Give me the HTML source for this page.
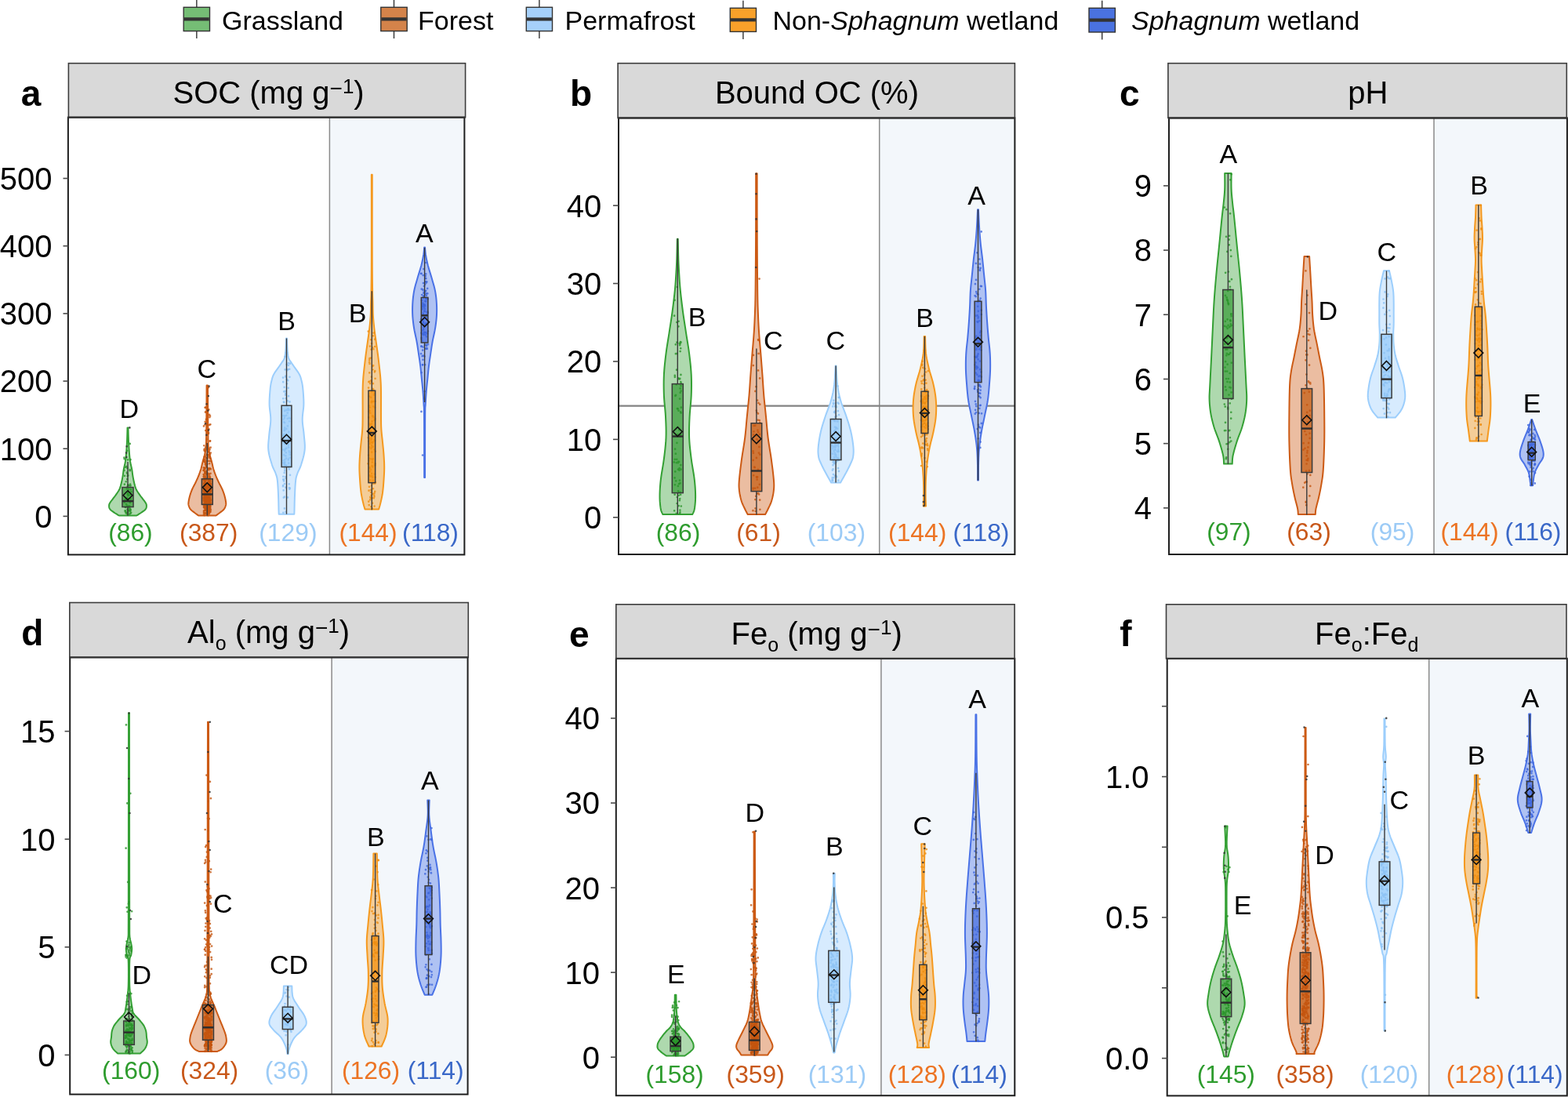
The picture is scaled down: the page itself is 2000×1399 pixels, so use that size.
<!DOCTYPE html><html><head><meta charset="utf-8"><title>Soil violin plots</title><style>html,body{margin:0;padding:0;background:#fff;}svg{display:block;}text{font-family:"Liberation Sans", Arial, Helvetica, sans-serif;}</style></head><body>
<svg width="2000" height="1399" viewBox="0 0 2000 1399">
<rect x="0" y="0" width="2000" height="1399" fill="#ffffff"/>
<line x1="250.85" y1="-0.2" x2="250.85" y2="9.3" stroke="#333" stroke-width="1.4"/>
<line x1="250.85" y1="39.6" x2="250.85" y2="49.1" stroke="#333" stroke-width="1.4"/>
<rect x="234.2" y="9.3" width="33.3" height="30.3" fill="#75bd75" stroke="#333" stroke-width="1.4"/>
<line x1="234.9" y1="24.45" x2="266.8" y2="24.45" stroke="#333" stroke-width="4.2"/>
<text x="283" y="38.3" font-size="34" fill="#000" xml:space="preserve">Grassland</text>
<line x1="502.5" y1="-0.2" x2="502.5" y2="9.3" stroke="#333" stroke-width="1.4"/>
<line x1="502.5" y1="39.6" x2="502.5" y2="49.1" stroke="#333" stroke-width="1.4"/>
<rect x="485.8" y="9.3" width="33.4" height="30.3" fill="#d4834a" stroke="#333" stroke-width="1.4"/>
<line x1="486.5" y1="24.45" x2="518.5" y2="24.45" stroke="#333" stroke-width="4.2"/>
<text x="533" y="38.3" font-size="34" fill="#000" xml:space="preserve">Forest</text>
<line x1="687.9" y1="-0.2" x2="687.9" y2="9.3" stroke="#333" stroke-width="1.4"/>
<line x1="687.9" y1="39.6" x2="687.9" y2="49.1" stroke="#333" stroke-width="1.4"/>
<rect x="671.3" y="9.3" width="33.2" height="30.3" fill="#a6d0fa" stroke="#333" stroke-width="1.4"/>
<line x1="672" y1="24.45" x2="703.8" y2="24.45" stroke="#333" stroke-width="4.2"/>
<text x="720.5" y="38.3" font-size="34" fill="#000" xml:space="preserve">Permafrost</text>
<line x1="947.9" y1="0.8" x2="947.9" y2="10.3" stroke="#333" stroke-width="1.4"/>
<line x1="947.9" y1="40.4" x2="947.9" y2="49.9" stroke="#333" stroke-width="1.4"/>
<rect x="931.3" y="10.3" width="33.2" height="30.1" fill="#f9a12a" stroke="#333" stroke-width="1.4"/>
<line x1="932" y1="25.35" x2="963.8" y2="25.35" stroke="#333" stroke-width="4.2"/>
<text x="985.5" y="38.3" font-size="34" fill="#000" xml:space="preserve">Non-<tspan font-style="italic">Sphagnum</tspan> wetland</text>
<line x1="1405.7" y1="0.8" x2="1405.7" y2="10.3" stroke="#333" stroke-width="1.4"/>
<line x1="1405.7" y1="41" x2="1405.7" y2="50.5" stroke="#333" stroke-width="1.4"/>
<rect x="1389" y="10.3" width="33.4" height="30.7" fill="#4a72e0" stroke="#333" stroke-width="1.4"/>
<line x1="1389.7" y1="25.65" x2="1421.7" y2="25.65" stroke="#333" stroke-width="4.2"/>
<text x="1443" y="38.3" font-size="34" fill="#000" xml:space="preserve"><tspan font-style="italic">Sphagnum</tspan> wetland</text>
<rect x="86.9" y="149.6" width="505.5" height="557.8" fill="#ffffff"/>
<rect x="420.4" y="149.6" width="172" height="557.8" fill="#f3f7fb"/>
<line x1="420.4" y1="149.6" x2="420.4" y2="707.4" stroke="#8a8a8a" stroke-width="1.5"/>
<path d="M163.45 545.4 L163.51 547.52 L163.58 550.44 L163.67 553.9 L163.79 557.65 L163.93 561.44 L164.1 565 L164.3 568.49 L164.53 572.14 L164.78 575.83 L165.06 579.42 L165.37 582.79 L165.7 585.8 L166.08 588.43 L166.51 590.79 L166.97 592.92 L167.43 594.88 L167.85 596.72 L168.2 598.5 L168.47 600.16 L168.68 601.64 L168.85 603.01 L169.01 604.32 L169.19 605.63 L169.4 607 L169.64 608.42 L169.9 609.83 L170.16 611.25 L170.45 612.67 L170.76 614.08 L171.1 615.5 L171.45 616.92 L171.79 618.33 L172.16 619.75 L172.59 621.17 L173.09 622.58 L173.7 624 L174.44 625.42 L175.29 626.83 L176.21 628.25 L177.19 629.67 L178.2 631.08 L179.2 632.5 L180.27 633.97 L181.46 635.49 L182.66 637.01 L183.81 638.48 L184.82 639.83 L185.6 641 L186.14 641.96 L186.51 642.75 L186.73 643.42 L186.85 644.03 L186.89 644.64 L186.9 645.3 L186.88 646 L186.81 646.7 L186.68 647.4 L186.44 648.1 L186.09 648.8 L185.6 649.5 L184.93 650.22 L184.09 650.95 L183.14 651.68 L182.12 652.41 L181.09 653.12 L180.1 653.8 L179.07 654.49 L177.94 655.21 L176.81 655.92 L175.74 656.56 L174.85 657.1 L174.2 657.5 L151.8 657.5 L151.15 657.1 L150.26 656.56 L149.19 655.92 L148.06 655.21 L146.93 654.49 L145.9 653.8 L144.91 653.12 L143.88 652.41 L142.86 651.68 L141.91 650.95 L141.07 650.22 L140.4 649.5 L139.91 648.8 L139.56 648.1 L139.32 647.4 L139.19 646.7 L139.12 646 L139.1 645.3 L139.11 644.64 L139.15 644.03 L139.27 643.42 L139.49 642.75 L139.86 641.96 L140.4 641 L141.18 639.83 L142.19 638.48 L143.34 637.01 L144.54 635.49 L145.73 633.97 L146.8 632.5 L147.8 631.08 L148.81 629.67 L149.79 628.25 L150.71 626.83 L151.56 625.42 L152.3 624 L152.91 622.58 L153.41 621.17 L153.84 619.75 L154.21 618.33 L154.55 616.92 L154.9 615.5 L155.24 614.08 L155.55 612.67 L155.84 611.25 L156.1 609.83 L156.36 608.42 L156.6 607 L156.81 605.63 L156.99 604.32 L157.15 603.01 L157.32 601.64 L157.53 600.16 L157.8 598.5 L158.15 596.72 L158.57 594.88 L159.03 592.92 L159.49 590.79 L159.92 588.43 L160.3 585.8 L160.63 582.79 L160.94 579.42 L161.22 575.83 L161.47 572.14 L161.7 568.49 L161.9 565 L162.07 561.44 L162.21 557.65 L162.33 553.9 L162.42 550.44 L162.49 547.52 L162.55 545.4 Z" fill="#aed9ae" stroke="#34a034" stroke-width="2" stroke-linejoin="round"/>
<rect x="155.95" y="621.5" width="14.1" height="25" fill="#5aad5a" fill-opacity="1"/>
<path d="M163.33 618.37h0M163.07 586.39h0M166.3 654.84h0M163.75 636.89h0M158.95 606.8h0M163.68 623.76h0M167.42 627.17h0M162.9 630.28h0M166.45 631.11h0M164.51 651.3h0M161.95 637.54h0M162.65 620.36h0M160.02 652.76h0M162.25 574.85h0M163.14 652.24h0M162.07 634.84h0M158.4 583.52h0M166.44 586.16h0M160.72 614.24h0M162.85 656.73h0M158.61 638.31h0M159.75 652.01h0M163.26 606.29h0M161.77 623.44h0M165.93 640.98h0" stroke="#2b952b" stroke-opacity="0.8" stroke-width="2.7" stroke-linecap="round" fill="none"/>
<path d="M163.16 628.34h0M158.66 585.26h0M162.81 646.32h0M165.3 647.39h0M165.66 598.99h0M162.09 654.32h0M159.96 651.54h0M159.74 646.83h0M163.45 619.08h0M163.24 654.24h0M166.42 650.06h0M160.72 638.01h0M162.25 611.14h0M162.45 604.09h0M165.75 565.93h0M163.57 631.97h0M166.46 650.94h0M163.55 651.02h0M159.66 651.14h0M166.52 619.41h0M167.16 653.86h0M163.5 626.35h0M161.45 594.78h0M159.77 637.21h0M164.84 648.44h0" stroke="#2b952b" stroke-opacity="0.8" stroke-width="2.7" stroke-linecap="round" fill="none"/>
<path d="M163 630.54h0M162.77 607.17h0M165.93 650.17h0M163.06 638.96h0M160.99 642.99h0M162.5 596.9h0M160.65 654.43h0M161.68 653.65h0M165.06 655.79h0M166.08 617.5h0M165.15 645.39h0M163.22 636.45h0M165.74 600.25h0M163.32 629.28h0M165.18 619.31h0M161.92 654.78h0M164.31 631.38h0M162.62 650.35h0M165.95 652.2h0M166.66 624.24h0M158.43 599.9h0M165.31 639.59h0M166.92 639.46h0M167.01 638.97h0M161.83 602.68h0" stroke="#2b952b" stroke-opacity="0.8" stroke-width="2.7" stroke-linecap="round" fill="none"/>
<path d="M166.8 636.42h0M165.02 650.85h0M158.85 617.65h0M162.74 649.29h0M160.42 646.96h0M160.17 595.84h0M162.2 644.86h0M163.03 653.88h0M158.6 640.54h0M163.8 645.81h0M166.27 649.3h0" stroke="#2b952b" stroke-opacity="0.8" stroke-width="2.7" stroke-linecap="round" fill="none"/>
<path d="M165.36 545.4h0M161.74 569.2h0M161.05 577.5h0M161.27 583h0" stroke="#333" stroke-opacity="0.85" stroke-width="2.6" stroke-linecap="round" fill="none"/>
<line x1="163" y1="588.9" x2="163" y2="621.5" stroke="#3a3a3a" stroke-width="1.4"/>
<line x1="163" y1="646.5" x2="163" y2="657.5" stroke="#3a3a3a" stroke-width="1.4"/>
<rect x="155.95" y="621.5" width="14.1" height="25" fill="none" stroke="#3a3a3a" stroke-width="1.5"/>
<line x1="155.95" y1="639.1" x2="170.05" y2="639.1" stroke="#2d2d2d" stroke-width="2.4"/>
<path d="M163 625.8 L168.9 631.7 L163 637.6 L157.1 631.7 Z" fill="none" stroke="#111" stroke-width="1.6" stroke-linejoin="miter"/>
<text x="164.8" y="532.9" font-size="34" text-anchor="middle" fill="#000">D</text>
<text x="166.4" y="690" font-size="31.8" text-anchor="middle" fill="#2e9c2e">(86)</text>
<path d="M265 491.5 L265.05 499.57 L265.11 511.24 L265.19 524.81 L265.28 538.59 L265.38 550.89 L265.5 560 L265.61 565.6 L265.69 568.96 L265.79 570.84 L265.94 571.98 L266.17 573.12 L266.5 575 L266.99 577.58 L267.62 580.24 L268.33 582.91 L269.06 585.48 L269.73 587.88 L270.3 590 L270.74 591.79 L271.09 593.31 L271.4 594.66 L271.7 595.91 L272.02 597.16 L272.4 598.5 L272.84 599.92 L273.3 601.33 L273.79 602.75 L274.31 604.17 L274.84 605.58 L275.4 607 L275.98 608.42 L276.59 609.83 L277.22 611.25 L277.87 612.67 L278.53 614.08 L279.2 615.5 L279.9 616.92 L280.64 618.33 L281.4 619.75 L282.14 621.17 L282.85 622.58 L283.5 624 L284.09 625.42 L284.64 626.83 L285.16 628.25 L285.64 629.67 L286.09 631.08 L286.5 632.5 L286.88 633.97 L287.24 635.49 L287.57 637.01 L287.84 638.48 L288.06 639.83 L288.2 641 L288.26 641.96 L288.26 642.75 L288.19 643.42 L288.07 644.03 L287.9 644.64 L287.7 645.3 L287.48 646 L287.23 646.7 L286.94 647.4 L286.58 648.1 L286.14 648.8 L285.6 649.5 L284.92 650.22 L284.12 650.95 L283.24 651.68 L282.31 652.41 L281.38 653.12 L280.5 653.8 L279.59 654.49 L278.61 655.21 L277.63 655.92 L276.72 656.56 L275.95 657.1 L275.4 657.5 L253.2 657.5 L252.65 657.1 L251.88 656.56 L250.97 655.92 L249.99 655.21 L249.01 654.49 L248.1 653.8 L247.22 653.12 L246.29 652.41 L245.36 651.68 L244.48 650.95 L243.68 650.22 L243 649.5 L242.46 648.8 L242.02 648.1 L241.66 647.4 L241.37 646.7 L241.12 646 L240.9 645.3 L240.7 644.64 L240.53 644.03 L240.41 643.42 L240.34 642.75 L240.34 641.96 L240.4 641 L240.54 639.83 L240.76 638.48 L241.03 637.01 L241.36 635.49 L241.72 633.97 L242.1 632.5 L242.51 631.08 L242.96 629.67 L243.44 628.25 L243.96 626.83 L244.51 625.42 L245.1 624 L245.75 622.58 L246.46 621.17 L247.2 619.75 L247.96 618.33 L248.7 616.92 L249.4 615.5 L250.07 614.08 L250.73 612.67 L251.38 611.25 L252.01 609.83 L252.62 608.42 L253.2 607 L253.76 605.58 L254.29 604.17 L254.81 602.75 L255.3 601.33 L255.76 599.92 L256.2 598.5 L256.58 597.16 L256.9 595.91 L257.2 594.66 L257.51 593.31 L257.86 591.79 L258.3 590 L258.87 587.88 L259.54 585.48 L260.27 582.91 L260.98 580.24 L261.61 577.58 L262.1 575 L262.43 573.12 L262.66 571.98 L262.81 570.84 L262.91 568.96 L262.99 565.6 L263.1 560 L263.22 550.89 L263.32 538.59 L263.41 524.81 L263.49 511.24 L263.55 499.57 L263.6 491.5 Z" fill="#ebbda1" stroke="#cc5a14" stroke-width="2" stroke-linejoin="round"/>
<rect x="257.35" y="610.7" width="13.9" height="32.7" fill="#cf7638" fill-opacity="1"/>
<path d="M265.66 647.79h0M264.77 618.46h0M260.88 598.65h0M260.35 607.46h0M262.47 591.28h0M259.9 608.47h0M267.03 604.81h0M261.59 614.2h0M267.24 652.5h0M268.46 617.74h0M266.44 640.6h0M259.99 646.86h0M262.27 519.6h0M263.68 627.88h0M263.48 640.4h0M260.07 626.26h0M266.58 644.23h0M262.21 640.66h0M262.11 650.48h0M262.24 610.46h0M268.38 643.63h0M262.01 649.85h0M267.08 645.56h0M262.72 619.79h0M261.52 621.35h0" stroke="#c4550f" stroke-opacity="0.8" stroke-width="2.7" stroke-linecap="round" fill="none"/>
<path d="M260.3 616.48h0M261.85 609.32h0M260.81 632.1h0M264.92 631.08h0M262.7 638.27h0M268.82 625.7h0M268.11 627.47h0M268.26 653.01h0M263.09 594.41h0M259.8 599.67h0M260.63 582.48h0M261.21 597.6h0M262.31 606.94h0M259.75 612.35h0M267.25 641.17h0M268.02 645.24h0M261.38 631.99h0M267.41 617.24h0M261.35 620.98h0M265.56 576.19h0M260.2 620.59h0M267.59 649.34h0M268.73 626.79h0M266.95 643.56h0M262.93 645.98h0" stroke="#c4550f" stroke-opacity="0.8" stroke-width="2.7" stroke-linecap="round" fill="none"/>
<path d="M267.95 617.03h0M262.12 644.2h0M265.04 636.41h0M268.84 638h0M268.81 623.91h0M261.33 618.43h0M267.24 614.94h0M265.81 654.85h0M260.01 543.4h0M261.79 640.16h0M259.72 599.92h0M261.07 646.97h0M263.4 636.13h0M268.01 613.26h0M261.54 647.69h0M266.28 639.13h0M266.52 615.2h0M262.15 631.83h0M262.14 622.38h0M262.71 648.32h0M261.9 637.61h0M266.07 642.16h0M260.69 643.29h0M267.29 626.3h0M260.62 596.34h0" stroke="#c4550f" stroke-opacity="0.8" stroke-width="2.7" stroke-linecap="round" fill="none"/>
<path d="M262.65 610.32h0M267.53 651.52h0M263.5 594.13h0M267.24 634.63h0M261.56 519.78h0M267.87 639.31h0M263.94 638.24h0M260.86 619.89h0M261.14 631.55h0M261.5 613.23h0M261.6 597.4h0M264.98 642.23h0M261.8 615.85h0M267.54 619.99h0M263.56 595.79h0M265.49 621.37h0M265.72 645.91h0M264.21 620.68h0M264.7 653.29h0M260.63 647.64h0M266 648.86h0M261.71 647.53h0M261.65 624.55h0M264.02 625.89h0M265.58 651.5h0" stroke="#c4550f" stroke-opacity="0.8" stroke-width="2.7" stroke-linecap="round" fill="none"/>
<path d="M264.01 627.41h0M266.34 522.36h0M260.22 645.67h0M267.35 621.65h0M259.81 596.6h0M262 649.49h0M261.24 641.58h0M266.89 639.43h0M265.56 650.96h0M265.31 597.1h0M266.31 640.5h0M264.07 634.54h0M267.32 628.74h0M266.99 653.35h0M260.16 638.51h0M261.45 541.37h0M265.75 644.46h0M263.09 643.24h0M264.87 628.05h0M264.92 646.52h0M268.15 626.02h0M263.26 565.61h0M263.49 654.31h0M265.99 494.08h0M266.45 610.91h0" stroke="#c4550f" stroke-opacity="0.8" stroke-width="2.7" stroke-linecap="round" fill="none"/>
<path d="M260.48 633.51h0M259.84 610.56h0M267.62 612.59h0M264.91 648.36h0M265.27 628.85h0M259.72 625.54h0M267.37 638.81h0M266 632.8h0M260.48 643.18h0M265.28 646.17h0M261.84 625.39h0M264.08 638.43h0M261.47 589.33h0M260.68 657.03h0M260.05 651.44h0M265.2 642.55h0M264.89 650.74h0M267.4 641.36h0M261.03 655.08h0M265.14 603.86h0M262.68 617.31h0M266.3 603.99h0M268.29 645.49h0M260.99 635.38h0M265.48 645.68h0" stroke="#c4550f" stroke-opacity="0.8" stroke-width="2.7" stroke-linecap="round" fill="none"/>
<path d="M265.48 628.13h0M267.71 583.36h0M261.24 630.87h0M268.7 641.43h0M264.09 602.43h0M262.36 645.06h0M266.38 640.27h0M260.3 588.27h0M266.34 613.13h0M259.84 635.01h0M267.72 642.6h0M261.2 629.55h0M264.42 649.87h0M260.59 627.15h0M259.86 607.53h0M260.83 610.54h0M267.3 615.43h0M263.57 647.14h0M263.34 630.89h0M262.81 647.75h0M263.68 579.61h0M260.98 575.29h0M267.15 647.03h0M260.02 638.31h0M265.94 598h0" stroke="#c4550f" stroke-opacity="0.8" stroke-width="2.7" stroke-linecap="round" fill="none"/>
<path d="M262.01 644.95h0M262.51 649.34h0M265.17 598.99h0M262.17 650.21h0M266.24 599.46h0M264.82 634.57h0M266.8 655.43h0M260.27 636.13h0M261.77 613.58h0M261.12 650.74h0M264.46 632.6h0M266.92 617.61h0M263.54 651.32h0M263.29 611.53h0M263.79 632.53h0M268.17 588.04h0M260.14 642.66h0M264.65 644.27h0M264.53 648.85h0M263.75 651.6h0M262.63 626.94h0M267.25 639.99h0M266.05 622.25h0M265.85 631.3h0M267.12 628.14h0" stroke="#c4550f" stroke-opacity="0.8" stroke-width="2.7" stroke-linecap="round" fill="none"/>
<path d="M266.28 619.42h0M262.91 641.54h0M262.6 646.02h0M262.49 640.71h0M262.54 610.77h0M266.99 636.8h0M264.87 652.78h0M261.95 628.59h0M261.13 601.77h0M262.18 608.67h0M263.78 630.11h0M261.16 630.33h0M267.98 608.77h0M265.75 619.61h0M267.82 642.38h0M262.24 634.47h0M263.5 601.66h0M266.26 643.01h0M267.42 597.46h0M259.71 605.1h0M262.33 629.99h0M261.95 592.33h0M266.09 615.92h0M260.53 629.07h0M268.26 648.6h0" stroke="#c4550f" stroke-opacity="0.8" stroke-width="2.7" stroke-linecap="round" fill="none"/>
<path d="M263.87 629.28h0M266.71 645.57h0M264.73 625.25h0M264.7 652.42h0M261.92 602.78h0M262.45 646.85h0M264.88 638.36h0M260.7 654.22h0M262.01 646.75h0M261.41 630.87h0M266.92 645.33h0M262.71 629.35h0M260.08 629.51h0M268.03 627.58h0M264.3 648.36h0M266.03 587.97h0M260.07 652.49h0M267.44 611.51h0M263.61 633.48h0M262.42 641.56h0M268.66 642.35h0M267.16 651.16h0M261.44 638.43h0M260.73 639.24h0M260.57 634.62h0" stroke="#c4550f" stroke-opacity="0.8" stroke-width="2.7" stroke-linecap="round" fill="none"/>
<path d="M263.45 589.18h0M266.27 634.84h0M268.81 617.15h0M267.34 611.29h0M266.83 650.87h0M262.46 590.16h0M267.88 608.93h0M266.56 636.05h0M265.25 611.32h0M268.21 624.8h0M261.48 603.59h0M259.89 588.01h0M266.04 636.82h0M260.03 636.43h0M264.08 604.3h0M262.73 592.9h0M261.26 589.31h0M265.03 550.21h0M262.21 602.88h0M265.54 620.03h0M262.5 647.31h0M263.08 655.58h0M268.18 647.11h0M261.34 588.34h0M262.07 640.75h0" stroke="#c4550f" stroke-opacity="0.8" stroke-width="2.7" stroke-linecap="round" fill="none"/>
<path d="M261.51 634.94h0M267.15 591.27h0M260.96 636.84h0M268.19 636.82h0M260.56 611.71h0M267.19 618.85h0M262.26 653.75h0M268.8 620.01h0M259.97 644.46h0M268.74 620.67h0M266.45 641.48h0M261.76 648.36h0M268.85 598.19h0M266.61 635.8h0M262.75 628.09h0M267.65 634.82h0M259.92 656.64h0M262.82 604.84h0M267.81 643.97h0M261.86 654.12h0M260.05 622.99h0M261.68 644h0M261.33 612.91h0M266.03 551.69h0M262.63 610.65h0" stroke="#c4550f" stroke-opacity="0.8" stroke-width="2.7" stroke-linecap="round" fill="none"/>
<path d="M265.29 657.23h0M265.32 645.26h0M268.06 631.45h0M266.57 652.79h0M265.15 633.18h0M265.49 656.63h0M266.25 614.89h0M266.34 642.35h0M264.52 645.44h0M265.59 627.93h0M263.21 635.55h0M260.83 629.63h0M263.87 624.83h0M261.08 624.01h0M264.49 604.41h0M261.34 586.21h0M262.68 610.72h0M263.59 634.08h0M263.12 623.02h0M265.82 609.67h0M264.54 617h0M265.15 617.17h0M264.06 630.87h0M264.22 639.3h0M260.21 616.55h0" stroke="#c4550f" stroke-opacity="0.8" stroke-width="2.7" stroke-linecap="round" fill="none"/>
<path d="M265.07 606.21h0M262.78 636.24h0M268.8 577.52h0M264.4 634.07h0M262.59 583.82h0M263.88 624.71h0M267.78 646.69h0M267.64 597.62h0M261.64 603.54h0M268.14 630.66h0M265.76 649.34h0M260.22 605.36h0M267.39 606.99h0M268.09 584.56h0M260 654.2h0M265.95 612.39h0M264.67 634.92h0M268.21 631.84h0M268.39 652.08h0M262.76 600.48h0M266.95 614.73h0M264.77 584.32h0M263.94 622.31h0M261.26 601.58h0M267.45 647.8h0" stroke="#c4550f" stroke-opacity="0.8" stroke-width="2.7" stroke-linecap="round" fill="none"/>
<path d="M261.07 636.49h0M267.89 636.17h0M265.02 639.32h0M260.27 621.65h0M265.39 654.67h0M264.28 622.9h0M260.55 631.89h0M261.19 610.6h0M266.56 651.81h0M266.55 647.06h0M265.13 629.69h0M267.41 622.22h0M268.36 623.25h0M260.5 628.58h0M259.74 630.33h0M260.72 572.68h0M265.26 626.36h0M262.39 631.69h0M265.78 607.9h0M265.98 625.48h0M261.76 650.48h0M267.92 639.22h0M268.79 650.16h0M267.15 648.37h0M263.17 634.63h0" stroke="#c4550f" stroke-opacity="0.8" stroke-width="2.7" stroke-linecap="round" fill="none"/>
<path d="M265.83 645.65h0M263.05 642.09h0M267.38 653.55h0M266.6 639.42h0M265.11 639.47h0M263.31 587.24h0M268.56 603.8h0M260.99 623.25h0M262.55 651.21h0M262.65 648.16h0M267.4 642.36h0M264.84 617.17h0M265.87 580.21h0M262.23 549.02h0M268.14 562.35h0M262.35 570.42h0M262.09 581.71h0M260.08 586.13h0M264.91 548.29h0M268.35 541.24h0M261.94 525.59h0M264.75 580.3h0M265.94 553.02h0M267.13 528.9h0M262.52 571.58h0" stroke="#c4550f" stroke-opacity="0.8" stroke-width="2.7" stroke-linecap="round" fill="none"/>
<path d="M268.6 570.71h0M266.07 581.97h0M263.33 595.23h0M266.53 547.34h0M263.31 584.46h0M262.92 534.86h0M267.72 562.54h0M264.49 573.55h0M267.99 530.69h0M262.82 525.28h0M263.5 560.17h0M267.54 573.42h0M265.02 552.29h0M264.98 541.91h0M267.47 583.08h0M267.41 532.09h0M265.88 580.33h0M264.31 591.87h0M267.97 579.44h0M267.25 571.91h0M267.78 530.5h0M266.18 576.3h0M265.33 542.01h0M260.32 568.27h0M267.28 541.84h0" stroke="#c4550f" stroke-opacity="0.8" stroke-width="2.7" stroke-linecap="round" fill="none"/>
<path d="M261.66 537.91h0M260.56 574.08h0" stroke="#c4550f" stroke-opacity="0.8" stroke-width="2.7" stroke-linecap="round" fill="none"/>
<path d="M266.67 492.5h0M265.81 505h0M263.6 515.3h0M265.3 523.6h0M262.16 540.2h0M265.99 548.5h0M263.43 554.7h0" stroke="#333" stroke-opacity="0.85" stroke-width="2.6" stroke-linecap="round" fill="none"/>
<line x1="264.3" y1="565" x2="264.3" y2="610.7" stroke="#3a3a3a" stroke-width="1.4"/>
<line x1="264.3" y1="643.4" x2="264.3" y2="657.5" stroke="#3a3a3a" stroke-width="1.4"/>
<rect x="257.35" y="610.7" width="13.9" height="32.7" fill="none" stroke="#3a3a3a" stroke-width="1.5"/>
<line x1="257.35" y1="630.4" x2="271.25" y2="630.4" stroke="#2d2d2d" stroke-width="2.4"/>
<path d="M264.3 615.7 L270.2 621.6 L264.3 627.5 L258.4 621.6 Z" fill="none" stroke="#111" stroke-width="1.6" stroke-linejoin="miter"/>
<text x="263.9" y="482.2" font-size="34" text-anchor="middle" fill="#000">C</text>
<text x="266.2" y="690" font-size="31.8" text-anchor="middle" fill="#c8581a">(387)</text>
<path d="M365.95 431.5 L366.01 433.04 L366.09 435.24 L366.18 437.81 L366.29 440.48 L366.39 442.97 L366.5 445 L366.6 446.56 L366.69 447.86 L366.79 448.97 L366.9 449.99 L367.04 450.97 L367.2 452 L367.35 453.01 L367.47 453.93 L367.62 454.82 L367.84 455.74 L368.18 456.74 L368.7 457.9 L369.43 459.22 L370.33 460.66 L371.36 462.18 L372.46 463.77 L373.59 465.38 L374.7 467 L375.86 468.65 L377.11 470.37 L378.39 472.12 L379.63 473.86 L380.75 475.57 L381.7 477.2 L382.45 478.73 L383.04 480.17 L383.53 481.58 L383.94 482.99 L384.32 484.45 L384.7 486 L385.07 487.55 L385.39 489.05 L385.68 490.59 L385.93 492.29 L386.17 494.22 L386.4 496.5 L386.64 499.21 L386.89 502.28 L387.11 505.6 L387.29 509.04 L387.4 512.48 L387.4 515.8 L387.23 519.02 L386.9 522.23 L386.49 525.45 L386.09 528.67 L385.8 531.88 L385.7 535.1 L385.83 538.32 L386.13 541.53 L386.53 544.75 L386.97 547.97 L387.38 551.18 L387.7 554.4 L387.99 557.62 L388.32 560.83 L388.62 564.05 L388.83 567.27 L388.87 570.48 L388.7 573.7 L388.24 577.02 L387.54 580.48 L386.68 583.93 L385.75 587.26 L384.83 590.32 L384 593 L383.24 595.21 L382.47 597.04 L381.71 598.62 L380.99 600.06 L380.31 601.48 L379.7 603 L379.16 604.49 L378.69 605.81 L378.26 607.12 L377.87 608.56 L377.52 610.27 L377.2 612.4 L376.92 615.04 L376.68 618.1 L376.47 621.43 L376.3 624.9 L376.14 628.37 L376 631.7 L375.87 635.09 L375.77 638.67 L375.69 642.26 L375.62 645.65 L375.56 648.63 L375.5 651 L375.45 652.68 L375.4 653.82 L375.37 654.56 L375.34 655.02 L375.32 655.36 L375.3 655.7 L355.7 655.7 L355.68 655.36 L355.66 655.02 L355.63 654.56 L355.6 653.82 L355.55 652.68 L355.5 651 L355.44 648.63 L355.38 645.65 L355.31 642.26 L355.23 638.67 L355.13 635.09 L355 631.7 L354.86 628.37 L354.7 624.9 L354.53 621.43 L354.32 618.1 L354.08 615.04 L353.8 612.4 L353.48 610.27 L353.13 608.56 L352.74 607.12 L352.31 605.81 L351.84 604.49 L351.3 603 L350.69 601.48 L350.01 600.06 L349.29 598.62 L348.53 597.04 L347.76 595.21 L347 593 L346.17 590.32 L345.25 587.26 L344.32 583.93 L343.46 580.48 L342.76 577.02 L342.3 573.7 L342.13 570.48 L342.17 567.27 L342.38 564.05 L342.68 560.83 L343.01 557.62 L343.3 554.4 L343.62 551.18 L344.03 547.97 L344.47 544.75 L344.87 541.53 L345.17 538.32 L345.3 535.1 L345.2 531.88 L344.91 528.67 L344.51 525.45 L344.1 522.23 L343.77 519.02 L343.6 515.8 L343.6 512.48 L343.71 509.04 L343.89 505.6 L344.11 502.28 L344.36 499.21 L344.6 496.5 L344.83 494.22 L345.07 492.29 L345.32 490.59 L345.61 489.05 L345.93 487.55 L346.3 486 L346.68 484.45 L347.06 482.99 L347.47 481.58 L347.96 480.17 L348.55 478.73 L349.3 477.2 L350.25 475.57 L351.37 473.86 L352.61 472.12 L353.89 470.37 L355.14 468.65 L356.3 467 L357.41 465.38 L358.54 463.77 L359.64 462.18 L360.67 460.66 L361.57 459.22 L362.3 457.9 L362.82 456.74 L363.16 455.74 L363.38 454.82 L363.53 453.93 L363.65 453.01 L363.8 452 L363.96 450.97 L364.1 449.99 L364.21 448.97 L364.31 447.86 L364.4 446.56 L364.5 445 L364.61 442.97 L364.71 440.48 L364.82 437.81 L364.91 435.24 L364.99 433.04 L365.05 431.5 Z" fill="#d7ebfe" stroke="#9ccefc" stroke-width="2" stroke-linejoin="round"/>
<rect x="359.1" y="517.2" width="12.8" height="78.3" fill="#a7d3fb" fill-opacity="1"/>
<path d="M361.26 555.91h0M362.97 617h0M363.95 572.62h0M368.2 558.95h0M366.7 526.54h0M364.58 593.94h0M362.98 546.31h0M365.08 584.55h0M364.61 508.1h0M367.67 494.85h0M362.72 547.23h0M363.34 589.28h0M369.85 557.11h0M362.79 592.81h0M363.33 593.37h0M366.72 511.18h0M361.31 653.79h0M369.17 470.77h0M361.84 611.87h0M370.01 605.81h0M362.08 538.27h0M363.22 545.38h0M368.37 595.71h0M361.02 620.14h0M364.39 479.49h0" stroke="#8cc2f4" stroke-opacity="0.8" stroke-width="2.7" stroke-linecap="round" fill="none"/>
<path d="M361.3 607.73h0M365.36 571.53h0M363.14 574.87h0M361.86 634.58h0M362.74 564.05h0M366.75 533.83h0M361.52 590.01h0M365.23 593.93h0M367.47 521.23h0M367.27 485.26h0M369.26 537.26h0M363.1 565.81h0M364.51 652.75h0M361.25 573.62h0M361.35 611.47h0M369.46 480.73h0M363.32 574.68h0M367.87 465.9h0M368.32 590.68h0M365.52 556.13h0M368.26 570.47h0M364.55 553.79h0M362.02 613.45h0M364.85 577.24h0M361.77 553.94h0" stroke="#8cc2f4" stroke-opacity="0.8" stroke-width="2.7" stroke-linecap="round" fill="none"/>
<path d="M364.28 621.69h0M362.26 499.37h0M367.97 567.46h0M365.09 565.74h0M366.87 522.84h0M368.98 622.07h0M363.22 530.54h0M363.88 498.88h0M363.2 600.25h0M363.02 523.96h0M368.03 505.2h0M368.49 550.78h0M364.28 501.82h0M369.53 577.22h0M367.25 522.86h0M362.85 648.4h0M367.22 471.02h0M367.83 586.34h0M361.15 487.21h0M363.29 586.46h0M366.4 564.03h0M361.49 587.3h0M361.94 512.55h0M367.98 585.65h0M363.69 471.38h0" stroke="#8cc2f4" stroke-opacity="0.8" stroke-width="2.7" stroke-linecap="round" fill="none"/>
<path d="M364.99 523.19h0M369.48 594.79h0M361.18 508.25h0M368.77 617.31h0M362.65 493.75h0M366.97 634.38h0M362.56 563.1h0M369.94 463.71h0M366.14 517.37h0M361.04 481.55h0M369.76 622.64h0M362.17 513.03h0M364.27 608.16h0M363.18 548.77h0M364.4 609.96h0M362.68 602.97h0M364.26 480.6h0M368.9 575.31h0M361.17 619.03h0M365.13 529.78h0M361.98 591.02h0M363.02 539.01h0M361.52 530.21h0M369.52 512.47h0M362.95 555.88h0" stroke="#8cc2f4" stroke-opacity="0.8" stroke-width="2.7" stroke-linecap="round" fill="none"/>
<path d="M368.91 598.35h0M362.47 549.17h0M361.66 625.36h0M361.58 534.84h0M362.79 533.07h0M362 580.13h0M366.91 471.85h0M365.23 546.89h0M363.05 597.51h0M366.89 543.37h0M369.21 623.71h0M366.4 472.24h0M362.9 633.64h0M367.79 463h0M364.6 562.28h0M369.63 583.76h0M365.61 483.76h0M369.74 533.86h0M364.06 503.64h0M364.34 581.42h0M366.07 489.31h0M363.11 591.07h0M365.7 464.94h0M361.42 561.85h0M366.29 484.03h0" stroke="#8cc2f4" stroke-opacity="0.8" stroke-width="2.7" stroke-linecap="round" fill="none"/>
<path d="M369.07 532.93h0M369.7 579.85h0M369.32 522.92h0M363.56 454.84h0" stroke="#8cc2f4" stroke-opacity="0.8" stroke-width="2.7" stroke-linecap="round" fill="none"/>
<line x1="365.5" y1="431.5" x2="365.5" y2="517.2" stroke="#3a3a3a" stroke-width="1.4"/>
<line x1="365.5" y1="595.5" x2="365.5" y2="655.7" stroke="#3a3a3a" stroke-width="1.4"/>
<rect x="359.1" y="517.2" width="12.8" height="78.3" fill="none" stroke="#3a3a3a" stroke-width="1.5"/>
<line x1="359.1" y1="562" x2="371.9" y2="562" stroke="#2d2d2d" stroke-width="2.4"/>
<path d="M365.5 554.3 L371.4 560.2 L365.5 566.1 L359.6 560.2 Z" fill="none" stroke="#111" stroke-width="1.6" stroke-linejoin="miter"/>
<text x="365.6" y="420.6" font-size="34" text-anchor="middle" fill="#000">B</text>
<text x="367.4" y="690" font-size="31.8" text-anchor="middle" fill="#9ccbf6">(129)</text>
<path d="M474.75 222.8 L474.75 235.23 L474.74 253.04 L474.73 273.84 L474.72 295.2 L474.73 314.72 L474.75 330 L474.79 340.98 L474.84 349.57 L474.9 356.32 L474.97 361.79 L475.03 366.5 L475.1 371 L475.16 374.85 L475.23 377.52 L475.3 379.44 L475.36 381.04 L475.43 382.75 L475.5 385 L475.55 387.78 L475.59 390.74 L475.62 393.81 L475.68 396.93 L475.76 400.01 L475.9 403 L476.09 405.91 L476.33 408.8 L476.59 411.67 L476.89 414.5 L477.19 417.28 L477.5 420 L477.82 422.64 L478.16 425.21 L478.51 427.73 L478.87 430.23 L479.24 432.75 L479.6 435.3 L479.96 437.88 L480.33 440.47 L480.71 443.08 L481.08 445.69 L481.44 448.33 L481.8 451 L482.15 453.71 L482.5 456.46 L482.84 459.23 L483.17 462 L483.49 464.76 L483.8 467.5 L484.1 470.21 L484.4 472.9 L484.69 475.57 L484.96 478.25 L485.2 480.92 L485.4 483.6 L485.56 486.1 L485.7 488.37 L485.8 490.64 L485.88 493.14 L485.95 496.08 L486 499.7 L486.03 504.32 L486.03 509.84 L486.01 515.8 L485.99 521.76 L485.98 527.28 L486 531.9 L486.03 535.52 L486.06 538.46 L486.1 540.96 L486.16 543.24 L486.26 545.51 L486.4 548 L486.6 550.67 L486.85 553.34 L487.13 556 L487.43 558.66 L487.73 561.33 L488 564 L488.27 566.68 L488.54 569.36 L488.81 572.04 L489.06 574.73 L489.3 577.42 L489.5 580.1 L489.68 582.78 L489.84 585.47 L489.99 588.15 L490.1 590.83 L490.17 593.52 L490.2 596.2 L490.17 598.88 L490.1 601.57 L489.99 604.25 L489.84 606.93 L489.68 609.62 L489.5 612.3 L489.31 615.02 L489.1 617.79 L488.87 620.55 L488.61 623.27 L488.32 625.9 L488 628.4 L487.63 630.79 L487.2 633.11 L486.75 635.34 L486.29 637.47 L485.83 639.46 L485.4 641.3 L484.97 643.03 L484.53 644.69 L484.09 646.21 L483.69 647.55 L483.35 648.66 L483.1 649.5 L465.5 649.5 L465.25 648.66 L464.91 647.55 L464.51 646.21 L464.07 644.69 L463.63 643.03 L463.2 641.3 L462.77 639.46 L462.31 637.47 L461.85 635.34 L461.4 633.11 L460.97 630.79 L460.6 628.4 L460.28 625.9 L459.99 623.27 L459.73 620.55 L459.5 617.79 L459.29 615.02 L459.1 612.3 L458.92 609.62 L458.76 606.93 L458.61 604.25 L458.5 601.57 L458.43 598.88 L458.4 596.2 L458.43 593.52 L458.5 590.83 L458.61 588.15 L458.76 585.47 L458.92 582.78 L459.1 580.1 L459.3 577.42 L459.54 574.73 L459.79 572.04 L460.06 569.36 L460.33 566.68 L460.6 564 L460.87 561.33 L461.17 558.66 L461.47 556 L461.75 553.34 L462 550.67 L462.2 548 L462.34 545.51 L462.44 543.24 L462.5 540.96 L462.54 538.46 L462.57 535.52 L462.6 531.9 L462.62 527.28 L462.61 521.76 L462.59 515.8 L462.57 509.84 L462.57 504.32 L462.6 499.7 L462.65 496.08 L462.72 493.14 L462.8 490.64 L462.9 488.37 L463.04 486.1 L463.2 483.6 L463.4 480.92 L463.64 478.25 L463.91 475.57 L464.2 472.9 L464.5 470.21 L464.8 467.5 L465.11 464.76 L465.43 462 L465.76 459.23 L466.1 456.46 L466.45 453.71 L466.8 451 L467.16 448.33 L467.52 445.69 L467.89 443.08 L468.27 440.47 L468.64 437.88 L469 435.3 L469.36 432.75 L469.73 430.23 L470.09 427.73 L470.44 425.21 L470.78 422.64 L471.1 420 L471.41 417.28 L471.71 414.5 L472.01 411.67 L472.27 408.8 L472.51 405.91 L472.7 403 L472.84 400.01 L472.92 396.93 L472.98 393.81 L473.01 390.74 L473.05 387.78 L473.1 385 L473.17 382.75 L473.24 381.04 L473.3 379.44 L473.37 377.52 L473.44 374.85 L473.5 371 L473.57 366.5 L473.63 361.79 L473.7 356.32 L473.76 349.57 L473.81 340.98 L473.85 330 L473.87 314.72 L473.88 295.2 L473.87 273.84 L473.86 253.04 L473.85 235.23 L473.85 222.8 Z" fill="#f4cd98" stroke="#f5991f" stroke-width="2" stroke-linejoin="round"/>
<rect x="469.95" y="498.2" width="8.7" height="117.4" fill="#f5a032" fill-opacity="1"/>
<path d="M474.57 594.22h0M475.71 584.99h0M471.94 441.61h0M477.07 503.62h0M471.47 606.31h0M476.07 466.15h0M476.52 511.85h0M475.88 489.17h0M474.07 563.99h0M475.66 512.08h0M473.66 558.05h0M473.46 631.54h0M471.75 550.03h0M472.97 624.91h0M471.31 523.38h0M475.92 428.34h0M477.39 633.49h0M476.19 496.78h0M476.75 635.13h0M477.52 573.37h0M471.52 596.22h0M470.34 532.42h0M471.82 519.73h0M470.75 644.04h0M473.54 445.68h0" stroke="#ee8d12" stroke-opacity="0.8" stroke-width="2.7" stroke-linecap="round" fill="none"/>
<path d="M472.12 489.08h0M472.84 560.64h0M478.25 432.65h0M471.12 461.91h0M476.3 518.35h0M475.09 565.01h0M471.83 565.87h0M471.47 463.9h0M475.53 471.35h0M476.36 531.91h0M475.36 495.8h0M472.56 607.61h0M471.15 505.5h0M478.52 575.68h0M472.6 561.75h0M475.3 530.53h0M478.27 442.01h0M471.52 597.14h0M476.29 445.24h0M473.81 551.5h0M473.89 486.82h0M470.04 494.53h0M470.33 487.07h0M472.35 633.94h0M470.68 550.47h0" stroke="#ee8d12" stroke-opacity="0.8" stroke-width="2.7" stroke-linecap="round" fill="none"/>
<path d="M472.81 549.21h0M472.09 637.45h0M478.5 608.65h0M473.98 480.55h0M477.18 631.68h0M477.56 645.48h0M471.43 540.58h0M469.8 591.07h0M477.97 548.55h0M477.51 629.03h0M473.07 572.23h0M471.95 601.41h0M478.81 615.19h0M475.73 569.71h0M470.98 584.59h0M475.93 623.15h0M477.71 501.2h0M472.82 456.53h0M477.7 556.87h0M470.35 562.69h0M475.52 629.9h0M477.98 604.58h0M477.74 535.89h0M475.1 467.41h0M474.15 576.63h0" stroke="#ee8d12" stroke-opacity="0.8" stroke-width="2.7" stroke-linecap="round" fill="none"/>
<path d="M473.03 506.78h0M478.11 519.74h0M471.75 559.41h0M473.2 646.27h0M478.07 562.12h0M478.2 593.38h0M474.4 607.02h0M471.02 620.75h0M469.75 422.62h0M472.05 542.12h0M475.25 443.27h0M475.09 608.6h0M472.21 526.65h0M470.18 580.53h0M470.49 625.66h0M473.93 511.95h0M471.19 486.59h0M474.11 438.1h0M471.26 475.39h0M472.96 635.42h0M471.1 517.52h0M469.76 591.61h0M472.96 585.28h0M473.07 627.87h0M475.13 586.17h0" stroke="#ee8d12" stroke-opacity="0.8" stroke-width="2.7" stroke-linecap="round" fill="none"/>
<path d="M478.39 511.78h0M471.38 457.22h0M472.67 564.37h0M474.09 619.37h0M472.24 612.37h0M478.08 535.75h0M478.18 626.86h0M475.19 595.28h0M470.21 639.6h0M470.73 525.03h0M478.62 482.77h0M471.36 524h0M474.58 537.35h0M473.74 513.26h0M473.85 560.28h0M472.8 598.88h0M474.86 589.51h0M469.75 558.17h0M475.86 563.34h0M473.16 485.3h0M477.26 560.83h0M478.26 616.6h0M476.7 545.79h0M478.29 473.07h0M474.24 499.62h0" stroke="#ee8d12" stroke-opacity="0.8" stroke-width="2.7" stroke-linecap="round" fill="none"/>
<path d="M475.72 530.79h0M474.96 648.6h0M473.9 567.78h0M478.44 591.29h0M476.59 424.53h0M474.1 570.53h0M473.97 603.94h0M478.28 533.92h0M471.41 570.43h0M474.6 551.86h0M470.6 587.56h0M475.97 612.7h0M473.96 540.57h0M475.99 616.74h0M471.24 459.24h0M473.08 433.23h0M477.85 474.29h0M475.06 641.67h0M474.74 635.34h0" stroke="#ee8d12" stroke-opacity="0.8" stroke-width="2.7" stroke-linecap="round" fill="none"/>
<line x1="474.3" y1="371.3" x2="474.3" y2="498.2" stroke="#3a3a3a" stroke-width="1.4"/>
<line x1="474.3" y1="615.6" x2="474.3" y2="650.2" stroke="#3a3a3a" stroke-width="1.4"/>
<rect x="469.95" y="498.2" width="8.7" height="117.4" fill="none" stroke="#3a3a3a" stroke-width="1.5"/>
<line x1="469.95" y1="552" x2="478.65" y2="552" stroke="#2d2d2d" stroke-width="2.4"/>
<path d="M474.3 544.1 L480.2 550 L474.3 555.9 L468.4 550 Z" fill="none" stroke="#111" stroke-width="1.6" stroke-linejoin="miter"/>
<text x="456.2" y="410.7" font-size="34" text-anchor="middle" fill="#000">B</text>
<text x="469.5" y="690" font-size="31.8" text-anchor="middle" fill="#ec7424">(144)</text>
<path d="M542.05 315.6 L542.13 316.57 L542.22 317.88 L542.34 319.44 L542.5 321.2 L542.72 323.08 L543 325 L543.35 327.01 L543.75 329.16 L544.21 331.43 L544.72 333.8 L545.28 336.23 L545.9 338.7 L546.6 341.24 L547.38 343.89 L548.21 346.6 L549.07 349.34 L549.91 352.09 L550.7 354.8 L551.47 357.48 L552.26 360.17 L553.03 362.85 L553.76 365.53 L554.43 368.22 L555 370.9 L555.48 373.58 L555.88 376.27 L556.22 378.95 L556.5 381.63 L556.72 384.32 L556.9 387 L557.03 389.68 L557.11 392.37 L557.14 395.05 L557.11 397.73 L557.03 400.42 L556.9 403.1 L556.71 405.78 L556.46 408.47 L556.16 411.15 L555.81 413.83 L555.42 416.52 L555 419.2 L554.52 421.88 L553.97 424.57 L553.39 427.25 L552.79 429.93 L552.22 432.62 L551.7 435.3 L551.23 437.98 L550.8 440.67 L550.39 443.35 L549.99 446.03 L549.6 448.72 L549.2 451.4 L548.8 454.08 L548.39 456.77 L547.99 459.45 L547.61 462.13 L547.24 464.82 L546.9 467.5 L546.59 470.18 L546.31 472.87 L546.06 475.55 L545.81 478.23 L545.56 480.92 L545.3 483.6 L545.03 486.28 L544.74 488.97 L544.46 491.65 L544.19 494.33 L543.93 497.02 L543.7 499.7 L543.49 502.41 L543.3 505.14 L543.13 507.87 L542.97 510.57 L542.83 513.23 L542.7 515.8 L542.58 517.53 L542.48 518.27 L542.4 518.96 L542.32 520.53 L542.26 523.9 L542.2 530 L542.15 540.34 L542.12 554.49 L542.09 570.44 L542.08 586.19 L542.06 599.74 L542.05 609.1 L541.15 609.1 L541.14 599.74 L541.12 586.19 L541.11 570.44 L541.08 554.49 L541.05 540.34 L541 530 L540.94 523.9 L540.88 520.53 L540.8 518.96 L540.72 518.27 L540.62 517.53 L540.5 515.8 L540.37 513.23 L540.23 510.57 L540.07 507.87 L539.9 505.14 L539.71 502.41 L539.5 499.7 L539.27 497.02 L539.01 494.33 L538.74 491.65 L538.46 488.97 L538.17 486.28 L537.9 483.6 L537.64 480.92 L537.39 478.23 L537.14 475.55 L536.89 472.87 L536.61 470.18 L536.3 467.5 L535.96 464.82 L535.59 462.13 L535.21 459.45 L534.81 456.77 L534.4 454.08 L534 451.4 L533.6 448.72 L533.21 446.03 L532.81 443.35 L532.4 440.67 L531.97 437.98 L531.5 435.3 L530.98 432.62 L530.41 429.93 L529.81 427.25 L529.23 424.57 L528.68 421.88 L528.2 419.2 L527.78 416.52 L527.39 413.83 L527.04 411.15 L526.74 408.47 L526.49 405.78 L526.3 403.1 L526.17 400.42 L526.09 397.73 L526.06 395.05 L526.09 392.37 L526.17 389.68 L526.3 387 L526.48 384.32 L526.7 381.63 L526.98 378.95 L527.32 376.27 L527.72 373.58 L528.2 370.9 L528.77 368.22 L529.44 365.53 L530.17 362.85 L530.94 360.17 L531.73 357.48 L532.5 354.8 L533.29 352.09 L534.13 349.34 L534.99 346.6 L535.82 343.89 L536.6 341.24 L537.3 338.7 L537.92 336.23 L538.48 333.8 L538.99 331.43 L539.45 329.16 L539.85 327.01 L540.2 325 L540.48 323.08 L540.7 321.2 L540.86 319.44 L540.98 317.88 L541.07 316.57 L541.15 315.6 Z" fill="#afc2f3" stroke="#4a72e6" stroke-width="2" stroke-linejoin="round"/>
<rect x="537.3" y="379.4" width="8.6" height="57.6" fill="#6486e6" fill-opacity="1"/>
<path d="M538.88 407.72h0M542.79 351.99h0M538.09 375.99h0M537.45 524.92h0M537.08 407.47h0M541.74 394.1h0M543.09 359.02h0M538.46 390.46h0M544.37 359.44h0M542.28 362.57h0M537.53 475.14h0M543.96 439.65h0M539.22 386.6h0M544.04 429.34h0M544.68 380.85h0M537.76 368.7h0M542.97 412.94h0M541.71 439.92h0M539.98 361h0M537.42 441.47h0M541.66 499.09h0M543.83 414.02h0M540.99 364.94h0M539.05 580.51h0M537.81 432.52h0" stroke="#3f66dc" stroke-opacity="0.8" stroke-width="2.7" stroke-linecap="round" fill="none"/>
<path d="M543.17 413.91h0M543.33 380.93h0M537.65 442.01h0M541.56 372.54h0M541.45 454.58h0M537.49 348.73h0M540.37 417.73h0M543.18 349.41h0M541.44 373.28h0M541.7 414.62h0M541.64 397.02h0M539.54 370.03h0M541.7 388.67h0M540.7 425.71h0M540.29 378.09h0M543.94 405.53h0M543.02 384.22h0M538 382.9h0M539.48 458.73h0M545.96 439.23h0M539.58 369.42h0M545.19 412.89h0M544.11 440.99h0M545.31 425.56h0M542.48 444.6h0" stroke="#3f66dc" stroke-opacity="0.8" stroke-width="2.7" stroke-linecap="round" fill="none"/>
<path d="M540.59 390.52h0M540.42 426.92h0M543.2 370.9h0M545.37 374.36h0M542.29 384.09h0M539.99 410.11h0M538.96 465.29h0M540.34 406.97h0M542.75 427.22h0M541.05 391.91h0M537.02 451.15h0M540.39 343.04h0M539.66 442.56h0M540.29 377.09h0M542.18 414.06h0M545.79 398.95h0M543.04 424.01h0M540.12 412h0M538.49 421.51h0M539.14 446.6h0M543.28 380.09h0M538.59 454.23h0M538.25 391.53h0M542.07 465.15h0M542.67 354.93h0" stroke="#3f66dc" stroke-opacity="0.8" stroke-width="2.7" stroke-linecap="round" fill="none"/>
<path d="M543.24 355.15h0M544.64 380.81h0M545.92 422.44h0M538.63 394.13h0M542.74 335h0M539.69 351.06h0M545.33 397.41h0M544.46 398.05h0M544.65 398.12h0M540.64 388.33h0M545.78 381.37h0M541.61 423.67h0M540.2 420.36h0M538.42 434.78h0M540.25 373.67h0M541.44 396.6h0M539 426.21h0M544.35 443.97h0M542.08 390.13h0M544.23 401.32h0M539.03 465.16h0M542.31 359.31h0M541.95 371.35h0M544.7 444.64h0M544.06 374.08h0" stroke="#3f66dc" stroke-opacity="0.8" stroke-width="2.7" stroke-linecap="round" fill="none"/>
<path d="M539.82 379.47h0M537.6 424.68h0M543.74 360.62h0M539.32 388.51h0M541.25 389.08h0M543.65 424.65h0M537.08 349.08h0M543.41 412.25h0M543.96 376.95h0M537.67 430.79h0M544.07 444.94h0M545.2 367.89h0M539.76 453.54h0M543.04 375.64h0M541.06 508.66h0M540.1 410.98h0M539.81 399.81h0M540.63 423.81h0" stroke="#3f66dc" stroke-opacity="0.8" stroke-width="2.7" stroke-linecap="round" fill="none"/>
<line x1="541.6" y1="315.9" x2="541.6" y2="379.4" stroke="#3a3a3a" stroke-width="1.4"/>
<line x1="541.6" y1="437" x2="541.6" y2="513" stroke="#3a3a3a" stroke-width="1.4"/>
<rect x="537.3" y="379.4" width="8.6" height="57.6" fill="none" stroke="#3a3a3a" stroke-width="1.5"/>
<line x1="537.3" y1="402.3" x2="545.9" y2="402.3" stroke="#2d2d2d" stroke-width="2.4"/>
<path d="M541.6 404.8 L547.5 410.7 L541.6 416.6 L535.7 410.7 Z" fill="none" stroke="#111" stroke-width="1.6" stroke-linejoin="miter"/>
<text x="541.3" y="308.6" font-size="34" text-anchor="middle" fill="#000">A</text>
<text x="549" y="690" font-size="31.8" text-anchor="middle" fill="#3a68c8">(118)</text>
<rect x="86.9" y="149.6" width="505.5" height="557.8" fill="none" stroke="#1e1e1e" stroke-width="2"/>
<rect x="87.4" y="80.7" width="506.2" height="68.9" fill="#d9d9d9" stroke="#3c3c3c" stroke-width="1.6"/>
<line x1="87.4" y1="149.6" x2="593.6" y2="149.6" stroke="#333333" stroke-width="2.1"/>
<text x="342.6" y="131.9" font-size="40" text-anchor="middle" fill="#000" xml:space="preserve"><tspan>SOC (mg g</tspan><tspan font-size="28" dy="-10.2">−</tspan><tspan font-size="26" dy="-2.4">1</tspan><tspan dy="12.6">)</tspan></text>
<line x1="80.5" y1="658.4" x2="86.9" y2="658.4" stroke="#4a4a4a" stroke-width="1.6"/>
<text x="66.6" y="672.8" font-size="40" text-anchor="end" fill="#000">0</text>
<line x1="80.5" y1="572.22" x2="86.9" y2="572.22" stroke="#4a4a4a" stroke-width="1.6"/>
<text x="66.6" y="586.62" font-size="40" text-anchor="end" fill="#000">100</text>
<line x1="80.5" y1="486.04" x2="86.9" y2="486.04" stroke="#4a4a4a" stroke-width="1.6"/>
<text x="66.6" y="500.44" font-size="40" text-anchor="end" fill="#000">200</text>
<line x1="80.5" y1="399.86" x2="86.9" y2="399.86" stroke="#4a4a4a" stroke-width="1.6"/>
<text x="66.6" y="414.26" font-size="40" text-anchor="end" fill="#000">300</text>
<line x1="80.5" y1="313.68" x2="86.9" y2="313.68" stroke="#4a4a4a" stroke-width="1.6"/>
<text x="66.6" y="328.08" font-size="40" text-anchor="end" fill="#000">400</text>
<line x1="80.5" y1="227.5" x2="86.9" y2="227.5" stroke="#4a4a4a" stroke-width="1.6"/>
<text x="66.6" y="241.9" font-size="40" text-anchor="end" fill="#000">500</text>
<text x="26.7" y="134.5" font-size="46" font-weight="bold" fill="#000">a</text>
<rect x="789" y="150.4" width="505.4" height="556.6" fill="#ffffff"/>
<rect x="1121.7" y="150.4" width="172.7" height="556.6" fill="#f3f7fb"/>
<line x1="1121.7" y1="150.4" x2="1121.7" y2="707" stroke="#8a8a8a" stroke-width="1.5"/>
<line x1="789" y1="517.6" x2="1294.4" y2="517.6" stroke="#838383" stroke-width="2.2"/>
<path d="M864.75 304.7 L864.8 307.51 L864.88 311.46 L864.96 316.1 L865.06 321.02 L865.18 325.8 L865.3 330 L865.43 333.64 L865.58 337.04 L865.74 340.31 L865.91 343.5 L866.1 346.7 L866.3 350 L866.5 353.3 L866.7 356.53 L866.91 359.77 L867.16 363.1 L867.45 366.62 L867.8 370.4 L868.23 374.51 L868.71 378.89 L869.24 383.45 L869.81 388.1 L870.4 392.75 L871 397.3 L871.62 401.77 L872.27 406.24 L872.94 410.71 L873.63 415.17 L874.32 419.63 L875 424.1 L875.69 428.57 L876.41 433.03 L877.14 437.5 L877.84 441.97 L878.5 446.43 L879.1 450.9 L879.65 455.37 L880.17 459.83 L880.66 464.3 L881.08 468.77 L881.43 473.23 L881.7 477.7 L881.87 482.17 L881.97 486.63 L881.99 491.1 L881.95 495.57 L881.85 500.03 L881.7 504.5 L881.45 508.97 L881.1 513.43 L880.68 517.89 L880.26 522.36 L879.88 526.83 L879.6 531.3 L879.39 535.78 L879.2 540.26 L879.06 544.75 L878.98 549.24 L878.99 553.72 L879.1 558.2 L879.34 562.67 L879.68 567.14 L880.11 571.61 L880.61 576.07 L881.14 580.53 L881.7 585 L882.33 589.53 L883.06 594.13 L883.83 598.73 L884.59 603.26 L885.26 607.64 L885.8 611.8 L886.21 615.75 L886.54 619.56 L886.79 623.22 L886.96 626.74 L887.07 630.1 L887.1 633.3 L887.05 636.39 L886.91 639.39 L886.69 642.22 L886.43 644.86 L886.12 647.24 L885.8 649.3 L885.41 651.03 L884.93 652.47 L884.42 653.65 L883.92 654.61 L883.5 655.38 L883.2 656 L845.4 656 L845.1 655.38 L844.68 654.61 L844.18 653.65 L843.67 652.47 L843.19 651.03 L842.8 649.3 L842.48 647.24 L842.17 644.86 L841.91 642.22 L841.69 639.39 L841.55 636.39 L841.5 633.3 L841.53 630.1 L841.64 626.74 L841.81 623.22 L842.06 619.56 L842.39 615.75 L842.8 611.8 L843.34 607.64 L844.01 603.26 L844.77 598.73 L845.54 594.13 L846.27 589.53 L846.9 585 L847.46 580.53 L847.99 576.07 L848.49 571.61 L848.92 567.14 L849.26 562.67 L849.5 558.2 L849.61 553.72 L849.62 549.24 L849.54 544.75 L849.4 540.26 L849.21 535.78 L849 531.3 L848.72 526.83 L848.34 522.36 L847.92 517.89 L847.5 513.43 L847.15 508.97 L846.9 504.5 L846.75 500.03 L846.65 495.57 L846.61 491.1 L846.63 486.63 L846.73 482.17 L846.9 477.7 L847.17 473.23 L847.52 468.77 L847.94 464.3 L848.43 459.83 L848.95 455.37 L849.5 450.9 L850.1 446.43 L850.76 441.97 L851.46 437.5 L852.19 433.03 L852.91 428.57 L853.6 424.1 L854.28 419.63 L854.97 415.17 L855.66 410.71 L856.33 406.24 L856.98 401.77 L857.6 397.3 L858.2 392.75 L858.79 388.1 L859.36 383.45 L859.89 378.89 L860.37 374.51 L860.8 370.4 L861.15 366.62 L861.44 363.1 L861.69 359.77 L861.9 356.53 L862.1 353.3 L862.3 350 L862.5 346.7 L862.69 343.5 L862.86 340.31 L863.02 337.04 L863.17 333.64 L863.3 330 L863.42 325.8 L863.54 321.02 L863.64 316.1 L863.72 311.46 L863.8 307.51 L863.85 304.7 Z" fill="#aed9ae" stroke="#34a034" stroke-width="2" stroke-linejoin="round"/>
<rect x="857.3" y="489.6" width="14" height="139" fill="#5aad5a" fill-opacity="1"/>
<path d="M860.83 480.82h0M868.6 488.35h0M861.8 439.28h0M865.65 645.04h0M866.65 597.18h0M860.09 402.64h0M861.1 572.68h0M868.33 487.11h0M864.86 619.95h0M863.79 450.92h0M865.09 626.36h0M868.2 554.24h0M863.15 556.18h0M860.53 382.85h0M861.92 451.15h0M866.53 599.65h0M867.64 448.11h0M866.33 548.35h0M865.61 409.76h0M860.76 478.86h0M866.32 483.43h0M867.91 436.04h0M867.19 636.07h0M868.88 519.66h0M867.64 500.74h0" stroke="#2b952b" stroke-opacity="0.8" stroke-width="2.7" stroke-linecap="round" fill="none"/>
<path d="M863.96 521.17h0M865.78 555.38h0M863.61 642h0M863.4 564.81h0M861.43 504.78h0M866.85 638.23h0M867.42 653.39h0M863.09 471.68h0M861.27 601.42h0M867.5 556.6h0M863.33 411.01h0M867.63 438.16h0M868.54 436.49h0M864.34 554.04h0M868.8 645.49h0M867.5 616.19h0M864.76 589.11h0M864.67 590.26h0M868.18 525.4h0M862.7 590.12h0M860.64 630.65h0M865.8 631.87h0M863.8 633.98h0M865.4 416.31h0M865.99 588.89h0" stroke="#2b952b" stroke-opacity="0.8" stroke-width="2.7" stroke-linecap="round" fill="none"/>
<path d="M860.95 618.26h0M868.43 477.89h0M867 654.84h0M868.64 526.62h0M863.86 366h0M861.89 578.63h0M865.28 482.23h0M862.79 654.78h0M868.59 598.57h0M865.04 598.72h0M863.42 436.64h0M860.77 585.86h0M860.12 651.3h0M862.24 613.31h0M867.94 627.92h0M866.7 437.8h0M864.7 521.28h0M868.1 630.83h0M868.61 498.71h0M865.54 523.66h0M868.41 492.08h0M866.97 612.57h0M863.21 585.85h0M862.69 490.46h0M867.09 440.19h0" stroke="#2b952b" stroke-opacity="0.8" stroke-width="2.7" stroke-linecap="round" fill="none"/>
<path d="M868.24 444.23h0M867.07 508.6h0M867.25 482.91h0M868.34 593.04h0M859.71 589.38h0M860.6 609.4h0M867.37 650.66h0M865.99 628.24h0M862.02 503.84h0M867.61 495.38h0M866.11 617.08h0" stroke="#2b952b" stroke-opacity="0.8" stroke-width="2.7" stroke-linecap="round" fill="none"/>
<line x1="864.3" y1="304.2" x2="864.3" y2="489.6" stroke="#3a3a3a" stroke-width="1.4"/>
<line x1="864.3" y1="628.6" x2="864.3" y2="655.4" stroke="#3a3a3a" stroke-width="1.4"/>
<rect x="857.3" y="489.6" width="14" height="139" fill="none" stroke="#3a3a3a" stroke-width="1.5"/>
<line x1="857.3" y1="556.5" x2="871.3" y2="556.5" stroke="#2d2d2d" stroke-width="2.4"/>
<path d="M864.3 544.6 L870.2 550.5 L864.3 556.4 L858.4 550.5 Z" fill="none" stroke="#111" stroke-width="1.6" stroke-linejoin="miter"/>
<text x="889" y="416.3" font-size="34" text-anchor="middle" fill="#000">B</text>
<text x="865" y="689.8" font-size="31.8" text-anchor="middle" fill="#2e9c2e">(86)</text>
<path d="M965.6 221.3 L965.61 229.96 L965.61 242.01 L965.62 256.25 L965.63 271.47 L965.66 286.45 L965.7 300 L965.76 312.72 L965.83 325.69 L965.92 338.44 L966.01 350.46 L966.11 361.28 L966.2 370.4 L966.29 377.4 L966.37 382.59 L966.45 386.57 L966.54 389.95 L966.66 393.33 L966.8 397.3 L966.97 401.77 L967.15 406.24 L967.35 410.71 L967.57 415.17 L967.82 419.63 L968.1 424.1 L968.42 428.57 L968.77 433.03 L969.15 437.5 L969.54 441.97 L969.93 446.43 L970.3 450.9 L970.66 455.37 L971.01 459.83 L971.37 464.3 L971.72 468.77 L972.06 473.23 L972.4 477.7 L972.72 482.17 L973.02 486.63 L973.31 491.1 L973.61 495.57 L973.94 500.03 L974.3 504.5 L974.7 508.97 L975.14 513.43 L975.61 517.89 L976.08 522.36 L976.55 526.83 L977 531.3 L977.42 535.78 L977.82 540.26 L978.21 544.75 L978.63 549.24 L979.08 553.72 L979.6 558.2 L980.21 562.67 L980.89 567.14 L981.61 571.61 L982.34 576.07 L983.05 580.53 L983.7 585 L984.32 589.62 L984.95 594.43 L985.56 599.24 L986.1 603.86 L986.56 608.11 L986.9 611.8 L987.12 614.81 L987.24 617.26 L987.27 619.34 L987.22 621.23 L987.09 623.12 L986.9 625.2 L986.63 627.46 L986.27 629.77 L985.84 632.07 L985.34 634.33 L984.79 636.52 L984.2 638.6 L983.53 640.59 L982.77 642.51 L981.95 644.37 L981.12 646.13 L980.32 647.78 L979.6 649.3 L978.91 650.73 L978.22 652.08 L977.56 653.32 L976.97 654.41 L976.47 655.32 L976.1 656 L953.7 656 L953.33 655.32 L952.83 654.41 L952.24 653.32 L951.58 652.08 L950.89 650.73 L950.2 649.3 L949.48 647.78 L948.68 646.13 L947.85 644.37 L947.03 642.51 L946.27 640.59 L945.6 638.6 L945.01 636.52 L944.46 634.33 L943.96 632.07 L943.53 629.77 L943.17 627.46 L942.9 625.2 L942.71 623.12 L942.58 621.23 L942.53 619.34 L942.56 617.26 L942.68 614.81 L942.9 611.8 L943.24 608.11 L943.7 603.86 L944.24 599.24 L944.85 594.43 L945.48 589.62 L946.1 585 L946.75 580.53 L947.46 576.07 L948.19 571.61 L948.91 567.14 L949.59 562.67 L950.2 558.2 L950.72 553.72 L951.17 549.24 L951.59 544.75 L951.98 540.26 L952.38 535.78 L952.8 531.3 L953.25 526.83 L953.72 522.36 L954.19 517.89 L954.66 513.43 L955.1 508.97 L955.5 504.5 L955.86 500.03 L956.19 495.57 L956.49 491.1 L956.78 486.63 L957.08 482.17 L957.4 477.7 L957.74 473.23 L958.08 468.77 L958.43 464.3 L958.79 459.83 L959.14 455.37 L959.5 450.9 L959.87 446.43 L960.26 441.97 L960.65 437.5 L961.03 433.03 L961.38 428.57 L961.7 424.1 L961.98 419.63 L962.23 415.17 L962.45 410.71 L962.65 406.24 L962.83 401.77 L963 397.3 L963.14 393.33 L963.26 389.95 L963.35 386.57 L963.43 382.59 L963.51 377.4 L963.6 370.4 L963.69 361.28 L963.79 350.46 L963.88 338.44 L963.97 325.69 L964.04 312.72 L964.1 300 L964.14 286.45 L964.17 271.47 L964.18 256.25 L964.19 242.01 L964.19 229.96 L964.2 221.3 Z" fill="#ebbda1" stroke="#cc5a14" stroke-width="2" stroke-linejoin="round"/>
<rect x="958.1" y="539.7" width="13.6" height="86.9" fill="#cf7638" fill-opacity="1"/>
<path d="M967.46 513.94h0M961.2 554.42h0M966.44 548.57h0M963.29 542.63h0M965.51 629.65h0M962.68 596.23h0M964.28 555.35h0M963.82 651.93h0M963.13 622.63h0M968.82 617.84h0M967.92 577.53h0M969.3 539.04h0M966.13 608.3h0M963.53 648.37h0M965.29 629.54h0M960.79 466.07h0M960.91 452.96h0M960.92 577.73h0M967.08 433.04h0M964.4 493.21h0M963.38 498.96h0M966.91 598.87h0M966.95 527.47h0M969.38 649.76h0M967.25 562.14h0" stroke="#c4550f" stroke-opacity="0.8" stroke-width="2.7" stroke-linecap="round" fill="none"/>
<path d="M967.39 434.01h0M967.03 472.38h0M967.2 629.21h0M963.34 637.09h0M968.58 355.6h0M968.75 536.04h0M964.68 565.26h0M961.21 606.25h0M960.61 623.62h0M965.23 525.84h0M964.88 583.93h0M966.06 510.5h0M967.61 450.93h0M962.3 595.58h0M968.88 553.8h0M969.19 637.54h0M965.32 608.62h0M968.11 630.45h0M969.12 482.46h0M966.6 535.69h0M969.26 515.72h0M960.57 575.46h0M960.68 622.69h0M961.65 542.88h0M965.66 611.54h0" stroke="#c4550f" stroke-opacity="0.8" stroke-width="2.7" stroke-linecap="round" fill="none"/>
<path d="M964.16 632.75h0M960.69 586.97h0M964.82 523.59h0M968.36 569.94h0M965.02 608.2h0M960.45 651.18h0M967.01 551.04h0M969.3 579.61h0M965.47 560.16h0M966.34 621.67h0M961.49 550.3h0" stroke="#c4550f" stroke-opacity="0.8" stroke-width="2.7" stroke-linecap="round" fill="none"/>
<path d="M964.53 221.8h0M964.51 247.3h0M964.56 279.4h0M965.2 295h0M964.21 341h0" stroke="#333" stroke-opacity="0.85" stroke-width="2.6" stroke-linecap="round" fill="none"/>
<line x1="964.9" y1="444.4" x2="964.9" y2="539.7" stroke="#3a3a3a" stroke-width="1.4"/>
<line x1="964.9" y1="626.6" x2="964.9" y2="656.6" stroke="#3a3a3a" stroke-width="1.4"/>
<rect x="958.1" y="539.7" width="13.6" height="86.9" fill="none" stroke="#3a3a3a" stroke-width="1.5"/>
<line x1="958.1" y1="600.5" x2="971.7" y2="600.5" stroke="#2d2d2d" stroke-width="2.4"/>
<path d="M964.9 553.8 L970.8 559.7 L964.9 565.6 L959 559.7 Z" fill="none" stroke="#111" stroke-width="1.6" stroke-linejoin="miter"/>
<text x="986.2" y="446.4" font-size="34" text-anchor="middle" fill="#000">C</text>
<text x="967.5" y="689.8" font-size="31.8" text-anchor="middle" fill="#c8581a">(61)</text>
<path d="M1066.55 466.4 L1066.69 469.06 L1066.86 472.77 L1067.07 477.15 L1067.34 481.81 L1067.68 486.35 L1068.1 490.4 L1068.59 493.96 L1069.13 497.36 L1069.75 500.64 L1070.44 503.87 L1071.22 507.11 L1072.1 510.4 L1073.13 513.75 L1074.31 517.1 L1075.57 520.45 L1076.87 523.8 L1078.13 527.15 L1079.3 530.5 L1080.4 533.84 L1081.49 537.17 L1082.55 540.51 L1083.55 543.84 L1084.48 547.17 L1085.3 550.5 L1086.04 553.93 L1086.71 557.46 L1087.3 561 L1087.8 564.43 L1088.21 567.63 L1088.5 570.5 L1088.67 573.01 L1088.72 575.24 L1088.67 577.25 L1088.54 579.09 L1088.35 580.82 L1088.1 582.5 L1087.81 584.02 L1087.46 585.31 L1087.05 586.49 L1086.56 587.68 L1085.98 588.98 L1085.3 590.5 L1084.5 592.27 L1083.58 594.2 L1082.57 596.25 L1081.51 598.36 L1080.41 600.5 L1079.3 602.6 L1078.09 604.84 L1076.72 607.29 L1075.32 609.76 L1074.01 612.06 L1072.9 614 L1072.1 615.4 L1060.1 615.4 L1059.3 614 L1058.19 612.06 L1056.88 609.76 L1055.48 607.29 L1054.11 604.84 L1052.9 602.6 L1051.79 600.5 L1050.69 598.36 L1049.62 596.25 L1048.62 594.2 L1047.7 592.27 L1046.9 590.5 L1046.22 588.98 L1045.64 587.68 L1045.15 586.49 L1044.74 585.31 L1044.39 584.02 L1044.1 582.5 L1043.85 580.82 L1043.66 579.09 L1043.52 577.25 L1043.48 575.24 L1043.53 573.01 L1043.7 570.5 L1043.99 567.63 L1044.4 564.43 L1044.9 561 L1045.49 557.46 L1046.16 553.93 L1046.9 550.5 L1047.72 547.17 L1048.65 543.84 L1049.65 540.51 L1050.71 537.17 L1051.8 533.84 L1052.9 530.5 L1054.07 527.15 L1055.33 523.8 L1056.62 520.45 L1057.89 517.1 L1059.07 513.75 L1060.1 510.4 L1060.98 507.11 L1061.76 503.87 L1062.45 500.64 L1063.07 497.36 L1063.61 493.96 L1064.1 490.4 L1064.52 486.35 L1064.86 481.81 L1065.12 477.15 L1065.34 472.77 L1065.51 469.06 L1065.65 466.4 Z" fill="#d7ebfe" stroke="#9ccefc" stroke-width="2" stroke-linejoin="round"/>
<rect x="1059.3" y="534.5" width="13.6" height="52" fill="#a7d3fb" fill-opacity="1"/>
<path d="M1064.92 524.68h0M1061.66 611.21h0M1065.63 573.9h0M1063.7 554.58h0M1065.78 606.31h0M1069.71 514.65h0M1063.84 591.03h0M1065.82 570.43h0M1068.84 524.13h0M1062.06 534.83h0M1068.94 575.44h0M1069.7 565.58h0M1070.04 529.12h0M1063.61 575.21h0M1068.13 587.59h0M1067.08 608.22h0M1064.65 559.27h0M1064.32 549.91h0M1066.24 558.54h0M1065.87 579.59h0M1069.98 600.97h0M1065.01 544.68h0M1069.65 506.86h0M1063.4 535.05h0M1061.52 567.94h0" stroke="#8cc2f4" stroke-opacity="0.8" stroke-width="2.7" stroke-linecap="round" fill="none"/>
<path d="M1062.13 572.31h0M1064.51 589.01h0M1067.92 584.21h0M1062.54 598.25h0M1065.45 588.89h0M1061.92 578.65h0M1069.3 612.7h0M1063.33 510.66h0M1064.1 562.2h0M1070.56 507h0M1065.51 518.54h0M1063.01 605.08h0M1066.2 560.19h0M1068.19 537.38h0M1061.89 599.61h0M1064.43 590.2h0M1064.21 582.9h0M1062.5 593.21h0M1065.26 568.68h0M1063.02 513.96h0M1065.04 526.37h0M1065.21 548.56h0M1064.53 585.62h0M1066.77 546.23h0M1067.99 546.59h0" stroke="#8cc2f4" stroke-opacity="0.8" stroke-width="2.7" stroke-linecap="round" fill="none"/>
<path d="M1069.61 584.94h0M1068.51 513.68h0M1064.66 569.69h0M1066.22 517.02h0M1064.75 577.49h0M1069.43 569.72h0M1064.84 579.65h0M1062.28 585.73h0M1066.46 545.21h0M1068.92 566.6h0M1061.98 569.6h0M1066.39 582.46h0M1066.35 581.18h0M1064.06 525.7h0M1068.23 567.78h0M1066.68 568.41h0M1070.33 586.33h0M1069.32 572.8h0M1064.93 572.77h0M1065.62 514.36h0M1065.59 591.3h0M1062.64 589.47h0M1065.39 517.89h0M1063.54 609.25h0M1064.26 550h0" stroke="#8cc2f4" stroke-opacity="0.8" stroke-width="2.7" stroke-linecap="round" fill="none"/>
<path d="M1068.07 575.89h0M1064.13 536.59h0M1069.41 558.22h0M1063.12 588h0M1061.56 613.11h0M1067 519.04h0M1063.12 515.46h0M1066.49 589.42h0M1070.12 575.62h0M1061.74 608.99h0M1066.66 607.38h0M1069.05 597.08h0M1064.88 607.08h0M1068.02 553.09h0M1069.96 563.62h0M1062.22 518.31h0M1066.27 545.75h0M1065.26 566.2h0M1069.98 552.05h0M1065.29 531.87h0M1061.53 554.52h0M1069.61 586.72h0M1068.44 492.4h0M1061.67 555.64h0M1066.91 530.69h0" stroke="#8cc2f4" stroke-opacity="0.8" stroke-width="2.7" stroke-linecap="round" fill="none"/>
<path d="M1062.19 612.52h0M1063.55 569.88h0M1065.2 537.2h0" stroke="#8cc2f4" stroke-opacity="0.8" stroke-width="2.7" stroke-linecap="round" fill="none"/>
<line x1="1066.1" y1="466.4" x2="1066.1" y2="534.5" stroke="#3a3a3a" stroke-width="1.4"/>
<line x1="1066.1" y1="586.5" x2="1066.1" y2="615.4" stroke="#3a3a3a" stroke-width="1.4"/>
<rect x="1059.3" y="534.5" width="13.6" height="52" fill="none" stroke="#3a3a3a" stroke-width="1.5"/>
<line x1="1059.3" y1="564.5" x2="1072.9" y2="564.5" stroke="#2d2d2d" stroke-width="2.4"/>
<path d="M1066.1 550.6 L1072 556.5 L1066.1 562.4 L1060.2 556.5 Z" fill="none" stroke="#111" stroke-width="1.6" stroke-linejoin="miter"/>
<text x="1065.9" y="446.4" font-size="34" text-anchor="middle" fill="#000">C</text>
<text x="1066.9" y="689.8" font-size="31.8" text-anchor="middle" fill="#9ccbf6">(103)</text>
<path d="M1180.1 429.1 L1180.16 431.43 L1180.22 434.67 L1180.3 438.5 L1180.44 442.61 L1180.66 446.68 L1181 450.4 L1181.47 453.81 L1182.04 457.16 L1182.71 460.48 L1183.43 463.78 L1184.2 467.08 L1185 470.4 L1185.87 473.73 L1186.84 477.07 L1187.85 480.4 L1188.85 483.73 L1189.79 487.07 L1190.6 490.4 L1191.31 493.73 L1191.96 497.06 L1192.55 500.39 L1193.06 503.73 L1193.48 507.06 L1193.8 510.4 L1194.02 513.75 L1194.16 517.1 L1194.2 520.45 L1194.16 523.8 L1194.02 527.15 L1193.8 530.5 L1193.47 533.84 L1193.03 537.17 L1192.5 540.51 L1191.9 543.84 L1191.26 547.17 L1190.6 550.5 L1189.87 553.83 L1189.06 557.17 L1188.2 560.5 L1187.34 563.83 L1186.53 567.17 L1185.8 570.5 L1185.16 573.83 L1184.56 577.16 L1184 580.49 L1183.49 583.83 L1183.02 587.16 L1182.6 590.5 L1182.23 593.85 L1181.9 597.2 L1181.62 600.55 L1181.39 603.9 L1181.18 607.25 L1181 610.6 L1180.85 614 L1180.75 617.47 L1180.67 620.93 L1180.63 624.32 L1180.61 627.57 L1180.6 630.6 L1180.63 633.54 L1180.69 636.47 L1180.77 639.25 L1180.87 641.76 L1180.95 643.85 L1181 645.4 L1177.8 645.4 L1177.85 643.85 L1177.93 641.76 L1178.03 639.25 L1178.11 636.47 L1178.17 633.54 L1178.2 630.6 L1178.19 627.57 L1178.17 624.32 L1178.13 620.93 L1178.05 617.47 L1177.95 614 L1177.8 610.6 L1177.62 607.25 L1177.41 603.9 L1177.18 600.55 L1176.9 597.2 L1176.57 593.85 L1176.2 590.5 L1175.78 587.16 L1175.31 583.83 L1174.8 580.49 L1174.24 577.16 L1173.64 573.83 L1173 570.5 L1172.27 567.17 L1171.46 563.83 L1170.6 560.5 L1169.74 557.17 L1168.93 553.83 L1168.2 550.5 L1167.54 547.17 L1166.9 543.84 L1166.3 540.51 L1165.77 537.17 L1165.33 533.84 L1165 530.5 L1164.78 527.15 L1164.64 523.8 L1164.6 520.45 L1164.64 517.1 L1164.78 513.75 L1165 510.4 L1165.32 507.06 L1165.74 503.73 L1166.25 500.39 L1166.84 497.06 L1167.49 493.73 L1168.2 490.4 L1169.01 487.07 L1169.95 483.73 L1170.95 480.4 L1171.96 477.07 L1172.93 473.73 L1173.8 470.4 L1174.6 467.08 L1175.37 463.78 L1176.09 460.48 L1176.76 457.16 L1177.33 453.81 L1177.8 450.4 L1178.14 446.68 L1178.36 442.61 L1178.5 438.5 L1178.58 434.67 L1178.64 431.43 L1178.7 429.1 Z" fill="#f4cd98" stroke="#f5991f" stroke-width="2" stroke-linejoin="round"/>
<rect x="1175" y="499.2" width="8.8" height="53.3" fill="#f5a032" fill-opacity="1"/>
<path d="M1175.77 527.07h0M1180.43 509.21h0M1180.41 531.3h0M1179.07 520.66h0M1180.6 500.17h0M1178.82 513.78h0M1183.85 473.09h0M1180.6 532.16h0M1182.68 565.93h0M1178.09 518.56h0M1179.41 498.47h0M1178.67 513.58h0M1183.26 523.93h0M1175.12 580.55h0M1177.26 565.51h0M1183.8 504.57h0M1182.68 540.74h0M1182.17 518.87h0M1183.89 499.31h0M1179.59 536.41h0M1181.26 518.53h0M1180.02 553.09h0M1175.25 496.44h0M1181.44 562.29h0M1176.17 514.48h0" stroke="#ee8d12" stroke-opacity="0.8" stroke-width="2.7" stroke-linecap="round" fill="none"/>
<path d="M1175.34 486.24h0M1179.23 494.48h0M1174.98 571.43h0M1177.18 535.98h0M1174.82 511.77h0M1177.78 485.33h0M1177.78 518.75h0M1175.88 537.48h0M1181 498.18h0M1174.95 510.85h0M1182.71 503.99h0M1177.19 511.61h0M1176.95 553.29h0M1182.13 511.67h0M1177.36 468.97h0M1181.72 542.59h0M1176.15 465.74h0M1175.04 557.06h0M1181.91 559.14h0M1183.51 543.67h0M1179.77 514.67h0M1176.93 552.07h0M1181.47 521.44h0M1179.13 506.42h0M1175.77 544.27h0" stroke="#ee8d12" stroke-opacity="0.8" stroke-width="2.7" stroke-linecap="round" fill="none"/>
<path d="M1176.38 533.79h0M1179.4 525.13h0M1176.03 543.76h0M1181.63 505.19h0M1174.85 535.78h0M1178.35 508.89h0M1175.41 544.68h0M1183.25 568.18h0M1183.02 508.88h0M1179.28 477.26h0M1179.37 484.86h0M1175.79 532.99h0M1176.06 464.72h0M1179.03 539.88h0M1181.41 530.76h0M1182.47 545.36h0M1177.16 513.15h0M1179 526.61h0M1176.51 541.05h0M1176.85 520.71h0M1179.55 584.13h0M1180.13 545.77h0M1182.44 525.58h0M1175.78 578.64h0M1180.38 560.72h0" stroke="#ee8d12" stroke-opacity="0.8" stroke-width="2.7" stroke-linecap="round" fill="none"/>
<path d="M1176.85 540.97h0M1175.78 570.36h0M1183.67 547.31h0M1180 554.77h0M1183.88 523.09h0M1180.15 567.22h0M1181.36 498.6h0M1182.35 497.04h0M1177.46 530.17h0M1179.7 484.47h0M1177.13 537.15h0M1176.27 524.58h0M1181.06 508.05h0M1176.8 555.71h0M1180.69 484.59h0M1177.39 530.52h0M1179.29 529.52h0M1183.33 539.24h0M1175.08 594.02h0M1175.39 581.5h0M1182.79 595.24h0M1181.28 535.52h0M1180.89 535.64h0M1181.38 488.7h0M1179.25 478.51h0" stroke="#ee8d12" stroke-opacity="0.8" stroke-width="2.7" stroke-linecap="round" fill="none"/>
<path d="M1177.3 571.42h0M1180.92 563.4h0M1181.2 541.97h0M1179.33 539.66h0M1175.01 512.16h0M1183.96 505.14h0M1178.13 484.16h0M1176.85 536.68h0M1183.42 574.07h0M1175.76 488.92h0M1179.41 506.81h0M1183.37 507.8h0M1180.4 513.23h0M1183.04 543.07h0M1181.96 499.74h0M1176.59 531.35h0M1179.96 566.48h0M1181.79 588.9h0M1181.99 499.49h0M1183.54 499.99h0M1182.67 506.68h0M1178.85 544.37h0M1177.35 528.63h0M1176.1 542.75h0M1178.8 520.28h0" stroke="#ee8d12" stroke-opacity="0.8" stroke-width="2.7" stroke-linecap="round" fill="none"/>
<path d="M1179.59 519.58h0M1179.85 470.28h0M1175.16 505.09h0M1179.71 522.75h0M1178.59 489.87h0M1181.41 527.86h0M1176.49 460.83h0M1183.15 572.29h0M1176.48 479.7h0M1182.26 554.21h0M1178.15 524.47h0M1181.92 567.3h0M1177.12 509.57h0M1181.12 474.5h0M1176.14 523.48h0M1175.92 547.65h0M1182.44 553.86h0M1175.54 549.13h0M1182.33 534.37h0" stroke="#ee8d12" stroke-opacity="0.8" stroke-width="2.7" stroke-linecap="round" fill="none"/>
<path d="M1177.92 632h0M1177.83 640h0M1178.43 645h0" stroke="#333" stroke-opacity="0.85" stroke-width="2.6" stroke-linecap="round" fill="none"/>
<line x1="1179.4" y1="429.1" x2="1179.4" y2="499.2" stroke="#3a3a3a" stroke-width="1.4"/>
<line x1="1179.4" y1="552.5" x2="1179.4" y2="645" stroke="#3a3a3a" stroke-width="1.4"/>
<rect x="1175" y="499.2" width="8.8" height="53.3" fill="none" stroke="#3a3a3a" stroke-width="1.5"/>
<line x1="1175" y1="527" x2="1183.8" y2="527" stroke="#2d2d2d" stroke-width="2.4"/>
<path d="M1179.4 520.6 L1185.3 526.5 L1179.4 532.4 L1173.5 526.5 Z" fill="none" stroke="#111" stroke-width="1.6" stroke-linejoin="miter"/>
<text x="1179.6" y="417.1" font-size="34" text-anchor="middle" fill="#000">B</text>
<text x="1170.2" y="689.8" font-size="31.8" text-anchor="middle" fill="#ec7424">(144)</text>
<path d="M1247.95 267.3 L1248.07 269.83 L1248.23 273.34 L1248.42 277.5 L1248.64 281.93 L1248.87 286.29 L1249.1 290.2 L1249.33 293.7 L1249.57 297.08 L1249.82 300.38 L1250.09 303.64 L1250.38 306.9 L1250.7 310.2 L1251.06 313.53 L1251.46 316.87 L1251.88 320.2 L1252.3 323.53 L1252.71 326.87 L1253.1 330.2 L1253.46 333.53 L1253.8 336.86 L1254.12 340.19 L1254.45 343.53 L1254.77 346.86 L1255.1 350.2 L1255.45 353.55 L1255.81 356.9 L1256.17 360.25 L1256.52 363.6 L1256.84 366.95 L1257.1 370.3 L1257.3 373.64 L1257.44 376.97 L1257.55 380.31 L1257.65 383.64 L1257.76 386.97 L1257.9 390.3 L1258.07 393.63 L1258.26 396.97 L1258.45 400.3 L1258.66 403.63 L1258.87 406.97 L1259.1 410.3 L1259.34 413.63 L1259.59 416.96 L1259.85 420.29 L1260.12 423.63 L1260.41 426.96 L1260.7 430.3 L1261.03 433.65 L1261.4 437 L1261.78 440.35 L1262.14 443.7 L1262.45 447.05 L1262.7 450.4 L1262.88 453.74 L1263.01 457.07 L1263.1 460.41 L1263.14 463.74 L1263.14 467.07 L1263.1 470.4 L1263 473.73 L1262.85 477.07 L1262.65 480.4 L1262.42 483.73 L1262.16 487.07 L1261.9 490.4 L1261.64 493.73 L1261.37 497.06 L1261.08 500.39 L1260.74 503.73 L1260.36 507.06 L1259.9 510.4 L1259.35 513.75 L1258.71 517.1 L1258.03 520.45 L1257.31 523.8 L1256.59 527.15 L1255.9 530.5 L1255.22 533.84 L1254.52 537.17 L1253.83 540.51 L1253.14 543.84 L1252.5 547.17 L1251.9 550.5 L1251.34 553.84 L1250.81 557.19 L1250.31 560.53 L1249.86 563.87 L1249.45 567.2 L1249.1 570.5 L1248.82 573.74 L1248.6 576.92 L1248.43 580.09 L1248.3 583.29 L1248.2 586.58 L1248.1 590 L1248.02 593.85 L1247.98 598.14 L1247.96 602.52 L1247.96 606.63 L1247.96 610.11 L1247.95 612.6 L1247.05 612.6 L1247.04 610.11 L1247.04 606.63 L1247.04 602.52 L1247.02 598.14 L1246.98 593.85 L1246.9 590 L1246.8 586.58 L1246.7 583.29 L1246.57 580.09 L1246.4 576.92 L1246.18 573.74 L1245.9 570.5 L1245.55 567.2 L1245.14 563.87 L1244.69 560.53 L1244.19 557.19 L1243.66 553.84 L1243.1 550.5 L1242.5 547.17 L1241.86 543.84 L1241.17 540.51 L1240.48 537.17 L1239.78 533.84 L1239.1 530.5 L1238.41 527.15 L1237.69 523.8 L1236.97 520.45 L1236.29 517.1 L1235.65 513.75 L1235.1 510.4 L1234.64 507.06 L1234.26 503.73 L1233.92 500.39 L1233.63 497.06 L1233.36 493.73 L1233.1 490.4 L1232.84 487.07 L1232.58 483.73 L1232.35 480.4 L1232.15 477.07 L1232 473.73 L1231.9 470.4 L1231.86 467.07 L1231.86 463.74 L1231.9 460.41 L1231.99 457.07 L1232.12 453.74 L1232.3 450.4 L1232.55 447.05 L1232.86 443.7 L1233.22 440.35 L1233.6 437 L1233.97 433.65 L1234.3 430.3 L1234.59 426.96 L1234.88 423.63 L1235.15 420.29 L1235.41 416.96 L1235.66 413.63 L1235.9 410.3 L1236.13 406.97 L1236.34 403.63 L1236.55 400.3 L1236.74 396.97 L1236.93 393.63 L1237.1 390.3 L1237.24 386.97 L1237.35 383.64 L1237.45 380.31 L1237.56 376.97 L1237.7 373.64 L1237.9 370.3 L1238.16 366.95 L1238.48 363.6 L1238.83 360.25 L1239.19 356.9 L1239.55 353.55 L1239.9 350.2 L1240.23 346.86 L1240.55 343.53 L1240.88 340.19 L1241.2 336.86 L1241.54 333.53 L1241.9 330.2 L1242.29 326.87 L1242.7 323.53 L1243.12 320.2 L1243.54 316.87 L1243.94 313.53 L1244.3 310.2 L1244.62 306.9 L1244.91 303.64 L1245.18 300.38 L1245.43 297.08 L1245.67 293.7 L1245.9 290.2 L1246.13 286.29 L1246.36 281.93 L1246.58 277.5 L1246.77 273.34 L1246.93 269.83 L1247.05 267.3 Z" fill="#afc2f3" stroke="#4a72e6" stroke-width="2" stroke-linejoin="round"/>
<rect x="1243.1" y="384.3" width="8.8" height="103.3" fill="#6486e6" fill-opacity="1"/>
<path d="M1248.73 544.4h0M1243.94 511.87h0M1246.77 402.37h0M1251.02 441.81h0M1245.52 467.44h0M1244.74 475.56h0M1243.02 495.23h0M1250.58 563.54h0M1246.64 431.64h0M1251.64 480.53h0M1251.25 474.47h0M1250.28 501.72h0M1250.22 424.24h0M1250.94 493.32h0M1250.65 427.77h0M1249.83 345h0M1248.39 501.28h0M1247.57 458.27h0M1246.69 453.64h0M1249.27 505.56h0M1243.8 454.8h0M1249.59 383.17h0M1250.88 422.27h0M1244.96 402.63h0M1246.23 434.09h0" stroke="#3f66dc" stroke-opacity="0.8" stroke-width="2.7" stroke-linecap="round" fill="none"/>
<path d="M1243.01 495.94h0M1244.8 455.75h0M1245.4 445.9h0M1245.72 443.78h0M1247.95 491.01h0M1248.49 479.95h0M1249.37 330.49h0M1246.74 547.12h0M1250.93 364.97h0M1249.94 460.56h0M1247.78 396.84h0M1250.61 497.63h0M1249.91 336.7h0M1247.23 390.76h0M1244.46 462.39h0M1244.7 378.13h0M1249.96 479.35h0M1243.7 465.23h0M1249.3 485.57h0M1245.67 469.02h0M1248.71 526.96h0M1245.93 455.63h0M1249.79 432h0M1245.03 356.89h0M1247.67 485.16h0" stroke="#3f66dc" stroke-opacity="0.8" stroke-width="2.7" stroke-linecap="round" fill="none"/>
<path d="M1245.56 438.27h0M1247.57 405.5h0M1250.67 341.8h0M1248.17 505.06h0M1246.98 497.42h0M1245.25 428.72h0M1250.25 551.86h0M1251.65 395.66h0M1243.92 455.33h0M1249.44 501.53h0M1243.6 377.1h0M1246.03 467.88h0M1244.14 522.78h0M1251.08 422.63h0M1247.89 541.7h0M1245.8 374.32h0M1249.24 492.41h0M1250.72 516.87h0M1247.3 499.67h0M1247.85 404.35h0M1245.5 470.45h0M1243.94 362.2h0M1245.2 372.17h0M1245.23 440.78h0M1244.32 430.6h0" stroke="#3f66dc" stroke-opacity="0.8" stroke-width="2.7" stroke-linecap="round" fill="none"/>
<path d="M1250.3 570.88h0M1251.68 295.41h0M1243.77 527.71h0M1249.03 490.48h0M1247.28 499.48h0M1248.62 485.05h0M1249.85 471.21h0M1247.65 451.38h0M1247.69 341.08h0M1247.13 468.75h0M1251.01 443.2h0M1249.16 445.36h0M1247.42 375.58h0M1249.34 520.78h0M1247.17 410.78h0M1247.28 384.79h0M1249.21 409.24h0M1250.61 380.58h0M1249.31 368.76h0M1243.37 492.88h0M1251.92 365.12h0M1245.12 526.01h0M1251.83 539.95h0M1246.41 322.35h0M1250.16 545.46h0" stroke="#3f66dc" stroke-opacity="0.8" stroke-width="2.7" stroke-linecap="round" fill="none"/>
<path d="M1246 455.17h0M1249.93 517.03h0M1244.85 335.95h0M1244.72 515.47h0M1250.61 507.14h0M1251.42 446.52h0M1249.97 491.61h0M1247.94 436.45h0M1246.53 410.21h0M1249.77 343.67h0M1247.65 559.28h0M1251.74 401.01h0M1246.08 477.68h0M1248.14 496.32h0M1252.07 527.28h0M1244.65 467.83h0M1245.24 518.08h0M1248.79 435.41h0" stroke="#3f66dc" stroke-opacity="0.8" stroke-width="2.7" stroke-linecap="round" fill="none"/>
<line x1="1247.5" y1="267.3" x2="1247.5" y2="384.3" stroke="#3a3a3a" stroke-width="1.4"/>
<line x1="1247.5" y1="487.6" x2="1247.5" y2="612.6" stroke="#3a3a3a" stroke-width="1.4"/>
<rect x="1243.1" y="384.3" width="8.8" height="103.3" fill="none" stroke="#3a3a3a" stroke-width="1.5"/>
<line x1="1243.1" y1="438.3" x2="1251.9" y2="438.3" stroke="#2d2d2d" stroke-width="2.4"/>
<path d="M1247.5 430.4 L1253.4 436.3 L1247.5 442.2 L1241.6 436.3 Z" fill="none" stroke="#111" stroke-width="1.6" stroke-linejoin="miter"/>
<text x="1245.7" y="260.9" font-size="34" text-anchor="middle" fill="#000">A</text>
<text x="1251.5" y="689.8" font-size="31.8" text-anchor="middle" fill="#3a68c8">(118)</text>
<rect x="789" y="150.4" width="505.4" height="556.6" fill="none" stroke="#1e1e1e" stroke-width="2"/>
<rect x="788.1" y="80.7" width="506.3" height="69.7" fill="#d9d9d9" stroke="#3c3c3c" stroke-width="1.6"/>
<line x1="788.1" y1="150.4" x2="1294.4" y2="150.4" stroke="#333333" stroke-width="2.1"/>
<text x="1041.95" y="131.9" font-size="40" text-anchor="middle" fill="#000" xml:space="preserve"><tspan>Bound OC (%)</tspan></text>
<line x1="782" y1="659.8" x2="789" y2="659.8" stroke="#4a4a4a" stroke-width="1.6"/>
<text x="767.2" y="674.2" font-size="40" text-anchor="end" fill="#000">0</text>
<line x1="782" y1="560.38" x2="789" y2="560.38" stroke="#4a4a4a" stroke-width="1.6"/>
<text x="767.2" y="574.78" font-size="40" text-anchor="end" fill="#000">10</text>
<line x1="782" y1="460.96" x2="789" y2="460.96" stroke="#4a4a4a" stroke-width="1.6"/>
<text x="767.2" y="475.36" font-size="40" text-anchor="end" fill="#000">20</text>
<line x1="782" y1="361.54" x2="789" y2="361.54" stroke="#4a4a4a" stroke-width="1.6"/>
<text x="767.2" y="375.94" font-size="40" text-anchor="end" fill="#000">30</text>
<line x1="782" y1="262.12" x2="789" y2="262.12" stroke="#4a4a4a" stroke-width="1.6"/>
<text x="767.2" y="276.52" font-size="40" text-anchor="end" fill="#000">40</text>
<text x="727" y="134.5" font-size="46" font-weight="bold" fill="#000">b</text>
<rect x="1491" y="150.4" width="507.9" height="556.6" fill="#ffffff"/>
<rect x="1829" y="150.4" width="169.9" height="556.6" fill="#f3f7fb"/>
<line x1="1829" y1="150.4" x2="1829" y2="707" stroke="#8a8a8a" stroke-width="1.5"/>
<path d="M1570.6 220.9 L1570.58 223.16 L1570.54 226.32 L1570.51 230.05 L1570.49 234.02 L1570.51 237.91 L1570.6 241.4 L1570.76 244.5 L1570.97 247.46 L1571.22 250.35 L1571.5 253.2 L1571.8 256.07 L1572.1 259 L1572.4 261.78 L1572.7 264.34 L1573.02 266.91 L1573.37 269.74 L1573.76 273.05 L1574.2 277.1 L1574.7 282.04 L1575.26 287.73 L1575.86 293.9 L1576.47 300.32 L1577.09 306.73 L1577.7 312.9 L1578.3 318.86 L1578.92 324.81 L1579.54 330.76 L1580.15 336.7 L1580.74 342.65 L1581.3 348.6 L1581.84 354.55 L1582.36 360.5 L1582.86 366.45 L1583.34 372.4 L1583.79 378.35 L1584.2 384.3 L1584.56 390.25 L1584.89 396.2 L1585.17 402.15 L1585.45 408.1 L1585.72 414.05 L1586 420 L1586.29 425.95 L1586.57 431.9 L1586.85 437.85 L1587.13 443.8 L1587.41 449.75 L1587.7 455.7 L1588.01 461.86 L1588.33 468.26 L1588.66 474.66 L1588.98 480.82 L1589.26 486.48 L1589.5 491.4 L1589.71 495.41 L1589.9 498.69 L1590.07 501.47 L1590.19 504 L1590.23 506.53 L1590.2 509.3 L1590.09 512.27 L1589.91 515.24 L1589.66 518.2 L1589.35 521.16 L1588.96 524.13 L1588.5 527.1 L1587.96 530.08 L1587.34 533.06 L1586.65 536.04 L1585.89 539.03 L1585.07 542.02 L1584.2 545 L1583.23 547.98 L1582.14 550.97 L1580.99 553.96 L1579.84 556.94 L1578.72 559.92 L1577.7 562.9 L1576.73 565.95 L1575.77 569.1 L1574.86 572.24 L1574.01 575.28 L1573.28 578.13 L1572.7 580.7 L1572.29 583.04 L1572.03 585.25 L1571.89 587.26 L1571.81 589.03 L1571.76 590.49 L1571.7 591.6 L1561.1 591.6 L1561.04 590.49 L1560.99 589.03 L1560.91 587.26 L1560.77 585.25 L1560.51 583.04 L1560.1 580.7 L1559.52 578.13 L1558.79 575.28 L1557.94 572.24 L1557.03 569.1 L1556.07 565.95 L1555.1 562.9 L1554.08 559.92 L1552.96 556.94 L1551.81 553.96 L1550.66 550.97 L1549.57 547.98 L1548.6 545 L1547.73 542.02 L1546.91 539.03 L1546.15 536.04 L1545.46 533.06 L1544.84 530.08 L1544.3 527.1 L1543.84 524.13 L1543.45 521.16 L1543.14 518.2 L1542.89 515.24 L1542.71 512.27 L1542.6 509.3 L1542.57 506.53 L1542.61 504 L1542.73 501.47 L1542.9 498.69 L1543.09 495.41 L1543.3 491.4 L1543.54 486.48 L1543.82 480.82 L1544.14 474.66 L1544.47 468.26 L1544.79 461.86 L1545.1 455.7 L1545.39 449.75 L1545.67 443.8 L1545.95 437.85 L1546.23 431.9 L1546.51 425.95 L1546.8 420 L1547.08 414.05 L1547.35 408.1 L1547.63 402.15 L1547.91 396.2 L1548.24 390.25 L1548.6 384.3 L1549.01 378.35 L1549.46 372.4 L1549.94 366.45 L1550.44 360.5 L1550.96 354.55 L1551.5 348.6 L1552.06 342.65 L1552.65 336.7 L1553.26 330.76 L1553.88 324.81 L1554.5 318.86 L1555.1 312.9 L1555.71 306.73 L1556.33 300.32 L1556.94 293.9 L1557.54 287.73 L1558.1 282.04 L1558.6 277.1 L1559.04 273.05 L1559.43 269.74 L1559.78 266.91 L1560.1 264.34 L1560.4 261.78 L1560.7 259 L1561 256.07 L1561.3 253.2 L1561.58 250.35 L1561.83 247.46 L1562.04 244.5 L1562.2 241.4 L1562.29 237.91 L1562.31 234.02 L1562.29 230.05 L1562.26 226.32 L1562.22 223.16 L1562.2 220.9 Z" fill="#aed9ae" stroke="#34a034" stroke-width="2" stroke-linejoin="round"/>
<rect x="1559.8" y="369.5" width="13.2" height="138.9" fill="#5aad5a" fill-opacity="1"/>
<path d="M1568.93 558.1h0M1565.65 418.92h0M1562.51 468.52h0M1562.87 409.83h0M1563.14 347.87h0M1566.94 483.02h0M1565.65 464.64h0M1569.24 229.35h0M1562.08 415.88h0M1566.2 370.95h0M1564.16 483h0M1565.28 382.77h0M1565.67 430.05h0M1569.27 408.45h0M1568.35 493.89h0M1569.86 494.52h0M1563.17 461.18h0M1563.45 445.69h0M1566.1 384.12h0M1564.37 267.14h0M1566.99 387.14h0M1566.79 346.59h0M1569.06 429.83h0M1570.28 400.85h0M1566.85 452.05h0" stroke="#2b952b" stroke-opacity="0.8" stroke-width="2.7" stroke-linecap="round" fill="none"/>
<path d="M1567.66 305.54h0M1568.38 563.94h0M1565.68 436.66h0M1570.95 414.9h0M1566.33 521.38h0M1561.92 264.49h0M1570.59 403.06h0M1566.36 565.94h0M1569.87 413.33h0M1569.08 272.3h0M1566.24 519.69h0M1564.04 301.79h0M1563 493.4h0M1570.32 326.79h0M1570.64 500.46h0M1564.14 583.46h0M1568.92 441.46h0M1567.95 417.23h0M1566.27 572.75h0M1570.76 435.77h0M1562.75 518.6h0M1570.29 562.51h0M1563.85 497.38h0M1566.94 388.24h0M1569.86 319.12h0" stroke="#2b952b" stroke-opacity="0.8" stroke-width="2.7" stroke-linecap="round" fill="none"/>
<path d="M1569.32 450.1h0M1565.78 382.78h0M1568.34 548.75h0M1568.1 300.73h0M1570.95 508.68h0M1568.79 487.45h0M1570.19 533.69h0M1565.28 381.92h0M1564.51 416.84h0M1565.45 486.91h0M1562.99 538.86h0M1566.63 414.81h0M1570.65 222.23h0M1567.83 549.22h0M1569.53 409.28h0M1562.87 473.61h0M1570.27 525.73h0M1568.75 514.31h0M1569 365.79h0M1564.95 431.5h0M1565.31 445.6h0M1565.2 473.59h0M1569.52 415.95h0M1565.41 320.97h0M1570.8 462.71h0" stroke="#2b952b" stroke-opacity="0.8" stroke-width="2.7" stroke-linecap="round" fill="none"/>
<path d="M1565.59 407.37h0M1570.82 432.76h0M1562.06 438.53h0M1567.78 312.29h0M1568.7 475.98h0M1567.84 451.75h0M1570.42 400.25h0M1566.38 386.26h0M1568.17 358.95h0M1564.29 453.37h0M1564.5 566.26h0M1570.52 435.2h0M1563.87 585.18h0M1562.04 549.17h0M1563.02 376.79h0M1563.33 548.99h0M1567.49 503.53h0M1561.83 515.48h0M1564.83 450.93h0M1570.97 356.22h0M1564.66 379.4h0M1569.18 369.36h0" stroke="#2b952b" stroke-opacity="0.8" stroke-width="2.7" stroke-linecap="round" fill="none"/>
<line x1="1566.4" y1="220.9" x2="1566.4" y2="369.5" stroke="#3a3a3a" stroke-width="1.4"/>
<line x1="1566.4" y1="508.4" x2="1566.4" y2="591.7" stroke="#3a3a3a" stroke-width="1.4"/>
<rect x="1559.8" y="369.5" width="13.2" height="138.9" fill="none" stroke="#3a3a3a" stroke-width="1.5"/>
<line x1="1559.8" y1="443.2" x2="1573" y2="443.2" stroke="#2d2d2d" stroke-width="2.4"/>
<path d="M1566.4 427.6 L1572.3 433.5 L1566.4 439.4 L1560.5 433.5 Z" fill="none" stroke="#111" stroke-width="1.6" stroke-linejoin="miter"/>
<text x="1566.8" y="208" font-size="34" text-anchor="middle" fill="#000">A</text>
<text x="1567.4" y="689.3" font-size="31.8" text-anchor="middle" fill="#2e9c2e">(97)</text>
<path d="M1670.1 327.1 L1670.24 329.48 L1670.45 332.81 L1670.69 336.74 L1670.94 340.91 L1671.19 344.98 L1671.4 348.6 L1671.58 351.78 L1671.75 354.8 L1671.91 357.73 L1672.07 360.6 L1672.23 363.47 L1672.4 366.4 L1672.58 369.38 L1672.77 372.36 L1672.97 375.35 L1673.16 378.34 L1673.34 381.32 L1673.5 384.3 L1673.63 387.27 L1673.72 390.24 L1673.81 393.2 L1673.9 396.16 L1674.02 399.13 L1674.2 402.1 L1674.42 405.08 L1674.65 408.06 L1674.92 411.04 L1675.23 414.03 L1675.58 417.02 L1676 420 L1676.5 422.98 L1677.07 425.97 L1677.69 428.96 L1678.34 431.94 L1678.98 434.92 L1679.6 437.9 L1680.19 440.87 L1680.77 443.84 L1681.35 446.8 L1681.93 449.76 L1682.51 452.73 L1683.1 455.7 L1683.72 458.68 L1684.36 461.66 L1685.01 464.65 L1685.63 467.64 L1686.2 470.62 L1686.7 473.6 L1687.12 476.37 L1687.47 478.88 L1687.78 481.39 L1688.05 484.14 L1688.28 487.4 L1688.5 491.4 L1688.69 496.31 L1688.84 501.97 L1688.96 508.12 L1689.06 514.53 L1689.14 520.94 L1689.2 527.1 L1689.26 533.06 L1689.3 539.03 L1689.33 545 L1689.33 550.97 L1689.29 556.94 L1689.2 562.9 L1689.06 569.06 L1688.87 575.47 L1688.64 581.87 L1688.38 588.03 L1688.1 593.69 L1687.8 598.6 L1687.49 602.6 L1687.17 605.86 L1686.83 608.61 L1686.46 611.12 L1686.05 613.63 L1685.6 616.4 L1685.09 619.42 L1684.53 622.49 L1683.94 625.57 L1683.32 628.6 L1682.7 631.52 L1682.1 634.3 L1681.47 636.97 L1680.8 639.59 L1680.12 642.11 L1679.49 644.48 L1678.93 646.66 L1678.5 648.6 L1678.21 650.32 L1678.03 651.85 L1677.92 653.19 L1677.87 654.34 L1677.84 655.27 L1677.8 656 L1655.8 656 L1655.76 655.27 L1655.73 654.34 L1655.67 653.19 L1655.57 651.85 L1655.39 650.32 L1655.1 648.6 L1654.67 646.66 L1654.11 644.48 L1653.48 642.11 L1652.8 639.59 L1652.13 636.97 L1651.5 634.3 L1650.9 631.52 L1650.28 628.6 L1649.66 625.57 L1649.07 622.49 L1648.51 619.42 L1648 616.4 L1647.55 613.63 L1647.14 611.12 L1646.77 608.61 L1646.43 605.86 L1646.11 602.6 L1645.8 598.6 L1645.5 593.69 L1645.22 588.03 L1644.96 581.87 L1644.73 575.47 L1644.54 569.06 L1644.4 562.9 L1644.31 556.94 L1644.27 550.97 L1644.27 545 L1644.3 539.03 L1644.34 533.06 L1644.4 527.1 L1644.46 520.94 L1644.54 514.53 L1644.64 508.12 L1644.76 501.97 L1644.91 496.31 L1645.1 491.4 L1645.32 487.4 L1645.55 484.14 L1645.82 481.39 L1646.13 478.88 L1646.48 476.37 L1646.9 473.6 L1647.4 470.62 L1647.97 467.64 L1648.59 464.65 L1649.24 461.66 L1649.88 458.68 L1650.5 455.7 L1651.09 452.73 L1651.67 449.76 L1652.25 446.8 L1652.83 443.84 L1653.41 440.87 L1654 437.9 L1654.62 434.92 L1655.26 431.94 L1655.91 428.96 L1656.53 425.97 L1657.1 422.98 L1657.6 420 L1658.02 417.02 L1658.37 414.03 L1658.68 411.04 L1658.95 408.06 L1659.18 405.08 L1659.4 402.1 L1659.58 399.13 L1659.7 396.16 L1659.79 393.2 L1659.88 390.24 L1659.97 387.27 L1660.1 384.3 L1660.26 381.32 L1660.44 378.34 L1660.63 375.35 L1660.83 372.36 L1661.02 369.38 L1661.2 366.4 L1661.37 363.47 L1661.53 360.6 L1661.69 357.73 L1661.85 354.8 L1662.02 351.78 L1662.2 348.6 L1662.41 344.98 L1662.66 340.91 L1662.91 336.74 L1663.15 332.81 L1663.36 329.48 L1663.5 327.1 Z" fill="#ebbda1" stroke="#cc5a14" stroke-width="2" stroke-linejoin="round"/>
<rect x="1660" y="495.6" width="13.6" height="106.9" fill="#cf7638" fill-opacity="1"/>
<path d="M1670.66 558.89h0M1665.77 640.67h0M1671.34 443.95h0M1668.39 584.87h0M1669.85 487.66h0M1667.37 577.45h0M1666.58 591.5h0M1668.97 486.47h0M1666.19 452.47h0M1667.22 525.97h0M1670.4 632.46h0M1669.13 564.88h0M1670.06 465.62h0M1664.2 615.62h0M1665.55 491.35h0M1671.22 488.09h0M1670.56 533.29h0M1667.38 452.45h0M1668.44 570.4h0M1671.37 489.44h0M1670.44 419.28h0M1669.84 499.73h0M1671.28 619.96h0M1666.06 600.69h0M1665.99 447.64h0" stroke="#c4550f" stroke-opacity="0.8" stroke-width="2.7" stroke-linecap="round" fill="none"/>
<path d="M1671.3 605.95h0M1668.11 587.13h0M1666.79 614.58h0M1670.04 399.09h0M1668.09 538.32h0M1665.49 388.02h0M1667.18 516.29h0M1669.01 434.03h0M1662.49 573.61h0M1667.54 604.31h0M1670.55 552.55h0M1670.55 529.8h0M1662.29 621.61h0M1667.48 532.16h0M1669.97 600.21h0M1662.54 429.25h0M1663.78 501.08h0M1668.09 422.16h0M1667.53 376.54h0M1662.64 565.15h0M1670.72 547.06h0M1665.97 554.24h0M1665.44 345.42h0M1667.57 574.83h0M1666.77 495.13h0" stroke="#c4550f" stroke-opacity="0.8" stroke-width="2.7" stroke-linecap="round" fill="none"/>
<path d="M1668.45 426.1h0M1666.18 644.15h0M1665.46 459.32h0M1666.59 586.78h0M1666.68 581.43h0M1664.32 550.02h0M1670.41 426.79h0M1665.82 614.56h0M1666.43 477.48h0M1665.83 639.84h0M1668.84 496.16h0M1664.51 571.86h0M1670.82 523.7h0" stroke="#c4550f" stroke-opacity="0.8" stroke-width="2.7" stroke-linecap="round" fill="none"/>
<path d="M1667.9 327.5h0" stroke="#333" stroke-opacity="0.85" stroke-width="2.6" stroke-linecap="round" fill="none"/>
<line x1="1666.8" y1="369.5" x2="1666.8" y2="495.6" stroke="#3a3a3a" stroke-width="1.4"/>
<line x1="1666.8" y1="602.5" x2="1666.8" y2="656.6" stroke="#3a3a3a" stroke-width="1.4"/>
<rect x="1660" y="495.6" width="13.6" height="106.9" fill="none" stroke="#3a3a3a" stroke-width="1.5"/>
<line x1="1660" y1="546.5" x2="1673.6" y2="546.5" stroke="#2d2d2d" stroke-width="2.4"/>
<path d="M1666.8 529.8 L1672.7 535.7 L1666.8 541.6 L1660.9 535.7 Z" fill="none" stroke="#111" stroke-width="1.6" stroke-linejoin="miter"/>
<text x="1693.8" y="408.3" font-size="34" text-anchor="middle" fill="#000">D</text>
<text x="1669.5" y="689.3" font-size="31.8" text-anchor="middle" fill="#c8581a">(63)</text>
<path d="M1772 345.2 L1772.34 346.66 L1772.81 348.67 L1773.36 351.05 L1773.95 353.62 L1774.51 356.2 L1775 358.6 L1775.43 360.86 L1775.86 363.12 L1776.26 365.39 L1776.62 367.66 L1776.94 369.93 L1777.2 372.2 L1777.39 374.47 L1777.51 376.74 L1777.59 379.01 L1777.63 381.27 L1777.67 383.54 L1777.7 385.8 L1777.73 388.05 L1777.74 390.3 L1777.73 392.55 L1777.72 394.8 L1777.71 397.05 L1777.7 399.3 L1777.71 401.56 L1777.72 403.83 L1777.73 406.09 L1777.74 408.36 L1777.73 410.63 L1777.7 412.9 L1777.63 415.17 L1777.53 417.43 L1777.42 419.7 L1777.31 421.97 L1777.23 424.23 L1777.2 426.5 L1777.21 428.77 L1777.23 431.04 L1777.28 433.31 L1777.37 435.57 L1777.51 437.84 L1777.7 440.1 L1777.95 442.35 L1778.24 444.6 L1778.58 446.85 L1778.96 449.1 L1779.4 451.35 L1779.9 453.6 L1780.47 455.86 L1781.11 458.13 L1781.8 460.39 L1782.53 462.66 L1783.27 464.93 L1784 467.2 L1784.76 469.47 L1785.57 471.73 L1786.39 474 L1787.19 476.27 L1787.94 478.53 L1788.6 480.8 L1789.18 483.07 L1789.71 485.34 L1790.19 487.61 L1790.61 489.87 L1790.98 492.14 L1791.3 494.4 L1791.6 496.65 L1791.89 498.9 L1792.12 501.15 L1792.26 503.4 L1792.27 505.65 L1792.1 507.9 L1791.76 510.19 L1791.29 512.52 L1790.67 514.85 L1789.94 517.15 L1789.08 519.38 L1788.1 521.5 L1786.86 523.62 L1785.31 525.8 L1783.65 527.9 L1782.04 529.81 L1780.66 531.42 L1779.7 532.6 L1757.3 532.6 L1756.34 531.42 L1754.96 529.81 L1753.35 527.9 L1751.69 525.8 L1750.14 523.62 L1748.9 521.5 L1747.92 519.38 L1747.06 517.15 L1746.33 514.85 L1745.71 512.52 L1745.24 510.19 L1744.9 507.9 L1744.73 505.65 L1744.74 503.4 L1744.88 501.15 L1745.11 498.9 L1745.4 496.65 L1745.7 494.4 L1746.02 492.14 L1746.39 489.87 L1746.81 487.61 L1747.29 485.34 L1747.82 483.07 L1748.4 480.8 L1749.06 478.53 L1749.81 476.27 L1750.61 474 L1751.43 471.73 L1752.24 469.47 L1753 467.2 L1753.73 464.93 L1754.47 462.66 L1755.2 460.39 L1755.89 458.13 L1756.53 455.86 L1757.1 453.6 L1757.6 451.35 L1758.04 449.1 L1758.42 446.85 L1758.76 444.6 L1759.05 442.35 L1759.3 440.1 L1759.49 437.84 L1759.63 435.57 L1759.72 433.31 L1759.77 431.04 L1759.79 428.77 L1759.8 426.5 L1759.77 424.23 L1759.69 421.97 L1759.58 419.7 L1759.47 417.43 L1759.37 415.17 L1759.3 412.9 L1759.27 410.63 L1759.26 408.36 L1759.27 406.09 L1759.28 403.83 L1759.29 401.56 L1759.3 399.3 L1759.29 397.05 L1759.28 394.8 L1759.27 392.55 L1759.26 390.3 L1759.27 388.05 L1759.3 385.8 L1759.33 383.54 L1759.37 381.27 L1759.41 379.01 L1759.49 376.74 L1759.61 374.47 L1759.8 372.2 L1760.06 369.93 L1760.38 367.66 L1760.74 365.39 L1761.14 363.12 L1761.57 360.86 L1762 358.6 L1762.49 356.2 L1763.05 353.62 L1763.64 351.05 L1764.19 348.67 L1764.66 346.66 L1765 345.2 Z" fill="#d7ebfe" stroke="#9ccefc" stroke-width="2" stroke-linejoin="round"/>
<rect x="1761.9" y="426.3" width="13.2" height="81.3" fill="#a7d3fb" fill-opacity="1"/>
<path d="M1764.81 490.07h0M1771.18 473.68h0M1768.84 508.73h0M1771.42 455.18h0M1771.77 429.16h0M1772.31 483.85h0M1765.15 386.33h0M1764.42 392.71h0M1764.56 509.34h0M1769.88 526.08h0M1772.1 486.98h0M1771.71 515.19h0M1766.25 504.25h0M1772.87 403.12h0M1764.87 474.69h0M1772.63 413.65h0M1772.17 395.82h0M1771.57 456.77h0M1770.26 519.58h0M1764.11 481.64h0M1764.52 381.49h0M1771.7 447.17h0M1765.58 482.75h0M1766.89 506.63h0M1771.29 474.02h0" stroke="#8cc2f4" stroke-opacity="0.8" stroke-width="2.7" stroke-linecap="round" fill="none"/>
<path d="M1771.46 497.39h0M1765.45 470.09h0M1772.52 465.38h0M1772.6 480.75h0M1768.92 510.79h0M1769.82 467.15h0M1770.78 499.38h0M1772.2 459.07h0M1769.96 353.76h0M1772.26 473.85h0M1764.67 521.05h0M1768.1 413.77h0M1769.67 465.79h0M1766.14 501.86h0M1771.65 345.7h0M1768.05 430.48h0M1771.52 355.02h0M1766.82 487.56h0M1770.09 353.33h0M1773.06 355.37h0M1766.99 456.92h0M1765.56 491.8h0M1769.57 377.9h0M1770.26 531.71h0M1769.4 502.7h0" stroke="#8cc2f4" stroke-opacity="0.8" stroke-width="2.7" stroke-linecap="round" fill="none"/>
<path d="M1765.3 479.09h0M1769.09 488.5h0M1772.21 496.39h0M1767.31 510.93h0M1772.17 496.07h0M1766.58 372.39h0M1771.24 461.42h0M1769.38 504.46h0M1772.78 508.52h0M1772.99 526.2h0M1766.92 488.12h0M1767.64 470.84h0M1770.47 479.32h0M1764.07 509.41h0M1771.39 521.59h0M1764.01 421.06h0M1766.54 355.4h0M1766.26 510.3h0M1767.17 477.99h0M1767.85 439.6h0M1764.41 485.33h0M1765.58 450.06h0M1772.24 509.16h0M1769.66 447.34h0M1764.45 510.75h0" stroke="#8cc2f4" stroke-opacity="0.8" stroke-width="2.7" stroke-linecap="round" fill="none"/>
<path d="M1770.25 418.18h0M1770.26 375.31h0M1771.15 515.14h0M1766.38 400.92h0M1772.3 480.8h0M1771.34 422.75h0M1772.01 485.4h0M1772.94 496.41h0M1771.91 445.2h0M1765.48 432.42h0M1764.64 470.23h0M1765.95 527.55h0M1768.41 397.94h0M1769.18 514.44h0M1767.17 462.18h0M1764.53 490.78h0M1769.86 464.92h0M1767.74 473.67h0M1768.78 505.61h0M1772.41 418.46h0" stroke="#8cc2f4" stroke-opacity="0.8" stroke-width="2.7" stroke-linecap="round" fill="none"/>
<line x1="1768.5" y1="345.4" x2="1768.5" y2="426.3" stroke="#3a3a3a" stroke-width="1.4"/>
<line x1="1768.5" y1="507.6" x2="1768.5" y2="533.3" stroke="#3a3a3a" stroke-width="1.4"/>
<rect x="1761.9" y="426.3" width="13.2" height="81.3" fill="none" stroke="#3a3a3a" stroke-width="1.5"/>
<line x1="1761.9" y1="483.6" x2="1775.1" y2="483.6" stroke="#2d2d2d" stroke-width="2.4"/>
<path d="M1768.5 460.5 L1774.4 466.4 L1768.5 472.3 L1762.6 466.4 Z" fill="none" stroke="#111" stroke-width="1.6" stroke-linejoin="miter"/>
<text x="1768.7" y="333" font-size="34" text-anchor="middle" fill="#000">C</text>
<text x="1776.1" y="689.3" font-size="31.8" text-anchor="middle" fill="#9ccbf6">(95)</text>
<path d="M1889.1 261.4 L1889.15 263.15 L1889.21 265.61 L1889.29 268.5 L1889.39 271.57 L1889.49 274.56 L1889.6 277.2 L1889.73 279.49 L1889.89 281.63 L1890.05 283.69 L1890.21 285.73 L1890.37 287.81 L1890.5 290 L1890.62 292.3 L1890.74 294.68 L1890.86 297.1 L1890.94 299.53 L1891 301.94 L1891 304.3 L1890.94 306.61 L1890.82 308.89 L1890.67 311.14 L1890.5 313.39 L1890.34 315.64 L1890.2 317.9 L1890.07 320.17 L1889.94 322.44 L1889.81 324.71 L1889.7 326.97 L1889.63 329.24 L1889.6 331.5 L1889.63 333.75 L1889.7 336 L1889.81 338.25 L1889.94 340.5 L1890.07 342.75 L1890.2 345 L1890.32 347.26 L1890.45 349.53 L1890.59 351.79 L1890.73 354.06 L1890.86 356.33 L1891 358.6 L1891.13 360.87 L1891.26 363.13 L1891.38 365.4 L1891.51 367.67 L1891.65 369.93 L1891.8 372.2 L1891.96 374.47 L1892.13 376.74 L1892.3 379.01 L1892.49 381.27 L1892.68 383.54 L1892.9 385.8 L1893.14 388.05 L1893.41 390.3 L1893.7 392.55 L1893.99 394.8 L1894.26 397.05 L1894.5 399.3 L1894.71 401.4 L1894.89 403.32 L1895.05 405.24 L1895.21 407.36 L1895.39 409.85 L1895.6 412.9 L1895.84 416.65 L1896.11 420.96 L1896.4 425.66 L1896.69 430.54 L1896.96 435.42 L1897.2 440.1 L1897.4 444.62 L1897.56 449.14 L1897.71 453.65 L1897.87 458.16 L1898.06 462.68 L1898.3 467.2 L1898.62 471.89 L1899 476.77 L1899.42 481.65 L1899.83 486.34 L1900.2 490.66 L1900.5 494.4 L1900.72 497.44 L1900.9 499.91 L1901.04 502 L1901.14 503.9 L1901.23 505.8 L1901.3 507.9 L1901.36 510.16 L1901.39 512.43 L1901.4 514.69 L1901.39 516.96 L1901.36 519.23 L1901.3 521.5 L1901.23 523.77 L1901.13 526.03 L1901.02 528.3 L1900.88 530.57 L1900.71 532.83 L1900.5 535.1 L1900.25 537.36 L1899.94 539.63 L1899.61 541.89 L1899.27 544.15 L1898.92 546.42 L1898.6 548.7 L1898.27 551.15 L1897.93 553.8 L1897.58 556.45 L1897.26 558.91 L1896.99 561 L1896.8 562.5 L1874.8 562.5 L1874.61 561 L1874.34 558.91 L1874.02 556.45 L1873.67 553.8 L1873.33 551.15 L1873 548.7 L1872.68 546.42 L1872.33 544.15 L1871.99 541.89 L1871.66 539.63 L1871.35 537.36 L1871.1 535.1 L1870.89 532.83 L1870.72 530.57 L1870.58 528.3 L1870.47 526.03 L1870.37 523.77 L1870.3 521.5 L1870.24 519.23 L1870.21 516.96 L1870.2 514.69 L1870.21 512.43 L1870.24 510.16 L1870.3 507.9 L1870.37 505.8 L1870.46 503.9 L1870.56 502 L1870.7 499.91 L1870.88 497.44 L1871.1 494.4 L1871.4 490.66 L1871.77 486.34 L1872.18 481.65 L1872.6 476.77 L1872.98 471.89 L1873.3 467.2 L1873.54 462.68 L1873.73 458.16 L1873.89 453.65 L1874.04 449.14 L1874.2 444.62 L1874.4 440.1 L1874.64 435.42 L1874.91 430.54 L1875.2 425.66 L1875.49 420.96 L1875.76 416.65 L1876 412.9 L1876.21 409.85 L1876.39 407.36 L1876.55 405.24 L1876.71 403.32 L1876.89 401.4 L1877.1 399.3 L1877.34 397.05 L1877.61 394.8 L1877.9 392.55 L1878.19 390.3 L1878.46 388.05 L1878.7 385.8 L1878.92 383.54 L1879.11 381.27 L1879.3 379.01 L1879.47 376.74 L1879.64 374.47 L1879.8 372.2 L1879.95 369.93 L1880.09 367.67 L1880.22 365.4 L1880.34 363.13 L1880.47 360.87 L1880.6 358.6 L1880.74 356.33 L1880.87 354.06 L1881.01 351.79 L1881.15 349.53 L1881.28 347.26 L1881.4 345 L1881.53 342.75 L1881.66 340.5 L1881.79 338.25 L1881.9 336 L1881.97 333.75 L1882 331.5 L1881.97 329.24 L1881.9 326.97 L1881.79 324.71 L1881.66 322.44 L1881.53 320.17 L1881.4 317.9 L1881.26 315.64 L1881.1 313.39 L1880.93 311.14 L1880.78 308.89 L1880.66 306.61 L1880.6 304.3 L1880.6 301.94 L1880.66 299.53 L1880.74 297.1 L1880.86 294.68 L1880.98 292.3 L1881.1 290 L1881.23 287.81 L1881.39 285.73 L1881.55 283.69 L1881.71 281.63 L1881.87 279.49 L1882 277.2 L1882.11 274.56 L1882.21 271.57 L1882.31 268.5 L1882.39 265.61 L1882.45 263.15 L1882.5 261.4 Z" fill="#f4cd98" stroke="#f5991f" stroke-width="2" stroke-linejoin="round"/>
<rect x="1881.25" y="391.2" width="9.1" height="139.3" fill="#f5a032" fill-opacity="1"/>
<path d="M1886.27 432.04h0M1888.78 541.7h0M1882.49 431.96h0M1887.17 511.85h0M1890.32 420.13h0M1888.93 493.96h0M1889.99 471.01h0M1885.2 534.13h0M1889.38 412.14h0M1885.49 511.56h0M1884.88 503.38h0M1882.26 531.62h0M1881.48 402.45h0M1889.44 292.44h0M1888.63 325.6h0M1881.43 506.44h0M1885.11 451.77h0M1884.44 509.09h0M1882.92 410.7h0M1884.93 458.23h0M1885.85 492.12h0M1884.24 467.14h0M1882.9 486.61h0M1887.64 478.27h0M1889.92 471.65h0" stroke="#ee8d12" stroke-opacity="0.8" stroke-width="2.7" stroke-linecap="round" fill="none"/>
<path d="M1887.78 393.35h0M1886.63 305.06h0M1882.44 483.42h0M1888.81 507.75h0M1881.76 414.22h0M1887.02 473.23h0M1889.66 415.53h0M1889.95 374.73h0M1890.27 490.67h0M1885.73 392.86h0M1888.43 408.98h0M1887.87 511.25h0M1888.77 402.81h0M1885.25 309.29h0M1890.04 484.3h0M1883.6 558.76h0M1884.82 382.33h0M1882.9 487.59h0M1885.17 455.82h0M1885.33 525.65h0M1886.16 556.59h0M1886.99 456.63h0M1884.79 433.97h0M1888.28 359.4h0M1887.68 419.41h0" stroke="#ee8d12" stroke-opacity="0.8" stroke-width="2.7" stroke-linecap="round" fill="none"/>
<path d="M1887.8 281.42h0M1884.36 520.08h0M1885.07 410.14h0M1882.15 432.43h0M1888.93 494.81h0M1884.03 419.05h0M1883.33 315.02h0M1888.22 452.42h0M1886.62 480.33h0M1887.33 456.29h0M1887.94 462.74h0M1887.57 446.44h0M1883.21 490.29h0M1882.96 560.54h0M1887.94 304.89h0M1889.15 325.52h0M1889.8 371.76h0M1888.73 524.96h0M1881.68 536.82h0M1887.75 425.69h0M1888.34 387.04h0M1885.37 490.59h0M1887.61 323.14h0M1882.7 372.22h0M1882.6 490.95h0" stroke="#ee8d12" stroke-opacity="0.8" stroke-width="2.7" stroke-linecap="round" fill="none"/>
<path d="M1883.31 524.33h0M1889.71 495.55h0M1882.06 388.42h0M1882.49 512.37h0M1881.39 355.14h0M1883.15 422.02h0M1882.4 524.03h0M1882.17 433.25h0M1883.7 474.98h0M1886.59 537.44h0M1886.77 436.17h0M1882.29 424.59h0M1886.23 386.12h0M1889.35 440.01h0M1888.81 541.33h0M1882.68 427.01h0M1885.97 500.57h0M1881.37 545.93h0M1881.43 494.1h0M1889.04 478.99h0M1885.99 431.84h0M1889.99 493.94h0M1886.67 278.41h0M1889.69 465.1h0M1886.14 322.03h0" stroke="#ee8d12" stroke-opacity="0.8" stroke-width="2.7" stroke-linecap="round" fill="none"/>
<path d="M1889.59 432.27h0M1882.28 470.12h0M1886.27 440.69h0M1881.62 458.79h0M1882 507.98h0M1890 512.17h0M1889.61 554h0M1888.3 533.49h0M1884.8 537.7h0M1889.64 493.39h0M1882.74 391.93h0M1883.98 503.16h0M1888.82 261.84h0M1889.56 393.97h0M1883.83 508.17h0M1883.62 293.64h0M1889.27 356.13h0M1881.29 372.36h0M1886.33 427.5h0M1883.19 447.73h0M1888.69 513.89h0M1885.35 312.01h0M1884.77 362.54h0M1885.97 525.41h0M1887.18 431.51h0" stroke="#ee8d12" stroke-opacity="0.8" stroke-width="2.7" stroke-linecap="round" fill="none"/>
<path d="M1887.41 481.32h0M1882.12 367.28h0M1883.8 428.01h0M1884.88 419.89h0M1884.43 418.77h0M1882.02 317.18h0M1885.02 347.06h0M1888.15 433.93h0M1886.25 466.05h0M1881.51 372.98h0M1883.51 558.29h0M1884.98 541.68h0M1883.18 357.36h0M1889.38 291.3h0M1881.86 438.19h0M1885.82 446.97h0M1883.84 507.64h0M1885.19 482.94h0M1887.33 420.73h0" stroke="#ee8d12" stroke-opacity="0.8" stroke-width="2.7" stroke-linecap="round" fill="none"/>
<line x1="1885.8" y1="261.3" x2="1885.8" y2="391.2" stroke="#3a3a3a" stroke-width="1.4"/>
<line x1="1885.8" y1="530.5" x2="1885.8" y2="563.3" stroke="#3a3a3a" stroke-width="1.4"/>
<rect x="1881.25" y="391.2" width="9.1" height="139.3" fill="none" stroke="#3a3a3a" stroke-width="1.5"/>
<line x1="1881.25" y1="478.9" x2="1890.35" y2="478.9" stroke="#2d2d2d" stroke-width="2.4"/>
<path d="M1885.8 444.2 L1891.7 450.1 L1885.8 456 L1879.9 450.1 Z" fill="none" stroke="#111" stroke-width="1.6" stroke-linejoin="miter"/>
<text x="1886.6" y="248.1" font-size="34" text-anchor="middle" fill="#000">B</text>
<text x="1874.5" y="689.3" font-size="31.8" text-anchor="middle" fill="#ec7424">(144)</text>
<path d="M1954.15 535.1 L1954.66 536.58 L1955.36 538.63 L1956.19 541.06 L1957.09 543.67 L1958.02 546.28 L1958.9 548.7 L1959.78 550.95 L1960.7 553.2 L1961.64 555.45 L1962.57 557.7 L1963.47 559.95 L1964.3 562.2 L1965.11 564.52 L1965.93 566.93 L1966.72 569.33 L1967.42 571.66 L1968 573.84 L1968.4 575.8 L1968.63 577.48 L1968.74 578.94 L1968.72 580.24 L1968.57 581.47 L1968.3 582.7 L1967.9 584 L1967.33 585.32 L1966.58 586.6 L1965.71 587.88 L1964.76 589.2 L1963.81 590.59 L1962.9 592.1 L1961.99 593.72 L1961.01 595.43 L1960.03 597.21 L1959.08 599.06 L1958.22 600.99 L1957.5 603 L1956.93 605.24 L1956.48 607.74 L1956.11 610.31 L1955.81 612.77 L1955.55 614.93 L1955.3 616.6 L1955.08 617.71 L1954.9 618.41 L1954.76 618.8 L1954.66 619 L1954.57 619.13 L1954.5 619.3 L1952.9 619.3 L1952.83 619.13 L1952.74 619 L1952.64 618.8 L1952.5 618.41 L1952.32 617.71 L1952.1 616.6 L1951.85 614.93 L1951.59 612.77 L1951.29 610.31 L1950.92 607.74 L1950.47 605.24 L1949.9 603 L1949.18 600.99 L1948.32 599.06 L1947.37 597.21 L1946.39 595.43 L1945.41 593.72 L1944.5 592.1 L1943.59 590.59 L1942.64 589.2 L1941.69 587.88 L1940.82 586.6 L1940.07 585.32 L1939.5 584 L1939.1 582.7 L1938.83 581.47 L1938.68 580.24 L1938.66 578.94 L1938.77 577.48 L1939 575.8 L1939.4 573.84 L1939.98 571.66 L1940.68 569.33 L1941.47 566.93 L1942.29 564.52 L1943.1 562.2 L1943.93 559.95 L1944.83 557.7 L1945.76 555.45 L1946.7 553.2 L1947.62 550.95 L1948.5 548.7 L1949.38 546.28 L1950.31 543.67 L1951.21 541.06 L1952.04 538.63 L1952.74 536.58 L1953.25 535.1 Z" fill="#afc2f3" stroke="#4a72e6" stroke-width="2" stroke-linejoin="round"/>
<rect x="1949.15" y="563.6" width="9.1" height="23.1" fill="#6486e6" fill-opacity="1"/>
<path d="M1955.21 575.72h0M1958.07 560.8h0M1952.93 560.72h0M1951.46 571h0M1950.04 575.56h0M1949.45 551.54h0M1952.89 574.81h0M1949.51 584.69h0M1950.31 572.63h0M1951.65 568.17h0M1950.98 567.91h0M1949.33 568.34h0M1954.35 557.32h0M1951.96 591.1h0M1951.1 584.09h0M1953.42 591.27h0M1957.42 588.07h0M1952.06 567.34h0M1956.43 571.38h0M1955.45 559.01h0M1950.88 548.91h0M1955.42 577.53h0M1950.27 572.26h0M1952.38 555.48h0M1951.29 590.6h0" stroke="#3f66dc" stroke-opacity="0.8" stroke-width="2.7" stroke-linecap="round" fill="none"/>
<path d="M1951.34 584.71h0M1953.95 572.75h0M1955.93 564.22h0M1957.77 616.47h0M1955.88 573.18h0M1951.61 563.62h0M1954.77 585.99h0M1954.32 574.16h0M1956.45 559.13h0M1952.73 592.88h0M1949.51 567.41h0M1953.66 568.3h0M1951.39 590.69h0M1958 591.89h0M1957.44 578.48h0M1955.08 587.68h0M1957.23 547.94h0M1951.08 574.11h0M1956.48 574.74h0M1952.64 585.38h0M1955.45 552.89h0M1952.65 561.39h0M1958.04 567.55h0M1950.5 568.62h0M1950.07 574.87h0" stroke="#3f66dc" stroke-opacity="0.8" stroke-width="2.7" stroke-linecap="round" fill="none"/>
<path d="M1954.64 575.22h0M1956.3 564.11h0M1949.83 569.16h0M1958.08 603.04h0M1952.13 580.49h0M1953.56 565.95h0M1950.17 571.89h0M1950.64 574.72h0M1953.94 579.26h0M1952.98 577.11h0M1952.77 593.65h0M1956.38 563.97h0M1950.31 582.64h0M1955.59 601.14h0M1951.98 567.56h0M1951.61 554.22h0M1956.56 567.01h0M1957.87 592.21h0M1952.57 589.14h0M1954.96 572.24h0M1951.36 601.41h0M1957.26 559.45h0M1949.7 591.18h0M1950.39 566.42h0M1949.89 550.76h0" stroke="#3f66dc" stroke-opacity="0.8" stroke-width="2.7" stroke-linecap="round" fill="none"/>
<path d="M1951.73 583.84h0M1954.43 578.49h0M1951.75 581.37h0M1949.61 577.88h0M1954.6 598.03h0M1953.22 576.88h0M1952.76 611.53h0M1957.67 591.48h0M1954.65 571.62h0M1956.15 577.97h0M1957.86 557.58h0M1954.68 587.32h0M1949.68 582.61h0M1954.59 566.97h0M1957.54 554.73h0M1952.54 595.81h0M1955.74 596.9h0M1950.57 607.66h0M1955.43 583.93h0M1956.93 570.03h0M1953.03 595.51h0M1951.47 592.59h0M1949.97 579.43h0M1958.16 556.3h0M1955.01 618.68h0" stroke="#3f66dc" stroke-opacity="0.8" stroke-width="2.7" stroke-linecap="round" fill="none"/>
<path d="M1950.35 546.73h0M1957.99 577.18h0M1957.39 593.12h0M1950.78 578.28h0M1954.22 576.21h0M1951.45 574.08h0M1949.24 589.7h0M1950.36 555.11h0M1952.25 618.93h0M1951.63 547.66h0M1957.08 587.22h0M1950.03 571.32h0M1953.71 579.28h0M1953.71 577.66h0M1949.19 542.07h0M1951.66 579.76h0" stroke="#3f66dc" stroke-opacity="0.8" stroke-width="2.7" stroke-linecap="round" fill="none"/>
<line x1="1953.7" y1="535.3" x2="1953.7" y2="563.6" stroke="#3a3a3a" stroke-width="1.4"/>
<line x1="1953.7" y1="586.7" x2="1953.7" y2="619.3" stroke="#3a3a3a" stroke-width="1.4"/>
<rect x="1949.15" y="563.6" width="9.1" height="23.1" fill="none" stroke="#3a3a3a" stroke-width="1.5"/>
<line x1="1949.15" y1="577.7" x2="1958.25" y2="577.7" stroke="#2d2d2d" stroke-width="2.4"/>
<path d="M1953.7 570.5 L1959.6 576.4 L1953.7 582.3 L1947.8 576.4 Z" fill="none" stroke="#111" stroke-width="1.6" stroke-linejoin="miter"/>
<text x="1954.1" y="526.3" font-size="34" text-anchor="middle" fill="#000">E</text>
<text x="1955.5" y="689.3" font-size="31.8" text-anchor="middle" fill="#3a68c8">(116)</text>
<rect x="1491" y="150.4" width="507.9" height="556.6" fill="none" stroke="#1e1e1e" stroke-width="2"/>
<rect x="1489.9" y="80.7" width="508.4" height="69.7" fill="#d9d9d9" stroke="#3c3c3c" stroke-width="1.6"/>
<line x1="1489.9" y1="150.4" x2="1998.3" y2="150.4" stroke="#333333" stroke-width="2.1"/>
<text x="1744.8" y="131.9" font-size="40" text-anchor="middle" fill="#000" xml:space="preserve"><tspan>pH</tspan></text>
<line x1="1484" y1="647.8" x2="1491" y2="647.8" stroke="#4a4a4a" stroke-width="1.6"/>
<text x="1469" y="662.2" font-size="40" text-anchor="end" fill="#000">4</text>
<line x1="1484" y1="565.62" x2="1491" y2="565.62" stroke="#4a4a4a" stroke-width="1.6"/>
<text x="1469" y="580.02" font-size="40" text-anchor="end" fill="#000">5</text>
<line x1="1484" y1="483.44" x2="1491" y2="483.44" stroke="#4a4a4a" stroke-width="1.6"/>
<text x="1469" y="497.84" font-size="40" text-anchor="end" fill="#000">6</text>
<line x1="1484" y1="401.26" x2="1491" y2="401.26" stroke="#4a4a4a" stroke-width="1.6"/>
<text x="1469" y="415.66" font-size="40" text-anchor="end" fill="#000">7</text>
<line x1="1484" y1="319.08" x2="1491" y2="319.08" stroke="#4a4a4a" stroke-width="1.6"/>
<text x="1469" y="333.48" font-size="40" text-anchor="end" fill="#000">8</text>
<line x1="1484" y1="236.9" x2="1491" y2="236.9" stroke="#4a4a4a" stroke-width="1.6"/>
<text x="1469" y="251.3" font-size="40" text-anchor="end" fill="#000">9</text>
<text x="1428" y="134.5" font-size="46" font-weight="bold" fill="#000">c</text>
<rect x="89.2" y="838.3" width="507.4" height="557.3" fill="#ffffff"/>
<rect x="423.1" y="838.3" width="173.5" height="557.3" fill="#f3f7fb"/>
<line x1="423.1" y1="838.3" x2="423.1" y2="1395.6" stroke="#8a8a8a" stroke-width="1.5"/>
<path d="M164.95 909.3 L164.95 919.06 L164.96 932.47 L164.97 948.4 L164.98 965.72 L164.99 983.3 L165 1000 L165.01 1016.36 L165.03 1033.39 L165.05 1050.67 L165.06 1067.8 L165.08 1084.38 L165.1 1100 L165.11 1115.24 L165.13 1130.56 L165.14 1145.31 L165.15 1158.89 L165.17 1170.66 L165.2 1180 L165.22 1186.34 L165.23 1190.07 L165.25 1192 L165.29 1192.93 L165.37 1193.66 L165.5 1195 L165.71 1196.75 L165.99 1198.22 L166.31 1199.5 L166.63 1200.67 L166.94 1201.81 L167.2 1203 L167.43 1204.21 L167.66 1205.37 L167.87 1206.5 L168.04 1207.63 L168.16 1208.79 L168.2 1210 L168.16 1211.29 L168.05 1212.63 L167.88 1214 L167.67 1215.37 L167.44 1216.71 L167.2 1218 L166.91 1218.96 L166.57 1219.56 L166.19 1220.12 L165.83 1221 L165.52 1222.51 L165.3 1225 L165.16 1228.84 L165.09 1233.85 L165.06 1239.5 L165.07 1245.26 L165.12 1250.6 L165.2 1255 L165.31 1258.37 L165.47 1261.11 L165.66 1263.44 L165.89 1265.56 L166.13 1267.67 L166.4 1270 L166.7 1272.59 L167.04 1275.27 L167.4 1277.96 L167.77 1280.55 L168.15 1282.93 L168.5 1285 L168.78 1286.7 L169 1288.09 L169.21 1289.28 L169.49 1290.36 L169.9 1291.43 L170.5 1292.6 L171.35 1293.84 L172.41 1295.07 L173.6 1296.3 L174.84 1297.53 L176.07 1298.76 L177.2 1300 L178.28 1301.26 L179.36 1302.53 L180.43 1303.8 L181.45 1305.07 L182.38 1306.34 L183.2 1307.6 L183.9 1308.84 L184.5 1310.07 L185.02 1311.3 L185.47 1312.53 L185.86 1313.76 L186.2 1315 L186.46 1316.26 L186.63 1317.53 L186.74 1318.8 L186.82 1320.07 L186.9 1321.34 L187 1322.6 L187.17 1323.84 L187.38 1325.07 L187.59 1326.3 L187.74 1327.53 L187.8 1328.76 L187.7 1330 L187.45 1331.27 L187.09 1332.58 L186.62 1333.89 L186.06 1335.18 L185.42 1336.42 L184.7 1337.6 L183.8 1338.76 L182.7 1339.94 L181.51 1341.07 L180.37 1342.1 L179.39 1342.97 L178.7 1343.6 L150.3 1343.6 L149.61 1342.97 L148.63 1342.1 L147.49 1341.07 L146.3 1339.94 L145.2 1338.76 L144.3 1337.6 L143.58 1336.42 L142.94 1335.18 L142.38 1333.89 L141.91 1332.58 L141.55 1331.27 L141.3 1330 L141.2 1328.76 L141.26 1327.53 L141.41 1326.3 L141.62 1325.07 L141.83 1323.84 L142 1322.6 L142.1 1321.34 L142.18 1320.07 L142.26 1318.8 L142.37 1317.53 L142.54 1316.26 L142.8 1315 L143.14 1313.76 L143.53 1312.53 L143.98 1311.3 L144.5 1310.07 L145.1 1308.84 L145.8 1307.6 L146.62 1306.34 L147.55 1305.07 L148.57 1303.8 L149.64 1302.53 L150.72 1301.26 L151.8 1300 L152.93 1298.76 L154.16 1297.53 L155.4 1296.3 L156.59 1295.07 L157.65 1293.84 L158.5 1292.6 L159.1 1291.43 L159.51 1290.36 L159.79 1289.28 L160 1288.09 L160.22 1286.7 L160.5 1285 L160.85 1282.93 L161.23 1280.55 L161.6 1277.96 L161.96 1275.27 L162.3 1272.59 L162.6 1270 L162.87 1267.67 L163.11 1265.56 L163.34 1263.44 L163.53 1261.11 L163.69 1258.37 L163.8 1255 L163.88 1250.6 L163.93 1245.26 L163.94 1239.5 L163.91 1233.85 L163.84 1228.84 L163.7 1225 L163.48 1222.51 L163.17 1221 L162.81 1220.12 L162.43 1219.56 L162.09 1218.96 L161.8 1218 L161.56 1216.71 L161.33 1215.37 L161.12 1214 L160.95 1212.63 L160.84 1211.29 L160.8 1210 L160.84 1208.79 L160.96 1207.63 L161.13 1206.5 L161.34 1205.37 L161.57 1204.21 L161.8 1203 L162.06 1201.81 L162.37 1200.67 L162.69 1199.5 L163.01 1198.22 L163.29 1196.75 L163.5 1195 L163.63 1193.66 L163.71 1192.93 L163.75 1192 L163.77 1190.07 L163.78 1186.34 L163.8 1180 L163.83 1170.66 L163.85 1158.89 L163.86 1145.31 L163.87 1130.56 L163.89 1115.24 L163.9 1100 L163.92 1084.38 L163.94 1067.8 L163.95 1050.67 L163.97 1033.39 L163.99 1016.36 L164 1000 L164.01 983.3 L164.02 965.72 L164.03 948.4 L164.04 932.47 L164.05 919.06 L164.05 909.3 Z" fill="#aed9ae" stroke="#34a034" stroke-width="2" stroke-linejoin="round"/>
<rect x="157.7" y="1302" width="13.6" height="30.3" fill="#5aad5a" fill-opacity="1"/>
<path d="M166.7 1321.38h0M165.85 1303.24h0M163.73 1291.15h0M168.17 1331.93h0M167.7 1330.52h0M160.29 1333.58h0M167.25 1337.6h0M162.48 1331.42h0M160.19 1323.7h0M161.59 1335.54h0M165.67 1316.71h0M163.14 1124.97h0M163.8 1342.51h0M162.19 1313.13h0M167.3 1335.3h0M168.81 1324.73h0M164.44 1320.15h0M168.92 1300.96h0M162.09 1312.35h0M163.81 1316.02h0M168.43 1325.14h0M168.03 1310.2h0M168.83 1325.2h0M164.33 1317.41h0M162.04 1299.08h0" stroke="#2b952b" stroke-opacity="0.8" stroke-width="2.7" stroke-linecap="round" fill="none"/>
<path d="M167.2 1307.61h0M166.12 1337.82h0M160.9 1217.79h0M161.24 1307.13h0M163.55 1306.14h0M163.97 1313.93h0M163.16 1277.18h0M166.05 1330.26h0M161.53 1329.18h0M168.02 1307.37h0M165.22 1316.56h0M162.25 1024.38h0M164.09 1296.25h0M161.43 1322.92h0M165.15 1318.99h0M166.77 1327.1h0M165.75 1343.52h0M165.59 1315.09h0M162.51 1306.47h0M164.19 1301.73h0M163.09 1317.55h0M164.19 1318.55h0M168.14 1330.42h0M160.83 1340.87h0M162.06 1269.75h0" stroke="#2b952b" stroke-opacity="0.8" stroke-width="2.7" stroke-linecap="round" fill="none"/>
<path d="M168.18 1339.28h0M168.47 1292.37h0M161.17 1209.94h0M162.9 1316.33h0M165.31 1306.88h0M165.91 1311.79h0M160.49 1341.72h0M163.21 1333.36h0M167.9 1295.78h0M166.45 1333.83h0M165.9 1327.76h0M166.98 1337.91h0M168.65 1318.24h0M163.58 1331.07h0M166.48 1289.27h0M168.44 1308.17h0M169.04 1311.11h0M161.99 1316.71h0M160.41 1218.09h0M167.26 1337.77h0M161.61 1329.89h0M162.1 1307.98h0M161.19 1340.42h0M165.08 1304.91h0M165.34 1319.64h0" stroke="#2b952b" stroke-opacity="0.8" stroke-width="2.7" stroke-linecap="round" fill="none"/>
<path d="M167.88 1306.43h0M166.02 1340.7h0M165.19 1325.27h0M161.68 1277.52h0M164.39 1300.17h0M160.34 1299.71h0M168.96 1340.4h0M162.22 1209.41h0M163.75 1286.79h0M166.07 1321.07h0M168.91 1301.27h0M163.97 1292.36h0M160.65 1081.72h0M163.7 1287.91h0M167.73 1313.44h0M167.32 1301.6h0M168.67 1336.25h0M160.69 1320.48h0M161.1 1308.44h0M167.94 1327.23h0M163.24 1320.14h0M161.83 1317.32h0M161.95 1329.48h0M165.17 1299.04h0M161.1 1321.49h0" stroke="#2b952b" stroke-opacity="0.8" stroke-width="2.7" stroke-linecap="round" fill="none"/>
<path d="M160.3 1321.91h0M166.11 1210.22h0M164.86 1321.4h0M168.28 1296.66h0M164.18 1213.94h0M163.61 1325.4h0M165.32 1335.01h0M167.86 1319.47h0M168.08 1294.08h0M168.74 1307.78h0M161.94 1218.14h0M166.35 1011.83h0M168.51 1312.33h0M164.72 1326.59h0M163.58 1292.77h0M161.79 1287.1h0M166.59 1207.5h0M163.25 1339.57h0M162.75 1333.08h0M159.96 1323.66h0M162.48 1280.76h0M168.58 1326.61h0M165.16 1310.78h0M161.94 1318.85h0M165.72 1286.65h0" stroke="#2b952b" stroke-opacity="0.8" stroke-width="2.7" stroke-linecap="round" fill="none"/>
<path d="M161.48 1303.59h0M160.96 924.47h0M160.7 1303.1h0M162.06 1334.96h0M166.22 1334.08h0M163.98 1308.27h0M164.62 1329.38h0M164.39 1312.9h0M161.08 1327.91h0M167.32 1267.14h0M162.95 1313.58h0M163.23 1324.52h0M167.21 1311.12h0M163.82 1329.4h0M167.23 1339.05h0M163.6 1342.23h0M163.98 1341.92h0M160.47 1314.4h0M168.79 1342.23h0M166.7 1306.17h0M168.5 1289.34h0M165.04 1300.58h0M160.69 1331.84h0M166.98 1338.21h0M160.66 1320.59h0" stroke="#2b952b" stroke-opacity="0.8" stroke-width="2.7" stroke-linecap="round" fill="none"/>
<path d="M167.83 1284.34h0M166.42 1284.04h0M164.66 1343.26h0M160.24 1331.21h0M167.54 1311.35h0M161.85 1338.6h0M161.73 1331.58h0M165.08 1318.78h0M165.87 1208.52h0M161.27 1314.45h0M164.31 1205.52h0M160.53 1220.18h0M167.18 1212.59h0M163.73 1211.7h0M164.5 1212.07h0M162.85 1219.45h0M164.68 1202.09h0M165.28 1218.33h0M164.48 1204.73h0M164.91 1215.7h0M161.58 1221.59h0M163.67 1207.56h0M164.68 1217.79h0M161.47 1200.51h0M164.39 1150.32h0" stroke="#2b952b" stroke-opacity="0.8" stroke-width="2.7" stroke-linecap="round" fill="none"/>
<path d="M163.9 1152.56h0M161.73 1157.31h0M168.14 1162.24h0M162.48 1162.76h0" stroke="#2b952b" stroke-opacity="0.8" stroke-width="2.7" stroke-linecap="round" fill="none"/>
<path d="M164.55 909.5h0M162.01 954h0M164.2 993h0M165.51 1037h0M166.04 1161h0M166.83 1172h0M162.08 1207h0" stroke="#333" stroke-opacity="0.85" stroke-width="2.6" stroke-linecap="round" fill="none"/>
<line x1="164.5" y1="1266.3" x2="164.5" y2="1302" stroke="#3a3a3a" stroke-width="1.4"/>
<line x1="164.5" y1="1332.3" x2="164.5" y2="1343.6" stroke="#3a3a3a" stroke-width="1.4"/>
<rect x="157.7" y="1302" width="13.6" height="30.3" fill="none" stroke="#3a3a3a" stroke-width="1.5"/>
<line x1="157.7" y1="1316.6" x2="171.3" y2="1316.6" stroke="#2d2d2d" stroke-width="2.4"/>
<path d="M164.5 1291.1 L170.4 1297 L164.5 1302.9 L158.6 1297 Z" fill="none" stroke="#111" stroke-width="1.6" stroke-linejoin="miter"/>
<text x="180.8" y="1254.6" font-size="34" text-anchor="middle" fill="#000">D</text>
<text x="167.2" y="1376.4" font-size="31.8" text-anchor="middle" fill="#2e9c2e">(160)</text>
<path d="M266 920.7 L266.03 941.12 L266.08 970.12 L266.14 1004.1 L266.2 1039.47 L266.25 1072.63 L266.3 1100 L266.34 1121.78 L266.37 1140.87 L266.41 1157.77 L266.44 1172.94 L266.47 1186.86 L266.5 1200 L266.52 1212.23 L266.52 1223.15 L266.52 1232.81 L266.54 1241.3 L266.59 1248.67 L266.7 1255 L266.82 1259.81 L266.94 1262.96 L267.09 1265 L267.32 1266.48 L267.67 1267.96 L268.2 1270 L268.94 1272.5 L269.87 1275 L270.92 1277.5 L272.03 1280 L273.15 1282.5 L274.2 1285 L275.2 1287.5 L276.2 1290 L277.2 1292.5 L278.2 1295 L279.2 1297.5 L280.2 1300 L281.24 1302.59 L282.34 1305.27 L283.44 1307.96 L284.48 1310.55 L285.42 1312.93 L286.2 1315 L286.81 1316.7 L287.3 1318.09 L287.67 1319.28 L287.97 1320.36 L288.2 1321.43 L288.4 1322.6 L288.59 1323.84 L288.76 1325.07 L288.86 1326.3 L288.87 1327.53 L288.73 1328.76 L288.4 1330 L287.84 1331.3 L287.08 1332.68 L286.17 1334.06 L285.19 1335.38 L284.17 1336.58 L283.2 1337.6 L282.18 1338.44 L281.04 1339.14 L279.88 1339.72 L278.79 1340.2 L277.86 1340.59 L277.2 1340.9 L253.8 1340.9 L253.14 1340.59 L252.21 1340.2 L251.12 1339.72 L249.96 1339.14 L248.82 1338.44 L247.8 1337.6 L246.83 1336.58 L245.81 1335.38 L244.83 1334.06 L243.92 1332.68 L243.16 1331.3 L242.6 1330 L242.27 1328.76 L242.13 1327.53 L242.14 1326.3 L242.24 1325.07 L242.41 1323.84 L242.6 1322.6 L242.8 1321.43 L243.03 1320.36 L243.33 1319.28 L243.7 1318.09 L244.19 1316.7 L244.8 1315 L245.58 1312.93 L246.52 1310.55 L247.56 1307.96 L248.66 1305.27 L249.76 1302.59 L250.8 1300 L251.8 1297.5 L252.8 1295 L253.8 1292.5 L254.8 1290 L255.8 1287.5 L256.8 1285 L257.85 1282.5 L258.97 1280 L260.08 1277.5 L261.13 1275 L262.06 1272.5 L262.8 1270 L263.33 1267.96 L263.68 1266.48 L263.91 1265 L264.06 1262.96 L264.18 1259.81 L264.3 1255 L264.41 1248.67 L264.46 1241.3 L264.48 1232.81 L264.48 1223.15 L264.48 1212.23 L264.5 1200 L264.53 1186.86 L264.56 1172.94 L264.59 1157.77 L264.63 1140.87 L264.66 1121.78 L264.7 1100 L264.75 1072.63 L264.8 1039.47 L264.86 1004.1 L264.92 970.12 L264.97 941.12 L265 920.7 Z" fill="#ebbda1" stroke="#cc5a14" stroke-width="2" stroke-linejoin="round"/>
<rect x="258.55" y="1281.6" width="13.9" height="44.7" fill="#cf7638" fill-opacity="1"/>
<path d="M269.61 1340.87h0M263.03 1295.8h0M263.88 1086.53h0M268.89 1018.15h0M261.51 1321.52h0M262.73 1314.31h0M266.56 1328.39h0M268.32 1333.28h0M265.67 1193.92h0M262.49 1280.27h0M264.52 1312.22h0M265.39 1310.74h0M269 1267.12h0M269.68 1332.35h0M268.44 1305.16h0M268.81 1311.4h0M265.53 1303.31h0M268.75 1308.33h0M269.99 1223.86h0M261.1 1319.29h0M263.02 1304.14h0M269.71 1309.31h0M264.08 1297.31h0M264.88 1194.49h0M267.21 1332.33h0" stroke="#c4550f" stroke-opacity="0.8" stroke-width="2.7" stroke-linecap="round" fill="none"/>
<path d="M265.34 1282.26h0M269.42 1333.76h0M264.35 1298.7h0M270.06 1206.61h0M267.51 1293.6h0M263.55 1290.7h0M262.07 1317.63h0M267.77 1308.45h0M269.39 1310.26h0M266.1 1317.65h0M269.04 1323.12h0M268.98 1334.51h0M265.13 1337.15h0M262.91 1305.75h0M268.11 1325.22h0M261.65 1336.92h0M262.56 1275.77h0M262.5 1323.03h0M266.09 1301.17h0M266.12 1298.8h0M261.55 1340.63h0M264.22 1311.98h0M261.77 1319.2h0M269.54 1310.35h0M262.82 1337.4h0" stroke="#c4550f" stroke-opacity="0.8" stroke-width="2.7" stroke-linecap="round" fill="none"/>
<path d="M269.15 1307.84h0M263.72 1172.77h0M269.74 1291.42h0M266.71 1305.36h0M266.21 1334.26h0M265.61 1310.9h0M263.07 1325.71h0M262.13 1327.86h0M269.25 1321.68h0M269.63 1317.81h0M268.45 1337.25h0M262.19 1328.1h0M268.88 1319.34h0M267.95 1335.41h0M264.91 1323.05h0M267.35 1323.28h0M263.69 1333.89h0M269.78 1328.2h0M268.46 1320.62h0M265.6 1278.18h0M260.98 1333.91h0M269.11 1321.26h0M266.95 1321.91h0M261.12 1309.7h0M267.37 1338.11h0" stroke="#c4550f" stroke-opacity="0.8" stroke-width="2.7" stroke-linecap="round" fill="none"/>
<path d="M269 1282.93h0M264.5 1316.43h0M269.78 1319.32h0M269.86 1325.98h0M268.21 1265.64h0M261.34 1279.44h0M265.82 1284.19h0M265.45 1311.45h0M264.11 1317.79h0M262.89 1297.37h0M268.75 1282.62h0M267.64 1320.75h0M269.77 1315.63h0M263.99 1309.87h0M268.49 1316.23h0M265.13 1304.14h0M268.31 1322.31h0M262.72 1330.33h0M262.41 1319.17h0M264.38 1307.02h0M263.84 1332.98h0M263.58 1330.93h0M267.69 1322.47h0M263.28 1329.77h0M265.09 1303.05h0" stroke="#c4550f" stroke-opacity="0.8" stroke-width="2.7" stroke-linecap="round" fill="none"/>
<path d="M263.63 1292.5h0M267.56 1334.06h0M261.45 1298.82h0M265.97 1320.49h0M262.73 1304.87h0M269.45 1292.27h0M262.83 1296.53h0M266.88 1312.94h0M269.6 1296.4h0M269.07 1324.34h0M267.88 1301.55h0M264.51 1316.73h0M262.46 1305.51h0M264.71 1291.18h0M268.42 1310.37h0M265.49 1333.34h0M265.15 1314.84h0M266.09 1322.18h0M264.87 1305.05h0M263.52 1288.84h0M264.24 1334.61h0M263.53 1317.23h0M267.99 1327.15h0M269.95 1325.56h0M261.12 1325.98h0" stroke="#c4550f" stroke-opacity="0.8" stroke-width="2.7" stroke-linecap="round" fill="none"/>
<path d="M267.26 1300.66h0M263.53 1330.41h0M261.75 1332h0M265.94 1315.94h0M269.74 1336.29h0M268.11 1305.67h0M268.14 1314.57h0M264.68 1322.22h0M267.4 1307.72h0M269.87 1299.68h0M262.18 1317.01h0M269.75 1329.17h0M269.66 1339.34h0M267.52 1294.06h0M269.35 1325h0M269.89 1300.84h0M262.62 1312.38h0M269.62 1327.71h0M265.45 1309.93h0M264.65 1308.84h0M261.17 1151.61h0M267.65 1317.24h0M265.35 1337.95h0M266.79 1321.95h0M262.8 1325.13h0" stroke="#c4550f" stroke-opacity="0.8" stroke-width="2.7" stroke-linecap="round" fill="none"/>
<path d="M261.2 1333.46h0M268.27 1305.69h0M266.76 1315.83h0M264.21 1334.36h0M268.08 1280.67h0M262.18 1319.83h0M267.9 1330.88h0M265.61 1021.93h0M266.81 1329.39h0M268.76 1330.39h0M264.94 1306.32h0M267.93 996.93h0M265.8 1305.78h0M261.85 1291.44h0M268.35 1330.44h0M265.67 1315.95h0M265.11 1315.9h0M263.34 1331.71h0M264.24 1314.46h0M265.63 1327.3h0M263.69 1267.81h0M268 1292.09h0M269.12 1316.61h0M262.56 1307.31h0M265.77 1278.28h0" stroke="#c4550f" stroke-opacity="0.8" stroke-width="2.7" stroke-linecap="round" fill="none"/>
<path d="M263.29 1328.41h0M262.12 1322.43h0M267.48 1312.57h0M264.26 1327.58h0M265.67 1287.77h0M267.62 1285.76h0M270.04 1292.32h0M266.05 1297.93h0M265.2 1332.38h0M267.99 1313.87h0M269.31 1315.73h0M261.15 1317.91h0M264.85 1339.34h0M266.26 1308.07h0M262.1 1321.57h0M262.62 1271.81h0M264.48 1337.18h0M267.72 1313.95h0M261.51 1311.53h0M269.5 1311.7h0M262.49 1310.69h0M261.05 1297.68h0M261.35 1307.87h0M267.42 1316.38h0M267.44 1302.47h0" stroke="#c4550f" stroke-opacity="0.8" stroke-width="2.7" stroke-linecap="round" fill="none"/>
<path d="M264.96 1329.45h0M268.54 1332.52h0M267.87 1337.02h0M266.53 1328.76h0M264.4 1331.09h0M263.86 1155.12h0M265.04 1300.36h0M262.88 1307.51h0M266.52 1283.56h0M269.98 1191.4h0M265.03 1327.31h0M262.97 1331.93h0M264.13 1332.9h0M263.34 1327.8h0M265.91 1326.77h0M268.5 1329.91h0M263.42 1332.14h0M266.81 1313.16h0M264.59 1272.27h0M263.55 1312.87h0M268.66 1193.95h0M263.51 1325.12h0M266.66 1322.22h0M265.68 1321.43h0M269.11 1279.22h0" stroke="#c4550f" stroke-opacity="0.8" stroke-width="2.7" stroke-linecap="round" fill="none"/>
<path d="M268.88 1325.4h0M269.6 1333.06h0M266.34 1334.71h0M269.2 1289.16h0M263.84 1300.9h0M264.15 1309.53h0M261.98 1324.17h0M262.75 1334.22h0M263.83 1304.7h0M269.68 1318.25h0M262.55 1308.82h0M267.72 1329.62h0M263.87 1318.5h0M262.52 1330.53h0M268.17 1302.23h0M266.29 1311.37h0M263.04 1078.2h0M270.07 1328.13h0M268.39 1331.17h0M266.55 1301.23h0M266.19 1319.99h0M261.05 1281.34h0M269.78 1314.94h0M261.57 1334.62h0M261.93 1319.04h0" stroke="#c4550f" stroke-opacity="0.8" stroke-width="2.7" stroke-linecap="round" fill="none"/>
<path d="M262.47 1307.53h0M262.36 1308.51h0M269.69 1235.69h0M262.02 1307.07h0M263.85 1291.62h0M262.55 1291.93h0M264.81 1201.72h0M262.02 1303.7h0M267.32 1301.01h0M267.98 1302.64h0M268.05 1287.43h0M265.29 1330.3h0M264.88 1328.01h0M265.08 1305.92h0M265.91 1326.47h0M262.53 1321.53h0M261.17 1308.95h0M267.37 1328.92h0M261.74 1124.56h0M266.36 1305.66h0M268.1 1294.33h0M269.53 1325.43h0M261.36 1340.81h0M266.51 1313.45h0M262.9 1320.53h0" stroke="#c4550f" stroke-opacity="0.8" stroke-width="2.7" stroke-linecap="round" fill="none"/>
<path d="M262.68 1300.82h0M265.57 1323.26h0M262.17 1306.52h0M267.29 1288.23h0M262.68 1236.32h0M263.17 1338.83h0M265.74 1289.21h0M261.34 1324.39h0M267.72 1315.84h0M269.78 1332.58h0M267.36 1287.72h0M267.68 1306.67h0M261.25 1287.87h0M265.03 1319.3h0M269.71 1307.45h0M263.6 1289.04h0M266.26 1308.13h0M268.69 1321h0M262.59 1331.54h0M263.25 1330.35h0M268.03 1338.68h0M264.83 1315.2h0M269.6 1325.35h0M261.23 1333.17h0M261.42 1332.38h0" stroke="#c4550f" stroke-opacity="0.8" stroke-width="2.7" stroke-linecap="round" fill="none"/>
<path d="M263.91 1298.07h0M268.67 1331.05h0M263.52 1307.15h0M266.43 1333.79h0M265.25 1277.25h0M264.93 1294.8h0M264.03 1281.1h0M264.97 1295.16h0M263.02 1320.17h0M263.39 988.6h0M263.96 1293.84h0M266.57 1336.06h0M263.62 1307.58h0M261.1 1297.01h0M263.36 1310.48h0M261.07 1311.77h0M265.06 1317.62h0M261.88 1317.83h0M264.19 1325h0M261.93 1318.35h0M269.04 1331.85h0M268.04 1298.76h0M269.94 1296.75h0M266.92 1323.17h0M266.85 1142.25h0" stroke="#c4550f" stroke-opacity="0.8" stroke-width="2.7" stroke-linecap="round" fill="none"/>
<path d="M267.99 1254.36h0M267.91 1145.53h0M261.49 1231.55h0M269.72 1242.14h0M261.07 1233.2h0M261.87 1161.33h0M264.59 1237.64h0M264.09 1170.31h0M267.73 1183.52h0M264.35 1143.5h0M263.45 1247.08h0M261.04 1210.72h0M263.56 1231.18h0M263.14 1204.25h0M266.9 1274.51h0M262.17 1208.13h0M266.58 1133.3h0M262.14 1163.83h0M264.7 1130.47h0M262.87 1198.81h0M268.21 1279.28h0M269.15 1144.97h0M261.76 1217.7h0M265.68 1149.42h0M265.56 1274.12h0" stroke="#c4550f" stroke-opacity="0.8" stroke-width="2.7" stroke-linecap="round" fill="none"/>
<path d="M265.31 1198.93h0M263.97 1226.76h0M269.74 1220.96h0M264.08 1237.51h0M265.84 1224.05h0M264.61 1144.86h0M267.9 1178.06h0M261.5 1186.86h0M262.89 1240.16h0M261.11 1259.18h0M266.31 1145.94h0M267.64 1192.87h0M266.38 1175.78h0M262.29 1181.83h0M266.32 1282.51h0M267.02 1208h0M267.78 1246.86h0M264.4 1137.15h0M268.95 1152.67h0M262.44 1177.48h0M267.32 1195.77h0M264.71 1154.41h0M268.05 1244.29h0M266.68 1269.08h0M261.24 1256.83h0" stroke="#c4550f" stroke-opacity="0.8" stroke-width="2.7" stroke-linecap="round" fill="none"/>
<path d="M268.04 1203.98h0M264.4 1282.52h0M268.17 1277.09h0M261.25 1245.32h0M263.42 1135.44h0M268.45 1268.06h0M268.14 1214.12h0M266.14 1144.48h0M267.01 1174.01h0M268.44 1142.66h0M262.69 1171.05h0M265.79 1178.24h0M264.39 1206.34h0M262.28 1212.95h0M261.08 1197.23h0M266.42 1211.34h0M261.06 1210.98h0M269.23 1187.85h0M263.37 1258.38h0M268.64 1112.27h0M265.18 1059.52h0M261.97 1096.78h0M262.29 1099.32h0M262.18 1080.07h0M266.86 1098.15h0" stroke="#c4550f" stroke-opacity="0.8" stroke-width="2.7" stroke-linecap="round" fill="none"/>
<path d="M263.77 1092.96h0M269.15 1108.59h0M265.05 1043.63h0M261.67 1057.99h0M261.16 1100.89h0M266.7 1044.18h0" stroke="#c4550f" stroke-opacity="0.8" stroke-width="2.7" stroke-linecap="round" fill="none"/>
<path d="M267.83 920.7h0M265.3 959h0M267.5 1010h0M263.96 1037h0M266.34 1073h0M267.68 1084h0M266.46 1111h0M264.4 1128h0M267.68 1150h0M264.61 1175h0M264.97 1190h0" stroke="#333" stroke-opacity="0.85" stroke-width="2.6" stroke-linecap="round" fill="none"/>
<line x1="265.5" y1="1219.8" x2="265.5" y2="1281.6" stroke="#3a3a3a" stroke-width="1.4"/>
<line x1="265.5" y1="1326.3" x2="265.5" y2="1340.9" stroke="#3a3a3a" stroke-width="1.4"/>
<rect x="258.55" y="1281.6" width="13.9" height="44.7" fill="none" stroke="#3a3a3a" stroke-width="1.5"/>
<line x1="258.55" y1="1310.3" x2="272.45" y2="1310.3" stroke="#2d2d2d" stroke-width="2.4"/>
<path d="M265.5 1280.7 L271.4 1286.6 L265.5 1292.5 L259.6 1286.6 Z" fill="none" stroke="#111" stroke-width="1.6" stroke-linejoin="miter"/>
<text x="284.2" y="1164.1" font-size="34" text-anchor="middle" fill="#000">C</text>
<text x="267.1" y="1376.4" font-size="31.8" text-anchor="middle" fill="#c8581a">(324)</text>
<path d="M372.3 1257.5 L372.37 1259.05 L372.4 1261.2 L372.48 1263.75 L372.64 1266.46 L372.96 1269.12 L373.5 1271.5 L374.3 1273.62 L375.31 1275.65 L376.48 1277.62 L377.74 1279.57 L379.03 1281.52 L380.3 1283.5 L381.63 1285.52 L383.09 1287.58 L384.57 1289.63 L386 1291.66 L387.28 1293.62 L388.3 1295.5 L389.11 1297.29 L389.8 1299.03 L390.33 1300.7 L390.67 1302.32 L390.8 1303.88 L390.7 1305.4 L390.33 1306.82 L389.71 1308.13 L388.88 1309.39 L387.87 1310.66 L386.73 1311.97 L385.5 1313.4 L384.06 1314.93 L382.37 1316.51 L380.55 1318.15 L378.71 1319.84 L376.99 1321.59 L375.5 1323.4 L374.22 1325.32 L373.05 1327.37 L372 1329.48 L371.05 1331.56 L370.22 1333.56 L369.5 1335.4 L368.92 1337.15 L368.48 1338.9 L368.15 1340.55 L367.91 1342.04 L367.72 1343.28 L367.55 1344.2 L366.65 1344.2 L366.48 1343.28 L366.29 1342.04 L366.05 1340.55 L365.72 1338.9 L365.28 1337.15 L364.7 1335.4 L363.98 1333.56 L363.15 1331.56 L362.2 1329.48 L361.15 1327.37 L359.98 1325.32 L358.7 1323.4 L357.21 1321.59 L355.49 1319.84 L353.65 1318.15 L351.83 1316.51 L350.14 1314.93 L348.7 1313.4 L347.47 1311.97 L346.33 1310.66 L345.32 1309.39 L344.49 1308.13 L343.87 1306.82 L343.5 1305.4 L343.4 1303.88 L343.53 1302.32 L343.88 1300.7 L344.4 1299.03 L345.09 1297.29 L345.9 1295.5 L346.92 1293.62 L348.2 1291.66 L349.63 1289.63 L351.11 1287.58 L352.57 1285.52 L353.9 1283.5 L355.17 1281.52 L356.46 1279.57 L357.73 1277.62 L358.89 1275.65 L359.9 1273.62 L360.7 1271.5 L361.24 1269.12 L361.56 1266.46 L361.73 1263.75 L361.8 1261.2 L361.83 1259.05 L361.9 1257.5 Z" fill="#d7ebfe" stroke="#9ccefc" stroke-width="2" stroke-linejoin="round"/>
<rect x="360.35" y="1284.3" width="13.5" height="28.3" fill="#a7d3fb" fill-opacity="1"/>
<path d="M370.6 1300.17h0M365.5 1298.26h0M367.5 1332.25h0M366.12 1299.89h0M368.64 1271.67h0M365.28 1306.58h0M370.88 1290.6h0M367.63 1304.91h0M367.2 1286.68h0M365.83 1315.48h0M371.44 1315.8h0M364.26 1306.16h0M369.88 1287.93h0M363.53 1280.01h0M370.99 1314.38h0M365.08 1315.36h0M364.08 1265.8h0M365.32 1262.12h0M363.83 1301.77h0M367.67 1297.08h0M368.11 1258.98h0M370.3 1310.46h0M368.45 1300.65h0M363.42 1266.46h0M365.54 1270.52h0" stroke="#8cc2f4" stroke-opacity="0.8" stroke-width="2.7" stroke-linecap="round" fill="none"/>
<path d="M366.98 1301.91h0M363.11 1283.38h0M362.88 1293.8h0M364.63 1320.19h0M363.41 1288.4h0M365.17 1289.18h0M370.23 1283.47h0M367.8 1262.58h0M366.84 1307.18h0M362.6 1314.87h0M366.27 1293.97h0" stroke="#8cc2f4" stroke-opacity="0.8" stroke-width="2.7" stroke-linecap="round" fill="none"/>
<line x1="367.1" y1="1257.5" x2="367.1" y2="1284.3" stroke="#3a3a3a" stroke-width="1.4"/>
<line x1="367.1" y1="1312.6" x2="367.1" y2="1344.2" stroke="#3a3a3a" stroke-width="1.4"/>
<rect x="360.35" y="1284.3" width="13.5" height="28.3" fill="none" stroke="#3a3a3a" stroke-width="1.5"/>
<line x1="360.35" y1="1299.4" x2="373.85" y2="1299.4" stroke="#2d2d2d" stroke-width="2.4"/>
<path d="M367.1 1292.3 L373 1298.2 L367.1 1304.1 L361.2 1298.2 Z" fill="none" stroke="#111" stroke-width="1.6" stroke-linejoin="miter"/>
<text x="368.5" y="1241.5" font-size="34" text-anchor="middle" fill="#000">CD</text>
<text x="365.9" y="1376.4" font-size="31.8" text-anchor="middle" fill="#9ccbf6">(36)</text>
<path d="M480.8 1088.5 L480.85 1092.03 L480.9 1097.01 L480.98 1102.86 L481.07 1108.98 L481.21 1114.79 L481.4 1119.7 L481.65 1123.67 L481.95 1127.17 L482.29 1130.35 L482.65 1133.38 L483.03 1136.41 L483.4 1139.6 L483.78 1142.93 L484.19 1146.26 L484.6 1149.59 L485.01 1152.93 L485.42 1156.27 L485.8 1159.6 L486.16 1162.93 L486.51 1166.27 L486.85 1169.6 L487.18 1172.93 L487.49 1176.27 L487.8 1179.6 L488.12 1182.93 L488.45 1186.27 L488.78 1189.61 L489.06 1192.94 L489.28 1196.27 L489.4 1199.6 L489.41 1202.92 L489.33 1206.24 L489.18 1209.55 L488.99 1212.86 L488.78 1216.18 L488.6 1219.5 L488.4 1222.83 L488.17 1226.16 L487.93 1229.49 L487.7 1232.83 L487.51 1236.17 L487.4 1239.5 L487.35 1242.83 L487.33 1246.17 L487.35 1249.5 L487.43 1252.83 L487.58 1256.17 L487.8 1259.5 L488.11 1262.83 L488.51 1266.17 L488.98 1269.51 L489.49 1272.84 L490.04 1276.17 L490.6 1279.5 L491.27 1282.82 L492.07 1286.14 L492.9 1289.45 L493.67 1292.76 L494.27 1296.08 L494.6 1299.4 L494.66 1302.78 L494.53 1306.24 L494.23 1309.69 L493.79 1313.09 L493.23 1316.34 L492.6 1319.4 L491.76 1322.39 L490.67 1325.39 L489.48 1328.25 L488.3 1330.84 L487.3 1333 L486.6 1334.6 L470.6 1334.6 L469.9 1333 L468.9 1330.84 L467.73 1328.25 L466.53 1325.39 L465.44 1322.39 L464.6 1319.4 L463.97 1316.34 L463.41 1313.09 L462.98 1309.69 L462.67 1306.24 L462.54 1302.78 L462.6 1299.4 L462.93 1296.08 L463.53 1292.76 L464.3 1289.45 L465.13 1286.14 L465.93 1282.82 L466.6 1279.5 L467.16 1276.17 L467.71 1272.84 L468.22 1269.51 L468.69 1266.17 L469.09 1262.83 L469.4 1259.5 L469.62 1256.17 L469.77 1252.83 L469.85 1249.5 L469.87 1246.17 L469.85 1242.83 L469.8 1239.5 L469.69 1236.17 L469.5 1232.83 L469.27 1229.49 L469.03 1226.16 L468.8 1222.83 L468.6 1219.5 L468.42 1216.18 L468.21 1212.86 L468.03 1209.55 L467.87 1206.24 L467.79 1202.92 L467.8 1199.6 L467.92 1196.27 L468.14 1192.94 L468.43 1189.61 L468.75 1186.27 L469.08 1182.93 L469.4 1179.6 L469.71 1176.27 L470.02 1172.93 L470.35 1169.6 L470.69 1166.27 L471.04 1162.93 L471.4 1159.6 L471.78 1156.27 L472.19 1152.93 L472.6 1149.59 L473.01 1146.26 L473.42 1142.93 L473.8 1139.6 L474.17 1136.41 L474.55 1133.38 L474.91 1130.35 L475.25 1127.17 L475.55 1123.67 L475.8 1119.7 L475.99 1114.79 L476.13 1108.98 L476.22 1102.86 L476.3 1097.01 L476.35 1092.03 L476.4 1088.5 Z" fill="#f4cd98" stroke="#f5991f" stroke-width="2" stroke-linejoin="round"/>
<rect x="474.2" y="1193.6" width="8.8" height="110.6" fill="#f5a032" fill-opacity="1"/>
<path d="M477.71 1310.97h0M481.91 1214.31h0M482.24 1128.16h0M481.4 1282.56h0M475.78 1216.99h0M479.53 1263.34h0M475.13 1277.22h0M475.44 1308.39h0M474.37 1274.38h0M475.72 1190.07h0M478.79 1215.35h0M477.54 1308.21h0M475.74 1312h0M477.23 1309.07h0M476.79 1244.24h0M482.66 1166.81h0M477.79 1197.54h0M479.35 1202.7h0M475.93 1329.09h0M479.83 1167.41h0M476.48 1312.27h0M481.62 1294.33h0M479.54 1186.82h0M482.8 1329.74h0M479.47 1281.96h0" stroke="#ee8d12" stroke-opacity="0.8" stroke-width="2.7" stroke-linecap="round" fill="none"/>
<path d="M478.21 1164.81h0M482.58 1150.79h0M477.67 1211.85h0M476.03 1165.22h0M477.6 1196.56h0M479.61 1214.7h0M475.36 1191.67h0M474.06 1135.11h0M483.06 1223.21h0M478.96 1146.12h0M479.31 1329.85h0M477.14 1331.53h0M480.42 1288.72h0M481.65 1295.92h0M481.75 1176.89h0M479.12 1273.75h0M481.15 1288.89h0M481 1176.25h0M479.96 1104.7h0M482.39 1170.82h0M479.51 1326.99h0M477.85 1179.2h0M479.59 1312.85h0M477.91 1173.06h0M479.49 1312.34h0" stroke="#ee8d12" stroke-opacity="0.8" stroke-width="2.7" stroke-linecap="round" fill="none"/>
<path d="M483.14 1264.17h0M476.97 1291.85h0M479.02 1183.07h0M478.3 1238.84h0M480.38 1136.38h0M477.12 1280.69h0M480.1 1292.13h0M483.07 1220.06h0M479.85 1201.25h0M480.24 1194.26h0M477.57 1316.67h0M478.95 1295.11h0M475.9 1303.76h0M478 1196.48h0M477.28 1253.02h0M482.35 1096.82h0M481.57 1287.46h0M479.6 1282.08h0M479.46 1193.02h0M478.41 1239.95h0M477.2 1238.99h0M477.35 1202.38h0M479.63 1315.59h0M482.74 1329.14h0M478.11 1164.38h0" stroke="#ee8d12" stroke-opacity="0.8" stroke-width="2.7" stroke-linecap="round" fill="none"/>
<path d="M477.47 1201.02h0M482.42 1318.2h0M474.49 1162.1h0M482.8 1097.17h0M481.52 1154.39h0M480.46 1276.41h0M482.94 1241.31h0M476.56 1284.13h0M480.04 1193.12h0M479.82 1298.28h0M478.18 1204.05h0M478.66 1251.32h0M475.42 1157.09h0M476.09 1283.87h0M481.21 1261.32h0M481.08 1215.72h0M475.33 1265.52h0M482.45 1223.61h0M480.38 1205.7h0M474.98 1219.36h0M474.95 1202.82h0M481.64 1306h0M474.68 1205.22h0M474.13 1327.12h0M480.08 1301.59h0" stroke="#ee8d12" stroke-opacity="0.8" stroke-width="2.7" stroke-linecap="round" fill="none"/>
<path d="M479.37 1142.63h0M481.58 1261.99h0M474.33 1304.35h0M474.72 1334.12h0M478.73 1224.69h0M480.44 1307.22h0M479.97 1259.5h0M477.09 1219.88h0M480.76 1204.02h0M480.72 1238.31h0M479.02 1270.22h0M481.53 1112.21h0M475.39 1302.36h0M474.08 1198.71h0M482.52 1190.54h0M479.67 1292.98h0M474.24 1267.09h0M478.91 1264.8h0M477.8 1183.65h0M480.65 1292.43h0M479.44 1250.62h0M476.63 1121.52h0M476.49 1218.67h0M475.78 1273.32h0M481.6 1203.52h0" stroke="#ee8d12" stroke-opacity="0.8" stroke-width="2.7" stroke-linecap="round" fill="none"/>
<path d="M474.72 1324.59h0" stroke="#ee8d12" stroke-opacity="0.8" stroke-width="2.7" stroke-linecap="round" fill="none"/>
<line x1="478.6" y1="1088.5" x2="478.6" y2="1193.6" stroke="#3a3a3a" stroke-width="1.4"/>
<line x1="478.6" y1="1304.2" x2="478.6" y2="1334.6" stroke="#3a3a3a" stroke-width="1.4"/>
<rect x="474.2" y="1193.6" width="8.8" height="110.6" fill="none" stroke="#3a3a3a" stroke-width="1.5"/>
<line x1="474.2" y1="1251.5" x2="483" y2="1251.5" stroke="#2d2d2d" stroke-width="2.4"/>
<path d="M478.6 1238.4 L484.5 1244.3 L478.6 1250.2 L472.7 1244.3 Z" fill="none" stroke="#111" stroke-width="1.6" stroke-linejoin="miter"/>
<text x="479.4" y="1078.5" font-size="34" text-anchor="middle" fill="#000">B</text>
<text x="473" y="1376.4" font-size="31.8" text-anchor="middle" fill="#ec7424">(126)</text>
<path d="M547.7 1020.6 L547.62 1022.68 L547.49 1025.55 L547.35 1028.96 L547.24 1032.64 L547.21 1036.34 L547.3 1039.8 L547.53 1043.08 L547.88 1046.38 L548.3 1049.7 L548.77 1053.03 L549.24 1056.37 L549.7 1059.7 L550.13 1063.03 L550.56 1066.36 L551 1069.69 L551.46 1073.03 L551.96 1076.37 L552.5 1079.7 L553.11 1083.03 L553.79 1086.37 L554.5 1089.7 L555.21 1093.03 L555.89 1096.37 L556.5 1099.7 L557.05 1103.03 L557.58 1106.37 L558.08 1109.71 L558.53 1113.04 L558.94 1116.37 L559.3 1119.7 L559.6 1123.02 L559.83 1126.34 L560.02 1129.65 L560.19 1132.96 L560.34 1136.28 L560.5 1139.6 L560.66 1142.93 L560.81 1146.26 L560.95 1149.59 L561.08 1152.93 L561.19 1156.27 L561.3 1159.6 L561.39 1162.93 L561.45 1166.27 L561.5 1169.6 L561.55 1172.93 L561.61 1176.27 L561.7 1179.6 L561.82 1182.93 L561.97 1186.27 L562.12 1189.61 L562.28 1192.94 L562.41 1196.27 L562.5 1199.6 L562.57 1202.92 L562.63 1206.24 L562.67 1209.55 L562.68 1212.86 L562.62 1216.18 L562.5 1219.5 L562.31 1222.87 L562.06 1226.31 L561.75 1229.74 L561.39 1233.13 L560.97 1236.4 L560.5 1239.5 L559.96 1242.43 L559.36 1245.23 L558.7 1247.92 L558 1250.52 L557.26 1253.04 L556.5 1255.5 L555.64 1258.01 L554.66 1260.6 L553.65 1263.1 L552.69 1265.38 L551.88 1267.3 L551.3 1268.7 L541.7 1268.7 L541.12 1267.3 L540.31 1265.38 L539.35 1263.1 L538.34 1260.6 L537.36 1258.01 L536.5 1255.5 L535.74 1253.04 L535 1250.52 L534.3 1247.92 L533.64 1245.23 L533.04 1242.43 L532.5 1239.5 L532.03 1236.4 L531.61 1233.13 L531.25 1229.74 L530.94 1226.31 L530.69 1222.87 L530.5 1219.5 L530.38 1216.18 L530.32 1212.86 L530.33 1209.55 L530.37 1206.24 L530.43 1202.92 L530.5 1199.6 L530.59 1196.27 L530.72 1192.94 L530.88 1189.61 L531.03 1186.27 L531.18 1182.93 L531.3 1179.6 L531.39 1176.27 L531.45 1172.93 L531.5 1169.6 L531.55 1166.27 L531.61 1162.93 L531.7 1159.6 L531.81 1156.27 L531.92 1152.93 L532.05 1149.59 L532.19 1146.26 L532.34 1142.93 L532.5 1139.6 L532.66 1136.28 L532.81 1132.96 L532.98 1129.65 L533.17 1126.34 L533.4 1123.02 L533.7 1119.7 L534.06 1116.37 L534.47 1113.04 L534.92 1109.71 L535.42 1106.37 L535.95 1103.03 L536.5 1099.7 L537.11 1096.37 L537.79 1093.03 L538.5 1089.7 L539.21 1086.37 L539.89 1083.03 L540.5 1079.7 L541.04 1076.37 L541.54 1073.03 L542 1069.69 L542.44 1066.36 L542.87 1063.03 L543.3 1059.7 L543.76 1056.37 L544.23 1053.03 L544.7 1049.7 L545.12 1046.38 L545.47 1043.08 L545.7 1039.8 L545.79 1036.34 L545.76 1032.64 L545.65 1028.96 L545.51 1025.55 L545.38 1022.68 L545.3 1020.6 Z" fill="#afc2f3" stroke="#4a72e6" stroke-width="2" stroke-linejoin="round"/>
<rect x="542.1" y="1129.7" width="8.8" height="87.8" fill="#6486e6" fill-opacity="1"/>
<path d="M547.87 1195.18h0M550.45 1056.05h0M546.62 1106.96h0M545.07 1256.16h0M546.65 1125.61h0M547.13 1147.33h0M543.01 1163.21h0M543.46 1156.19h0M544.32 1066.35h0M550.08 1201.51h0M550.36 1181.17h0M545.55 1159.78h0M545.58 1194.07h0M550.43 1131.69h0M549.66 1136.64h0M549.28 1204.14h0M542.87 1207.08h0M543.83 1247.88h0M544.82 1155.99h0M545.48 1085.83h0M550.72 1071.04h0M549.5 1141.54h0M546.43 1139.13h0M550.78 1173.44h0M549.34 1133.69h0" stroke="#3f66dc" stroke-opacity="0.8" stroke-width="2.7" stroke-linecap="round" fill="none"/>
<path d="M548.22 1181.68h0M549.08 1106.05h0M548.92 1163.24h0M546.55 1070.88h0M546.84 1245.36h0M550.47 1229.95h0M544.1 1247.02h0M546.5 1200.57h0M545.29 1176h0M543.24 1143.1h0M547.61 1203.91h0M546.81 1267.83h0M543.64 1156.7h0M550.51 1215.52h0M548.49 1102.91h0M550.95 1215.99h0M545.08 1192.28h0M548.24 1255.59h0M544.21 1144.12h0M549.02 1170.05h0M543.74 1193.3h0M547.89 1223.34h0M544.42 1189.34h0M550.5 1239.35h0M543.45 1258.87h0" stroke="#3f66dc" stroke-opacity="0.8" stroke-width="2.7" stroke-linecap="round" fill="none"/>
<path d="M549.06 1192.55h0M550.5 1212.44h0M546.33 1193.59h0M549.38 1109.15h0M548.2 1108.55h0M548.96 1164.58h0M550.52 1211.56h0M544.01 1167.9h0M543.75 1176.74h0M547.48 1178.96h0M549.71 1113.14h0M545.91 1237.69h0M545.79 1118.48h0M547.06 1121.8h0M549.99 1113.43h0M547.17 1244.85h0M543.4 1088.23h0M544.02 1258.65h0M544.53 1236.27h0M549.56 1164.35h0M543.78 1084.39h0M546.61 1156.34h0M546.64 1237.14h0M547.18 1138.66h0M550.72 1135.23h0" stroke="#3f66dc" stroke-opacity="0.8" stroke-width="2.7" stroke-linecap="round" fill="none"/>
<path d="M550.16 1131.72h0M543 1109.13h0M545.83 1196.69h0M543.41 1230.27h0M542.65 1233.3h0M549.34 1189.64h0M548.93 1126.45h0M548.93 1107.2h0M550.86 1243.24h0M543.49 1182.09h0M549.02 1183.32h0M544.43 1247.69h0M543.68 1194.89h0M545.4 1093.95h0M546.73 1211.8h0M545.41 1097.68h0M550.31 1138.84h0M547.67 1132.55h0M543.08 1157.43h0M547.43 1177.79h0M544.9 1162.88h0M550.65 1145.55h0M549.77 1135.96h0M550.02 1246.06h0M544.95 1243.67h0" stroke="#3f66dc" stroke-opacity="0.8" stroke-width="2.7" stroke-linecap="round" fill="none"/>
<path d="M547.97 1154.62h0M548.31 1237.79h0M551.04 1255.77h0M549.59 1165.82h0M546.29 1209.38h0M544.15 1203.26h0M550.3 1132.45h0M548.37 1179.01h0M550.78 1181.05h0M549.32 1070.44h0M546.66 1111.61h0M544.83 1104.42h0M542.27 1114.44h0M543.31 1217.86h0" stroke="#3f66dc" stroke-opacity="0.8" stroke-width="2.7" stroke-linecap="round" fill="none"/>
<line x1="546.5" y1="1020.6" x2="546.5" y2="1129.7" stroke="#3a3a3a" stroke-width="1.4"/>
<line x1="546.5" y1="1217.5" x2="546.5" y2="1268.7" stroke="#3a3a3a" stroke-width="1.4"/>
<rect x="542.1" y="1129.7" width="8.8" height="87.8" fill="none" stroke="#3a3a3a" stroke-width="1.5"/>
<line x1="542.1" y1="1171.6" x2="550.9" y2="1171.6" stroke="#2d2d2d" stroke-width="2.4"/>
<path d="M546.5 1165.7 L552.4 1171.6 L546.5 1177.5 L540.6 1171.6 Z" fill="none" stroke="#111" stroke-width="1.6" stroke-linejoin="miter"/>
<text x="548.3" y="1007" font-size="34" text-anchor="middle" fill="#000">A</text>
<text x="555.7" y="1376.4" font-size="31.8" text-anchor="middle" fill="#3a68c8">(114)</text>
<rect x="89.2" y="838.3" width="507.4" height="557.3" fill="none" stroke="#1e1e1e" stroke-width="2"/>
<rect x="88.8" y="768.5" width="508.5" height="69.8" fill="#d9d9d9" stroke="#3c3c3c" stroke-width="1.6"/>
<line x1="88.8" y1="838.3" x2="597.3" y2="838.3" stroke="#333333" stroke-width="2.1"/>
<text x="342.55" y="819.7" font-size="40" text-anchor="middle" fill="#000" xml:space="preserve"><tspan>Al</tspan><tspan font-size="25" dy="9">o</tspan><tspan dy="-9"> (mg g</tspan><tspan font-size="28" dy="-10.2">−</tspan><tspan font-size="26" dy="-2.4">1</tspan><tspan dy="12.6">)</tspan></text>
<line x1="82.6" y1="1345.4" x2="89.2" y2="1345.4" stroke="#4a4a4a" stroke-width="1.6"/>
<text x="70.4" y="1359.8" font-size="40" text-anchor="end" fill="#000">0</text>
<line x1="82.6" y1="1207.8" x2="89.2" y2="1207.8" stroke="#4a4a4a" stroke-width="1.6"/>
<text x="70.4" y="1222.2" font-size="40" text-anchor="end" fill="#000">5</text>
<line x1="82.6" y1="1070.2" x2="89.2" y2="1070.2" stroke="#4a4a4a" stroke-width="1.6"/>
<text x="70.4" y="1084.6" font-size="40" text-anchor="end" fill="#000">10</text>
<line x1="82.6" y1="932.6" x2="89.2" y2="932.6" stroke="#4a4a4a" stroke-width="1.6"/>
<text x="70.4" y="947" font-size="40" text-anchor="end" fill="#000">15</text>
<text x="27.2" y="823.2" font-size="46" font-weight="bold" fill="#000">d</text>
<rect x="785.8" y="839.8" width="508.5" height="557.4" fill="#ffffff"/>
<rect x="1123.9" y="839.8" width="170.4" height="557.4" fill="#f3f7fb"/>
<line x1="1123.9" y1="839.8" x2="1123.9" y2="1397.2" stroke="#8a8a8a" stroke-width="1.5"/>
<path d="M862.4 1268.7 L862.42 1269.95 L862.44 1271.69 L862.47 1273.74 L862.5 1275.95 L862.55 1278.16 L862.6 1280.2 L862.65 1282.11 L862.7 1284.01 L862.76 1285.91 L862.84 1287.8 L862.95 1289.7 L863.1 1291.6 L863.28 1293.55 L863.49 1295.57 L863.72 1297.58 L863.99 1299.53 L864.32 1301.36 L864.7 1303 L865.15 1304.44 L865.66 1305.72 L866.21 1306.88 L866.81 1307.94 L867.44 1308.94 L868.1 1309.9 L868.78 1310.77 L869.5 1311.52 L870.26 1312.21 L871.04 1312.89 L871.86 1313.63 L872.7 1314.5 L873.6 1315.5 L874.56 1316.6 L875.55 1317.76 L876.54 1318.94 L877.5 1320.14 L878.4 1321.3 L879.27 1322.47 L880.13 1323.68 L880.96 1324.89 L881.73 1326.07 L882.42 1327.18 L883 1328.2 L883.46 1329.1 L883.83 1329.91 L884.12 1330.65 L884.33 1331.36 L884.49 1332.07 L884.6 1332.8 L884.68 1333.55 L884.74 1334.3 L884.73 1335.05 L884.64 1335.8 L884.44 1336.55 L884.1 1337.3 L883.6 1338.06 L882.96 1338.83 L882.21 1339.59 L881.38 1340.36 L880.5 1341.13 L879.6 1341.9 L878.58 1342.72 L877.4 1343.6 L876.17 1344.49 L875 1345.31 L874.01 1346 L873.3 1346.5 L849.9 1346.5 L849.19 1346 L848.2 1345.31 L847.03 1344.49 L845.8 1343.6 L844.62 1342.72 L843.6 1341.9 L842.7 1341.13 L841.82 1340.36 L840.99 1339.59 L840.24 1338.83 L839.6 1338.06 L839.1 1337.3 L838.76 1336.55 L838.56 1335.8 L838.47 1335.05 L838.46 1334.3 L838.52 1333.55 L838.6 1332.8 L838.71 1332.07 L838.87 1331.36 L839.08 1330.65 L839.37 1329.91 L839.74 1329.1 L840.2 1328.2 L840.78 1327.18 L841.47 1326.07 L842.24 1324.89 L843.07 1323.68 L843.93 1322.47 L844.8 1321.3 L845.7 1320.14 L846.66 1318.94 L847.65 1317.76 L848.64 1316.6 L849.6 1315.5 L850.5 1314.5 L851.34 1313.63 L852.16 1312.89 L852.94 1312.21 L853.7 1311.52 L854.42 1310.77 L855.1 1309.9 L855.76 1308.94 L856.39 1307.94 L856.99 1306.88 L857.54 1305.72 L858.05 1304.44 L858.5 1303 L858.88 1301.36 L859.21 1299.53 L859.48 1297.58 L859.71 1295.57 L859.92 1293.55 L860.1 1291.6 L860.25 1289.7 L860.36 1287.8 L860.44 1285.91 L860.5 1284.01 L860.55 1282.11 L860.6 1280.2 L860.65 1278.16 L860.7 1275.95 L860.73 1273.74 L860.76 1271.69 L860.78 1269.95 L860.8 1268.7 Z" fill="#aed9ae" stroke="#34a034" stroke-width="2" stroke-linejoin="round"/>
<rect x="855" y="1322.2" width="13.2" height="18.4" fill="#5aad5a" fill-opacity="1"/>
<path d="M864.05 1325.96h0M860.13 1332.34h0M861.12 1332.89h0M864.21 1326.54h0M865.21 1337.04h0M865.6 1330.99h0M857.4 1323.57h0M858.87 1338.94h0M857.25 1342.19h0M862.97 1317.52h0M862.68 1339.27h0M862.88 1331.59h0M864.14 1344.3h0M864.22 1314.58h0M866.12 1325.14h0M861.59 1323.8h0M859.89 1330.77h0M859.99 1333.09h0M858.57 1329.28h0M864.71 1331.57h0M860.57 1315.02h0M865.87 1335.14h0M861.51 1317h0M862.78 1324.38h0M858.9 1334.2h0" stroke="#2b952b" stroke-opacity="0.8" stroke-width="2.7" stroke-linecap="round" fill="none"/>
<path d="M861.03 1345.76h0M857.11 1315.08h0M861.03 1343.71h0M860.65 1340.63h0M863.24 1337.71h0M863.38 1329.09h0M861.3 1326.36h0M861.86 1324.95h0M865.92 1320.26h0M860.24 1321.97h0M862.92 1345.01h0M858.27 1329.8h0M863.6 1318.61h0M865.57 1322.56h0M861.2 1331.62h0M862.61 1315.16h0M863.16 1338.09h0M859.74 1332.95h0M862.04 1346.36h0M861.96 1314.32h0M859.33 1338.17h0M859.71 1337.83h0M858.04 1326.82h0M864.41 1309.15h0M861.69 1326.7h0" stroke="#2b952b" stroke-opacity="0.8" stroke-width="2.7" stroke-linecap="round" fill="none"/>
<path d="M861.64 1300.53h0M859.36 1325.19h0M865.31 1301.21h0M863.5 1328.02h0M863.32 1336.66h0M862.4 1342.63h0M857.66 1318.28h0M861.05 1338.52h0M859.72 1324.54h0M858.03 1329.06h0M865.14 1318.22h0M857.42 1335.3h0M861.82 1340.17h0M862.07 1329.69h0M864.82 1339.66h0M861.44 1321.04h0M859.69 1327.74h0M857.77 1285.1h0M861.06 1343.79h0M865.27 1330.9h0M859.45 1316.7h0M860.28 1339.68h0M859.95 1320.47h0M865.37 1312.45h0M865.93 1311.82h0" stroke="#2b952b" stroke-opacity="0.8" stroke-width="2.7" stroke-linecap="round" fill="none"/>
<path d="M863.36 1310.37h0M860.34 1321.93h0M859.9 1318.62h0M865.99 1336.02h0M862.71 1327.96h0M861.81 1321.29h0M860.08 1329.26h0M859.37 1303.57h0M860.14 1344.53h0M858.81 1323.25h0M862.96 1333.95h0M862.4 1303.13h0M864.57 1328.18h0M860.42 1330.56h0M857.73 1324.57h0M860.79 1343.43h0M857.83 1333.55h0M859.83 1321.87h0M863.37 1329.14h0M858.72 1339.98h0M858.52 1317.89h0M864.55 1346.24h0M862.03 1309.7h0M858.93 1327.05h0M857.03 1327.99h0" stroke="#2b952b" stroke-opacity="0.8" stroke-width="2.7" stroke-linecap="round" fill="none"/>
<path d="M860.07 1331.66h0M862.88 1343.64h0M858.45 1324.72h0M859.29 1345.83h0M859.38 1315.14h0M864.99 1333.75h0M865.7 1311.2h0M864.91 1342.93h0M864.35 1312.19h0M860.81 1314.11h0M861.96 1336h0M863.96 1326.38h0M859.96 1320.42h0M862.03 1334.33h0M859.91 1337.03h0M865.52 1338.65h0M865.96 1330.57h0M857.25 1324.77h0M865.19 1344.06h0M866.03 1319h0M857.54 1314.73h0M864.56 1324.56h0M865.82 1331.07h0M864.26 1321.49h0M858.57 1314.86h0" stroke="#2b952b" stroke-opacity="0.8" stroke-width="2.7" stroke-linecap="round" fill="none"/>
<path d="M859.55 1336.03h0M860.52 1322.65h0M863.27 1331.44h0M863.11 1314.76h0M863.93 1325.18h0M858.42 1339.53h0M858.24 1340.61h0M862.58 1346h0M857.06 1337.39h0M860.74 1332.6h0M859.99 1294.55h0M864.52 1338.69h0M861.03 1332.92h0M864.81 1328.71h0M862.6 1334.9h0M861.03 1304.33h0M865.52 1312.53h0M859.57 1328.81h0M864.41 1341.31h0M865.78 1335.33h0M865.28 1336.47h0M860.44 1305.58h0M857.65 1335.07h0M861.42 1328.96h0M860.09 1334.46h0" stroke="#2b952b" stroke-opacity="0.8" stroke-width="2.7" stroke-linecap="round" fill="none"/>
<path d="M862.38 1312.35h0M860.48 1322.72h0M864.47 1330.75h0M861.37 1331.25h0M865.39 1340.13h0M859.85 1327.66h0M864.72 1335.82h0M859.02 1312.25h0M858.17 1283.55h0M864.48 1285.21h0M857.09 1294.64h0M857.06 1296.82h0M862.98 1281.99h0M860.23 1278.34h0M860.6 1285.38h0M866.06 1277.24h0M864.61 1296.54h0M862.84 1296.89h0M862.75 1296.14h0M858.07 1282.34h0M863.8 1297.76h0M858.88 1288.57h0M861.41 1278h0" stroke="#2b952b" stroke-opacity="0.8" stroke-width="2.7" stroke-linecap="round" fill="none"/>
<line x1="861.6" y1="1295.5" x2="861.6" y2="1322.2" stroke="#3a3a3a" stroke-width="1.4"/>
<line x1="861.6" y1="1340.6" x2="861.6" y2="1346.6" stroke="#3a3a3a" stroke-width="1.4"/>
<rect x="855" y="1322.2" width="13.2" height="18.4" fill="none" stroke="#3a3a3a" stroke-width="1.5"/>
<line x1="855" y1="1334" x2="868.2" y2="1334" stroke="#2d2d2d" stroke-width="2.4"/>
<path d="M861.6 1321.5 L867.5 1327.4 L861.6 1333.3 L855.7 1327.4 Z" fill="none" stroke="#111" stroke-width="1.6" stroke-linejoin="miter"/>
<text x="862.4" y="1254.3" font-size="34" text-anchor="middle" fill="#000">E</text>
<text x="860.6" y="1381" font-size="31.8" text-anchor="middle" fill="#2e9c2e">(158)</text>
<path d="M962.9 1060.6 L962.92 1070.25 L962.94 1083.54 L962.97 1099.31 L963.01 1116.41 L963.05 1133.69 L963.1 1150 L963.16 1166.59 L963.22 1184.61 L963.29 1202.83 L963.37 1219.95 L963.44 1234.73 L963.5 1245.9 L963.54 1252.69 L963.56 1255.96 L963.57 1256.88 L963.61 1256.63 L963.68 1256.38 L963.8 1257.3 L963.99 1259.2 L964.24 1261.1 L964.52 1262.99 L964.82 1264.89 L965.12 1266.79 L965.4 1268.7 L965.66 1270.61 L965.93 1272.53 L966.19 1274.45 L966.45 1276.37 L966.72 1278.29 L967 1280.2 L967.28 1282.11 L967.55 1284.01 L967.83 1285.91 L968.13 1287.8 L968.45 1289.7 L968.8 1291.6 L969.17 1293.5 L969.54 1295.4 L969.93 1297.29 L970.37 1299.19 L970.89 1301.09 L971.5 1303 L972.23 1304.91 L973.06 1306.83 L973.96 1308.75 L974.91 1310.67 L975.86 1312.59 L976.8 1314.5 L977.76 1316.46 L978.78 1318.47 L979.81 1320.49 L980.8 1322.44 L981.71 1324.26 L982.5 1325.9 L983.17 1327.34 L983.77 1328.62 L984.29 1329.78 L984.72 1330.84 L985.06 1331.84 L985.3 1332.8 L985.44 1333.69 L985.49 1334.47 L985.44 1335.19 L985.3 1335.88 L985.09 1336.57 L984.8 1337.3 L984.39 1338.07 L983.84 1338.86 L983.21 1339.65 L982.56 1340.43 L981.94 1341.18 L981.4 1341.9 L980.93 1342.61 L980.47 1343.34 L980.04 1344.04 L979.66 1344.67 L979.34 1345.21 L979.1 1345.6 L945.5 1345.6 L945.26 1345.21 L944.94 1344.67 L944.56 1344.04 L944.13 1343.34 L943.67 1342.61 L943.2 1341.9 L942.66 1341.18 L942.04 1340.43 L941.39 1339.65 L940.76 1338.86 L940.21 1338.07 L939.8 1337.3 L939.51 1336.57 L939.3 1335.88 L939.16 1335.19 L939.11 1334.47 L939.16 1333.69 L939.3 1332.8 L939.54 1331.84 L939.88 1330.84 L940.31 1329.78 L940.83 1328.62 L941.43 1327.34 L942.1 1325.9 L942.89 1324.26 L943.8 1322.44 L944.79 1320.49 L945.82 1318.47 L946.84 1316.46 L947.8 1314.5 L948.74 1312.59 L949.69 1310.67 L950.64 1308.75 L951.54 1306.83 L952.37 1304.91 L953.1 1303 L953.71 1301.09 L954.23 1299.19 L954.67 1297.29 L955.06 1295.4 L955.43 1293.5 L955.8 1291.6 L956.15 1289.7 L956.47 1287.8 L956.77 1285.91 L957.05 1284.01 L957.32 1282.11 L957.6 1280.2 L957.88 1278.29 L958.15 1276.37 L958.41 1274.45 L958.67 1272.53 L958.94 1270.61 L959.2 1268.7 L959.48 1266.79 L959.78 1264.89 L960.08 1262.99 L960.36 1261.1 L960.61 1259.2 L960.8 1257.3 L960.92 1256.38 L960.99 1256.63 L961.02 1256.88 L961.04 1255.96 L961.06 1252.69 L961.1 1245.9 L961.16 1234.73 L961.23 1219.95 L961.31 1202.83 L961.38 1184.61 L961.44 1166.59 L961.5 1150 L961.55 1133.69 L961.59 1116.41 L961.62 1099.31 L961.66 1083.54 L961.68 1070.25 L961.7 1060.6 Z" fill="#ebbda1" stroke="#cc5a14" stroke-width="2" stroke-linejoin="round"/>
<rect x="955.5" y="1303.4" width="13.6" height="36" fill="#cf7638" fill-opacity="1"/>
<path d="M966.7 1323.39h0M965.07 1333.1h0M965.26 1241.54h0M965.08 1331.4h0M958.7 1316.33h0M960.11 1289.34h0M958.12 1309.81h0M959.4 1286.77h0M961.74 1333.09h0M965.83 1336.95h0M963.24 1344.19h0M961.04 1322.18h0M959.81 1327.88h0M964.57 1313.34h0M963.59 1326.6h0M960.95 1325.63h0M961.93 1326.14h0M965.35 1330.51h0M962.57 1332.81h0M961.46 1330.58h0M959.93 1304.03h0M959.87 1309.96h0M963.43 1333.5h0M958.65 1331.54h0M962.43 1312.61h0" stroke="#c4550f" stroke-opacity="0.8" stroke-width="2.7" stroke-linecap="round" fill="none"/>
<path d="M961.96 1292.24h0M959.11 1287.99h0M961.74 1326.56h0M961.6 1345.12h0M966.64 1301.03h0M961.08 1328.96h0M962.93 1327.66h0M961.49 1312.39h0M958.54 1308.14h0M963.07 1274.54h0M958 1343.02h0M962.95 1333.81h0M964.67 1330.68h0M965.06 1329.49h0M966.34 1330.98h0M958.14 1312.1h0M959.42 1312.01h0M962.81 1326.88h0M962.06 1339.29h0M961.21 1327.03h0M964.8 1291.98h0M960.06 1288.52h0M961.56 1321.66h0M963.51 1345.53h0M965.62 1267.38h0" stroke="#c4550f" stroke-opacity="0.8" stroke-width="2.7" stroke-linecap="round" fill="none"/>
<path d="M965.32 1326.53h0M965.67 1335.87h0M963.19 1330.07h0M961.67 1297.13h0M962.75 1302.28h0M964.62 1300.75h0M960.38 1061.26h0M966.26 1343.19h0M959.71 1338.61h0M959.15 1313.86h0M963.33 1304.22h0M960.21 1258.22h0M965.33 1252.35h0M966.65 1340.92h0M964.95 1320.18h0M963.14 1324.58h0M966.86 1321.63h0M962.15 1326.37h0M960.81 1315.43h0M958.28 1343.24h0M962.33 1326.11h0M962.93 1318.38h0M965.52 1328.03h0M962.53 1323.45h0M960.97 1335.96h0" stroke="#c4550f" stroke-opacity="0.8" stroke-width="2.7" stroke-linecap="round" fill="none"/>
<path d="M962.36 1323.18h0M959.35 1330.21h0M965.05 1333.44h0M958.3 1315.28h0M962.24 1333.47h0M965 1304.84h0M962.85 1311.96h0M958.42 1284.69h0M958.92 1278.91h0M961.16 1313.74h0M962.72 1286.1h0M960.48 1162.44h0M962.96 1326.41h0M966.81 1328.06h0M965.55 1315.66h0M962.95 1317.16h0M964.93 1336.73h0M960.11 1294.49h0M958.45 1335.58h0M961.37 1334.87h0M965.04 1338.96h0M964.86 1336.02h0M958.64 1316.08h0M962 1337.9h0M958.87 1337.28h0" stroke="#c4550f" stroke-opacity="0.8" stroke-width="2.7" stroke-linecap="round" fill="none"/>
<path d="M963.25 1343.45h0M964.74 1322.72h0M959.7 1308.5h0M960.95 1295.6h0M961.92 1317.96h0M964.01 1324.33h0M959.91 1292.2h0M965.96 1302.14h0M963.02 1332.15h0M957.85 1303.66h0M966.14 1341.98h0M958.45 1288.16h0M961.26 1322.31h0M958.58 1281.1h0M959.63 1255.47h0M959.2 1329.95h0M965.13 1337.71h0M959.33 1338.46h0M966.13 1320.4h0M963.55 1303.22h0M966.73 1328.39h0M962.28 1325.63h0M962.15 1260.7h0M962.88 1321.55h0M966.33 1331.96h0" stroke="#c4550f" stroke-opacity="0.8" stroke-width="2.7" stroke-linecap="round" fill="none"/>
<path d="M959.03 1286.27h0M958.24 1332.41h0M960.81 1325.2h0M959.94 1305.5h0M960.86 1344.91h0M958 1341.65h0M966.31 1340.6h0M960.16 1334.36h0M959.83 1319.59h0M963.95 1320.19h0M961.35 1328.95h0M965.76 1300.86h0M961.87 1306.68h0M965.27 1330.71h0M958.19 1298.29h0M964.63 1258.53h0M960.72 1320.02h0M963.63 1325.11h0M964.24 1327.08h0M960.7 1335.99h0M962.37 1334.23h0M965.86 1312.04h0M962.65 1344.74h0M958.32 1317.29h0M960.14 1308.97h0" stroke="#c4550f" stroke-opacity="0.8" stroke-width="2.7" stroke-linecap="round" fill="none"/>
<path d="M965.66 1294.29h0M962.42 1309.2h0M962.24 1275.89h0M964.56 1343.94h0M962.68 1298.19h0M959.33 1327.19h0M961.79 1324.8h0M961.83 1326.18h0M959.28 1328.37h0M963.17 1268.96h0M962.36 1340.93h0M957.85 1337.75h0M960.63 1330.94h0M964.27 1305.2h0M960.14 1329.05h0M965.29 1322.11h0M959.21 1308.03h0M959.05 1327.26h0M959.78 1337.82h0M966.02 1339.39h0M965.13 1340.32h0M960.35 1340.84h0M961.83 1331.54h0M966.77 1221.42h0M963.79 1344.4h0" stroke="#c4550f" stroke-opacity="0.8" stroke-width="2.7" stroke-linecap="round" fill="none"/>
<path d="M957.98 1305.66h0M958.24 1331.33h0M962.8 1310.21h0M960.97 1333.99h0M959.5 1312.19h0M964.89 1310.1h0M961.59 1319.21h0M965.51 1341.85h0M959.92 1327.24h0M965.66 1341.71h0M961.05 1326h0M961.85 1258.62h0M963.24 1343.56h0M959.3 1327.96h0M964.87 1338.07h0M960.05 1335.68h0M962.05 1332.66h0M965.55 1333.34h0M963.17 1334.74h0M963.83 1316.15h0M961.19 1300.99h0M965.6 1304.06h0M966.09 1336.39h0M963.57 1279.4h0M958.09 1154.31h0" stroke="#c4550f" stroke-opacity="0.8" stroke-width="2.7" stroke-linecap="round" fill="none"/>
<path d="M962.5 1307.64h0M960.8 1328.7h0M958.66 1329.19h0M958.04 1316.11h0M965.97 1287.58h0M961.28 1342.31h0M961.28 1322.88h0M961.63 1306.09h0M966.3 1310.46h0M962.35 1340.89h0M964.58 1337.86h0M958.42 1316.63h0M959.3 1327.55h0M958.14 1327.82h0M963.73 1321.25h0M965.2 1315.18h0M958.43 1342h0M962.49 1332.18h0M958.09 1308.56h0M965.6 1313.19h0M959.89 1329.81h0M963.95 1337.57h0M958.73 1341.72h0M964.49 1234.56h0M964.91 1301.01h0" stroke="#c4550f" stroke-opacity="0.8" stroke-width="2.7" stroke-linecap="round" fill="none"/>
<path d="M960.36 1339.76h0M965.85 1335h0M960.39 1324.67h0M963.14 1322.74h0M964.73 1331.92h0M958.27 1329.21h0M965.08 1318.37h0M962.27 1332.65h0M964.84 1311.83h0M962.68 1343.7h0M959.85 1279.18h0M966.43 1311.15h0M965.46 1272.52h0M961.54 1331.37h0M960.16 1335.84h0M958.97 1325.38h0M958.01 1321.43h0M962.49 1278.24h0M962.49 1332.31h0M963.7 1307.7h0M964.52 1280.58h0M963.07 1308.66h0M962.17 1326.01h0M964.58 1329.22h0M958.52 1343.66h0" stroke="#c4550f" stroke-opacity="0.8" stroke-width="2.7" stroke-linecap="round" fill="none"/>
<path d="M961.68 1298.54h0M958.6 1134.36h0M966.62 1316.81h0M958.69 1327.81h0M964.97 1301.09h0M964.19 1305.51h0M964.29 1338.02h0M965.77 1330.47h0M959.81 1333.99h0M963.16 1332.31h0M961.31 1322.13h0M957.75 1330.13h0M962.07 1335.71h0M959.94 1295.74h0M961.39 1319.62h0M965.77 1312.43h0M960.01 1317.7h0M962.56 1326.61h0M964.46 1235.26h0M964.38 1342.54h0M964.16 1329.63h0M963.42 1296.75h0M961.59 1313.81h0M966.4 1317.96h0M966.45 1322.16h0" stroke="#c4550f" stroke-opacity="0.8" stroke-width="2.7" stroke-linecap="round" fill="none"/>
<path d="M963.8 1296.38h0M958.07 1338.68h0M960.42 1335.52h0M959.36 1303.13h0M957.8 1290.79h0M960.84 1259.21h0M965.92 1279.5h0M966.43 1332.15h0M963.74 1339.46h0M964.84 1279.35h0M957.79 1279.19h0M964.9 1332.8h0M959.75 1319.56h0M963.7 1330.47h0M965.67 1326.99h0M961.78 1268.85h0M966.76 1280.14h0M959.89 1309.85h0M962.38 1289.97h0M964.82 1308.89h0M961.3 1292.74h0M965.04 1338.13h0M960.92 1320.71h0M961.7 1262.72h0M960.07 1266.48h0" stroke="#c4550f" stroke-opacity="0.8" stroke-width="2.7" stroke-linecap="round" fill="none"/>
<path d="M964.95 1334.05h0M962.61 1316.49h0M964.49 1344.72h0M965.26 1302.81h0M960.52 1333.36h0M958.3 1319.75h0M960.63 1339.89h0M964.19 1339.15h0M965.27 1307.61h0M964.91 1318.88h0M965.41 1322.91h0M965.76 1263.52h0M962.08 1318.64h0M962.95 1340.82h0M961.08 1322.86h0M962.1 1311.2h0M958.49 1259h0M962.06 1308.96h0M959.32 1259.6h0M962.78 1330.76h0M964.03 1205.55h0M965.27 1255.01h0M960.77 1323.75h0M962.52 1332.24h0M964.66 1318.95h0" stroke="#c4550f" stroke-opacity="0.8" stroke-width="2.7" stroke-linecap="round" fill="none"/>
<path d="M966.86 1300.01h0M964.13 1291.06h0M959.46 1300.58h0M963.07 1275.3h0M961.69 1285.41h0M966.22 1317.79h0M963.69 1342.3h0M962.23 1341.55h0M962.62 1344.25h0M959.64 1313.53h0M963.67 1301.41h0M962.56 1329.75h0M966.57 1312.72h0M959.37 1298.94h0M962.99 1287.51h0M960.92 1260.2h0M958.67 1323.28h0M961.04 1290.56h0M964.23 1340.21h0M962.16 1335.8h0M959.99 1339.71h0M959.15 1290.14h0M962.92 1336.77h0M961.97 1342.22h0M966.22 1322.2h0" stroke="#c4550f" stroke-opacity="0.8" stroke-width="2.7" stroke-linecap="round" fill="none"/>
<path d="M966.24 1324.23h0M963.7 1326.57h0M963.55 1327.78h0M962.55 1328.91h0M959.39 1342.59h0M958.45 1330.92h0M964.45 1339.73h0M963.58 1305.47h0M961.49 1334.03h0M965.93 1209.48h0M965.78 1175.41h0M962.47 1283.67h0M961.17 1229.29h0M961.26 1182.31h0M962.28 1218.79h0M965.03 1192.38h0M958.19 1279.54h0M958.9 1280.01h0M962.88 1233.57h0M959.26 1225.35h0M963.37 1171.41h0M964.62 1242.94h0M965.4 1226.17h0M965.97 1263.41h0M960.79 1272.85h0" stroke="#c4550f" stroke-opacity="0.8" stroke-width="2.7" stroke-linecap="round" fill="none"/>
<path d="M960.48 1219.1h0M959.72 1223.89h0M957.91 1236.08h0M959.43 1178.51h0M964.11 1237.69h0M962.56 1192.68h0M965.66 1172.48h0M958.59 1218.17h0M959.96 1218.15h0M966.14 1283.44h0M959.73 1195.28h0M960.82 1206.24h0M958.59 1252.8h0M958.61 1219.25h0M958.71 1269.86h0M960.81 1184.73h0M964.32 1196.11h0M960.28 1215.32h0M960.25 1227.58h0M959.05 1203.4h0M963.14 1223.26h0M958.66 1243.16h0M963.79 1245.58h0M961.58 1233.95h0M960.71 1277.41h0" stroke="#c4550f" stroke-opacity="0.8" stroke-width="2.7" stroke-linecap="round" fill="none"/>
<path d="M961.91 1255.81h0M964.04 1222.61h0M959.14 1216.86h0M964.31 1214.15h0M959.04 1223.01h0M964.32 1283.79h0M964.76 1191.44h0M959.94 1249.86h0M960.27 1209.78h0" stroke="#c4550f" stroke-opacity="0.8" stroke-width="2.7" stroke-linecap="round" fill="none"/>
<path d="M964.09 1059.7h0M964.69 1175h0M964.1 1182h0M963.61 1196h0M962.49 1208h0M960.91 1220h0M961.63 1228h0" stroke="#333" stroke-opacity="0.85" stroke-width="2.6" stroke-linecap="round" fill="none"/>
<line x1="962.3" y1="1247.5" x2="962.3" y2="1303.4" stroke="#3a3a3a" stroke-width="1.4"/>
<line x1="962.3" y1="1339.4" x2="962.3" y2="1346.6" stroke="#3a3a3a" stroke-width="1.4"/>
<rect x="955.5" y="1303.4" width="13.6" height="36" fill="none" stroke="#3a3a3a" stroke-width="1.5"/>
<line x1="955.5" y1="1326.6" x2="969.1" y2="1326.6" stroke="#2d2d2d" stroke-width="2.4"/>
<path d="M962.3 1309.5 L968.2 1315.4 L962.3 1321.3 L956.4 1315.4 Z" fill="none" stroke="#111" stroke-width="1.6" stroke-linejoin="miter"/>
<text x="962.7" y="1047.7" font-size="34" text-anchor="middle" fill="#000">D</text>
<text x="963.7" y="1381" font-size="31.8" text-anchor="middle" fill="#c8581a">(359)</text>
<path d="M1064.8 1114 L1064.76 1115.16 L1064.7 1116.72 L1064.64 1118.59 L1064.59 1120.69 L1064.57 1122.92 L1064.6 1125.2 L1064.68 1127.6 L1064.77 1130.2 L1064.91 1132.94 L1065.08 1135.75 L1065.31 1138.56 L1065.6 1141.3 L1065.95 1143.98 L1066.34 1146.67 L1066.79 1149.35 L1067.3 1152.03 L1067.87 1154.72 L1068.5 1157.4 L1069.21 1160.08 L1069.99 1162.77 L1070.83 1165.45 L1071.72 1168.13 L1072.65 1170.82 L1073.6 1173.5 L1074.61 1176.18 L1075.7 1178.87 L1076.83 1181.55 L1077.95 1184.23 L1079.02 1186.92 L1080 1189.6 L1080.9 1192.28 L1081.74 1194.97 L1082.54 1197.66 L1083.29 1200.34 L1083.98 1203.02 L1084.6 1205.7 L1085.19 1208.37 L1085.74 1211.04 L1086.24 1213.7 L1086.65 1216.36 L1086.94 1219.03 L1087.1 1221.7 L1087.07 1224.38 L1086.87 1227.06 L1086.56 1229.74 L1086.19 1232.43 L1085.81 1235.12 L1085.5 1237.8 L1085.21 1240.48 L1084.88 1243.17 L1084.56 1245.85 L1084.26 1248.53 L1084.03 1251.22 L1083.9 1253.9 L1083.92 1256.58 L1084.07 1259.27 L1084.29 1261.95 L1084.5 1264.63 L1084.63 1267.32 L1084.6 1270 L1084.43 1272.68 L1084.17 1275.37 L1083.84 1278.05 L1083.41 1280.73 L1082.9 1283.42 L1082.3 1286.1 L1081.57 1288.78 L1080.71 1291.47 L1079.77 1294.15 L1078.77 1296.83 L1077.77 1299.52 L1076.8 1302.2 L1075.84 1304.88 L1074.85 1307.57 L1073.86 1310.25 L1072.87 1312.93 L1071.91 1315.62 L1071 1318.3 L1070.11 1321.08 L1069.21 1323.97 L1068.34 1326.86 L1067.53 1329.63 L1066.8 1332.19 L1066.2 1334.4 L1065.73 1336.29 L1065.37 1337.96 L1065.1 1339.41 L1064.9 1340.63 L1064.74 1341.62 L1064.6 1342.4 L1063 1342.4 L1062.86 1341.62 L1062.7 1340.63 L1062.5 1339.41 L1062.23 1337.96 L1061.87 1336.29 L1061.4 1334.4 L1060.8 1332.19 L1060.07 1329.63 L1059.26 1326.86 L1058.39 1323.97 L1057.49 1321.08 L1056.6 1318.3 L1055.69 1315.62 L1054.73 1312.93 L1053.74 1310.25 L1052.75 1307.57 L1051.76 1304.88 L1050.8 1302.2 L1049.83 1299.52 L1048.83 1296.83 L1047.83 1294.15 L1046.89 1291.47 L1046.03 1288.78 L1045.3 1286.1 L1044.7 1283.42 L1044.19 1280.73 L1043.76 1278.05 L1043.43 1275.37 L1043.17 1272.68 L1043 1270 L1042.97 1267.32 L1043.1 1264.63 L1043.31 1261.95 L1043.53 1259.27 L1043.68 1256.58 L1043.7 1253.9 L1043.57 1251.22 L1043.34 1248.53 L1043.04 1245.85 L1042.72 1243.17 L1042.39 1240.48 L1042.1 1237.8 L1041.79 1235.12 L1041.41 1232.43 L1041.04 1229.74 L1040.73 1227.06 L1040.53 1224.38 L1040.5 1221.7 L1040.66 1219.03 L1040.95 1216.36 L1041.36 1213.7 L1041.86 1211.04 L1042.41 1208.37 L1043 1205.7 L1043.62 1203.02 L1044.31 1200.34 L1045.06 1197.66 L1045.86 1194.97 L1046.7 1192.28 L1047.6 1189.6 L1048.58 1186.92 L1049.65 1184.23 L1050.77 1181.55 L1051.9 1178.87 L1052.99 1176.18 L1054 1173.5 L1054.95 1170.82 L1055.88 1168.13 L1056.77 1165.45 L1057.61 1162.77 L1058.39 1160.08 L1059.1 1157.4 L1059.73 1154.72 L1060.3 1152.03 L1060.81 1149.35 L1061.26 1146.67 L1061.65 1143.98 L1062 1141.3 L1062.29 1138.56 L1062.52 1135.75 L1062.69 1132.94 L1062.83 1130.2 L1062.92 1127.6 L1063 1125.2 L1063.03 1122.92 L1063.01 1120.69 L1062.96 1118.59 L1062.9 1116.72 L1062.84 1115.16 L1062.8 1114 Z" fill="#d7ebfe" stroke="#9ccefc" stroke-width="2" stroke-linejoin="round"/>
<rect x="1056.8" y="1212.4" width="14" height="65.9" fill="#a7d3fb" fill-opacity="1"/>
<path d="M1067.93 1200.38h0M1059.58 1269.41h0M1068.15 1244.34h0M1061.3 1289.84h0M1066.64 1264.56h0M1059.55 1275.19h0M1063.51 1195.68h0M1066.64 1229.16h0M1061.8 1287.79h0M1066.4 1208.8h0M1060.73 1179.02h0M1060.44 1265.13h0M1067.43 1211.12h0M1068.38 1266.04h0M1063.6 1149.1h0M1063.09 1241.02h0M1063.7 1271.78h0M1067.99 1201.32h0M1065.35 1274.92h0M1060.76 1242.29h0M1066.48 1227.27h0M1061.07 1158.21h0M1062.61 1219.73h0M1060.47 1324.37h0M1061.71 1280.72h0" stroke="#8cc2f4" stroke-opacity="0.8" stroke-width="2.7" stroke-linecap="round" fill="none"/>
<path d="M1059.61 1280.4h0M1060.1 1191.19h0M1063.43 1194.42h0M1064.4 1268.67h0M1064.31 1238.28h0M1067.02 1255.68h0M1064.26 1273.02h0M1068.04 1216h0M1062.91 1277.89h0M1061.23 1249.64h0M1066.96 1230.19h0M1060.41 1216.49h0M1065.12 1302.75h0M1060.59 1224.29h0M1060.22 1233.12h0M1059.52 1227.9h0M1062 1224.12h0M1067.26 1197.47h0M1064.56 1263h0M1065.63 1324.56h0M1067.86 1219.06h0M1066.08 1278.95h0M1065.8 1213.15h0M1066.56 1237.17h0M1065.86 1233.54h0" stroke="#8cc2f4" stroke-opacity="0.8" stroke-width="2.7" stroke-linecap="round" fill="none"/>
<path d="M1059.46 1313.82h0M1066.57 1301.61h0M1066.86 1190.72h0M1063.06 1233.5h0M1063.84 1271.31h0M1059.5 1187.86h0M1059.97 1256.64h0M1063.63 1305.91h0M1063.09 1203.43h0M1059.81 1273.74h0M1068.12 1236.51h0M1062.51 1176.23h0M1060.04 1225.14h0M1063.67 1280.49h0M1062.8 1252.02h0M1061.23 1196.81h0M1062.96 1312.55h0M1060.23 1177.81h0M1062.37 1231.45h0M1064.18 1270.95h0M1062.99 1313.14h0M1068.4 1287.51h0M1067.29 1305.58h0M1065.23 1223.34h0M1064.53 1205.87h0" stroke="#8cc2f4" stroke-opacity="0.8" stroke-width="2.7" stroke-linecap="round" fill="none"/>
<path d="M1067.54 1233.87h0M1067.8 1251.37h0M1068.22 1234.19h0M1066.94 1288.6h0M1063.06 1252.18h0M1066.37 1240.92h0M1061.83 1147.95h0M1062.64 1170.53h0M1065.28 1265.03h0M1066.89 1245.52h0M1062.93 1196.1h0M1067.14 1261.97h0M1067.48 1209.15h0M1061.75 1277.33h0M1062.3 1293.87h0M1067.74 1239.07h0M1065.04 1170.58h0M1063.71 1245.06h0M1061.82 1217.89h0M1064.53 1231.3h0M1062.55 1229.71h0M1066.54 1166.32h0M1064.95 1262.83h0M1062.81 1181.41h0M1063.28 1278.46h0" stroke="#8cc2f4" stroke-opacity="0.8" stroke-width="2.7" stroke-linecap="round" fill="none"/>
<path d="M1063.74 1256.58h0M1065.39 1173.98h0M1065.23 1312.11h0M1066.24 1181.81h0M1067.94 1266.73h0M1063.11 1232.36h0M1059.77 1215.02h0M1062.92 1162.97h0M1062.05 1212.33h0M1061.14 1290.85h0M1062.97 1204.14h0M1059.55 1277.02h0M1062.03 1201.73h0M1062.91 1181.96h0M1061.83 1212.43h0M1061.69 1297.25h0M1060.22 1263.47h0M1060.04 1220.76h0M1060.71 1283.55h0M1061.91 1149.78h0M1062.82 1289.33h0M1063.97 1204.38h0M1059.22 1241.2h0M1060.55 1278.52h0M1064.2 1252.36h0" stroke="#8cc2f4" stroke-opacity="0.8" stroke-width="2.7" stroke-linecap="round" fill="none"/>
<path d="M1059.63 1245.22h0M1061.06 1255.66h0M1059.59 1302.34h0M1061.19 1287.6h0M1059.66 1243h0M1062.72 1258.93h0" stroke="#8cc2f4" stroke-opacity="0.8" stroke-width="2.7" stroke-linecap="round" fill="none"/>
<path d="M1063.24 1113.7h0" stroke="#333" stroke-opacity="0.85" stroke-width="2.6" stroke-linecap="round" fill="none"/>
<line x1="1063.8" y1="1131.6" x2="1063.8" y2="1212.4" stroke="#3a3a3a" stroke-width="1.4"/>
<line x1="1063.8" y1="1278.3" x2="1063.8" y2="1341.4" stroke="#3a3a3a" stroke-width="1.4"/>
<rect x="1056.8" y="1212.4" width="14" height="65.9" fill="none" stroke="#3a3a3a" stroke-width="1.5"/>
<line x1="1056.8" y1="1243.5" x2="1070.8" y2="1243.5" stroke="#2d2d2d" stroke-width="2.4"/>
<path d="M1063.8 1236.8 L1069.7 1242.7 L1063.8 1248.6 L1057.9 1242.7 Z" fill="none" stroke="#111" stroke-width="1.6" stroke-linejoin="miter"/>
<text x="1064.3" y="1090.9" font-size="34" text-anchor="middle" fill="#000">B</text>
<text x="1067.9" y="1381" font-size="31.8" text-anchor="middle" fill="#9ccbf6">(131)</text>
<path d="M1179.6 1076.3 L1179.56 1077.94 L1179.51 1080.06 L1179.44 1082.64 L1179.37 1085.67 L1179.29 1089.13 L1179.2 1093 L1179.07 1097.47 L1178.9 1102.59 L1178.72 1108.13 L1178.57 1113.89 L1178.49 1119.65 L1178.5 1125.2 L1178.63 1130.75 L1178.84 1136.53 L1179.11 1142.31 L1179.43 1147.86 L1179.77 1152.97 L1180.1 1157.4 L1180.43 1161.02 L1180.78 1163.96 L1181.15 1166.46 L1181.54 1168.73 L1181.96 1171 L1182.4 1173.5 L1182.9 1176.18 L1183.46 1178.87 L1184.04 1181.55 L1184.62 1184.23 L1185.15 1186.92 L1185.6 1189.6 L1185.96 1192.28 L1186.25 1194.97 L1186.5 1197.66 L1186.73 1200.34 L1186.95 1203.02 L1187.2 1205.7 L1187.46 1208.18 L1187.71 1210.44 L1187.96 1212.69 L1188.21 1215.17 L1188.49 1218.1 L1188.8 1221.7 L1189.15 1226.32 L1189.54 1231.83 L1189.95 1237.79 L1190.36 1243.76 L1190.75 1249.28 L1191.1 1253.9 L1191.43 1257.52 L1191.74 1260.46 L1192.04 1262.96 L1192.31 1265.23 L1192.53 1267.5 L1192.7 1270 L1192.82 1272.68 L1192.9 1275.37 L1192.94 1278.05 L1192.93 1280.73 L1192.85 1283.42 L1192.7 1286.1 L1192.46 1288.78 L1192.14 1291.47 L1191.75 1294.15 L1191.32 1296.83 L1190.86 1299.52 L1190.4 1302.2 L1189.91 1304.92 L1189.38 1307.69 L1188.82 1310.46 L1188.26 1313.18 L1187.71 1315.81 L1187.2 1318.3 L1186.7 1320.72 L1186.17 1323.1 L1185.67 1325.4 L1185.21 1327.54 L1184.85 1329.46 L1184.6 1331.1 L1184.51 1332.43 L1184.56 1333.5 L1184.69 1334.35 L1184.86 1335.02 L1185.01 1335.56 L1185.1 1336 L1169.7 1336 L1169.79 1335.56 L1169.94 1335.02 L1170.11 1334.35 L1170.24 1333.5 L1170.29 1332.43 L1170.2 1331.1 L1169.95 1329.46 L1169.59 1327.54 L1169.13 1325.4 L1168.63 1323.1 L1168.1 1320.72 L1167.6 1318.3 L1167.09 1315.81 L1166.54 1313.18 L1165.98 1310.46 L1165.42 1307.69 L1164.89 1304.92 L1164.4 1302.2 L1163.94 1299.52 L1163.48 1296.83 L1163.05 1294.15 L1162.66 1291.47 L1162.34 1288.78 L1162.1 1286.1 L1161.95 1283.42 L1161.87 1280.73 L1161.86 1278.05 L1161.9 1275.37 L1161.98 1272.68 L1162.1 1270 L1162.27 1267.5 L1162.49 1265.23 L1162.76 1262.96 L1163.06 1260.46 L1163.37 1257.52 L1163.7 1253.9 L1164.05 1249.28 L1164.44 1243.76 L1164.85 1237.79 L1165.26 1231.83 L1165.65 1226.32 L1166 1221.7 L1166.31 1218.1 L1166.59 1215.17 L1166.84 1212.69 L1167.09 1210.44 L1167.34 1208.18 L1167.6 1205.7 L1167.85 1203.02 L1168.07 1200.34 L1168.3 1197.66 L1168.55 1194.97 L1168.84 1192.28 L1169.2 1189.6 L1169.65 1186.92 L1170.18 1184.23 L1170.76 1181.55 L1171.34 1178.87 L1171.9 1176.18 L1172.4 1173.5 L1172.84 1171 L1173.26 1168.73 L1173.65 1166.46 L1174.02 1163.96 L1174.37 1161.02 L1174.7 1157.4 L1175.03 1152.97 L1175.37 1147.86 L1175.69 1142.31 L1175.96 1136.53 L1176.17 1130.75 L1176.3 1125.2 L1176.31 1119.65 L1176.23 1113.89 L1176.08 1108.13 L1175.9 1102.59 L1175.73 1097.47 L1175.6 1093 L1175.51 1089.13 L1175.43 1085.67 L1175.36 1082.64 L1175.29 1080.06 L1175.24 1077.94 L1175.2 1076.3 Z" fill="#f4cd98" stroke="#f5991f" stroke-width="2" stroke-linejoin="round"/>
<rect x="1172.8" y="1230.3" width="9.2" height="70.3" fill="#f5a032" fill-opacity="1"/>
<path d="M1180.34 1248.86h0M1177.06 1174.97h0M1180.36 1250.59h0M1177.75 1239.21h0M1179.98 1178h0M1180.45 1237.4h0M1181.3 1291.75h0M1174.27 1311.6h0M1177.09 1290.93h0M1175.9 1261.41h0M1181.37 1237.3h0M1173.46 1326.92h0M1173.26 1244.27h0M1180.45 1255.84h0M1180.91 1334.61h0M1175.15 1283.49h0M1173.92 1298.2h0M1174.73 1279.93h0M1173.52 1313.05h0M1178.33 1318.1h0M1181.93 1204.07h0M1181.05 1272.29h0M1177.51 1268.73h0M1173.22 1211.46h0M1176.24 1270.09h0" stroke="#ee8d12" stroke-opacity="0.8" stroke-width="2.7" stroke-linecap="round" fill="none"/>
<path d="M1181.1 1296.24h0M1178.37 1168.23h0M1178.03 1105.74h0M1178.82 1231.47h0M1178.4 1285.56h0M1179.24 1252.73h0M1180.17 1216.67h0M1174.38 1270.06h0M1177.6 1297.71h0M1173.15 1284.76h0M1179.1 1287.69h0M1174.62 1180.09h0M1175.47 1105.55h0M1179.23 1307.58h0M1177.72 1174.02h0M1179.78 1209.2h0M1177.13 1196.02h0M1181.18 1275.62h0M1179.94 1247.34h0M1175.88 1269.66h0M1179.1 1213.88h0M1178.37 1287.24h0M1180.86 1240.73h0M1179.85 1291.31h0M1178.76 1254.44h0" stroke="#ee8d12" stroke-opacity="0.8" stroke-width="2.7" stroke-linecap="round" fill="none"/>
<path d="M1172.85 1268.69h0M1180.75 1252.26h0M1181.5 1256.17h0M1179.79 1264.36h0M1178.99 1316.34h0M1177.25 1198.34h0M1176.11 1287.09h0M1181.4 1136.4h0M1177.54 1286.26h0M1176.21 1195.17h0M1174.65 1297.17h0M1181.53 1157.74h0M1177.8 1234.17h0M1180.39 1298.73h0M1177.37 1292.18h0M1174.39 1227.08h0M1178.73 1201.72h0M1179.89 1219.79h0M1175.15 1304.86h0M1174.9 1180.81h0M1179.46 1191.27h0M1181.63 1232.54h0M1178.26 1229.19h0M1178.58 1303.92h0M1178.07 1315.85h0" stroke="#ee8d12" stroke-opacity="0.8" stroke-width="2.7" stroke-linecap="round" fill="none"/>
<path d="M1180.29 1192.56h0M1179.94 1227.48h0M1173.51 1295.62h0M1177.79 1301.83h0M1180.72 1302.5h0M1175.17 1298.12h0M1174.9 1261.61h0M1178.63 1182.96h0M1181.68 1236.63h0M1177.04 1178.75h0M1181.26 1308.35h0M1176.49 1262.63h0M1175.26 1299.26h0M1179 1205.93h0M1181.92 1181.79h0M1177.15 1287.04h0M1178.7 1172.87h0M1180.3 1277.67h0M1180.7 1252.24h0M1177.14 1232.82h0M1180.36 1088.46h0M1180.91 1164.7h0M1176.34 1257.5h0M1178.29 1263.01h0M1181.2 1215.47h0" stroke="#ee8d12" stroke-opacity="0.8" stroke-width="2.7" stroke-linecap="round" fill="none"/>
<path d="M1174.44 1298.94h0M1175.53 1282.87h0M1179.05 1330.63h0M1180.86 1225.74h0M1175.35 1242.89h0M1173.38 1212.94h0M1176.99 1152.52h0M1178.82 1229.28h0M1174.05 1257.98h0M1175.84 1211.2h0M1176.07 1318.81h0M1177.4 1091.5h0M1178.22 1265.16h0M1180.1 1274.55h0M1179.65 1310.74h0M1180.05 1198.99h0M1178.82 1209.46h0M1176.84 1278.75h0M1178.52 1280.01h0M1175.98 1311.3h0M1175.24 1296.12h0M1178.25 1308.37h0M1176.17 1285.42h0M1181.8 1083.12h0M1172.89 1171.76h0" stroke="#ee8d12" stroke-opacity="0.8" stroke-width="2.7" stroke-linecap="round" fill="none"/>
<path d="M1174.51 1161.57h0M1174.21 1196.49h0M1181.4 1290.25h0" stroke="#ee8d12" stroke-opacity="0.8" stroke-width="2.7" stroke-linecap="round" fill="none"/>
<path d="M1179.18 1076.5h0M1179.33 1082h0M1177.29 1100h0M1178.28 1112h0" stroke="#333" stroke-opacity="0.85" stroke-width="2.6" stroke-linecap="round" fill="none"/>
<line x1="1177.4" y1="1155.6" x2="1177.4" y2="1230.3" stroke="#3a3a3a" stroke-width="1.4"/>
<line x1="1177.4" y1="1300.6" x2="1177.4" y2="1335.4" stroke="#3a3a3a" stroke-width="1.4"/>
<rect x="1172.8" y="1230.3" width="9.2" height="70.3" fill="none" stroke="#3a3a3a" stroke-width="1.5"/>
<line x1="1172.8" y1="1274.3" x2="1182" y2="1274.3" stroke="#2d2d2d" stroke-width="2.4"/>
<path d="M1177.4 1256.8 L1183.3 1262.7 L1177.4 1268.6 L1171.5 1262.7 Z" fill="none" stroke="#111" stroke-width="1.6" stroke-linejoin="miter"/>
<text x="1176.8" y="1064.5" font-size="34" text-anchor="middle" fill="#000">C</text>
<text x="1169.8" y="1381" font-size="31.8" text-anchor="middle" fill="#ec7424">(128)</text>
<path d="M1245.35 911.3 L1245.38 917.31 L1245.42 925.81 L1245.46 935.79 L1245.52 946.21 L1245.6 956.06 L1245.7 964.3 L1245.82 970.87 L1245.96 976.57 L1246.12 981.7 L1246.3 986.54 L1246.49 991.37 L1246.7 996.5 L1246.93 1001.87 L1247.17 1007.23 L1247.43 1012.6 L1247.7 1017.97 L1247.99 1023.33 L1248.3 1028.7 L1248.63 1034.07 L1248.97 1039.44 L1249.34 1044.81 L1249.71 1050.17 L1250.1 1055.54 L1250.5 1060.9 L1250.91 1066.25 L1251.34 1071.6 L1251.78 1076.95 L1252.22 1082.3 L1252.66 1087.65 L1253.1 1093 L1253.54 1098.36 L1253.98 1103.73 L1254.42 1109.09 L1254.86 1114.46 L1255.29 1119.83 L1255.7 1125.2 L1256.1 1130.57 L1256.51 1135.93 L1256.9 1141.3 L1257.27 1146.67 L1257.61 1152.03 L1257.9 1157.4 L1258.16 1162.77 L1258.4 1168.14 L1258.6 1173.51 L1258.76 1178.87 L1258.86 1184.24 L1258.9 1189.6 L1258.84 1195.14 L1258.68 1200.9 L1258.46 1206.66 L1258.23 1212.19 L1258.03 1217.28 L1257.9 1221.7 L1257.82 1225.31 L1257.77 1228.25 L1257.74 1230.75 L1257.74 1233.03 L1257.8 1235.3 L1257.9 1237.8 L1258.07 1240.48 L1258.31 1243.17 L1258.6 1245.85 L1258.91 1248.53 L1259.21 1251.22 L1259.5 1253.9 L1259.79 1256.58 L1260.09 1259.27 L1260.4 1261.95 L1260.69 1264.63 L1260.93 1267.32 L1261.1 1270 L1261.21 1272.68 L1261.28 1275.37 L1261.3 1278.05 L1261.28 1280.73 L1261.21 1283.42 L1261.1 1286.1 L1260.93 1288.78 L1260.71 1291.47 L1260.44 1294.15 L1260.14 1296.83 L1259.82 1299.52 L1259.5 1302.2 L1259.15 1304.96 L1258.77 1307.8 L1258.36 1310.65 L1257.97 1313.41 L1257.6 1315.99 L1257.3 1318.3 L1257.05 1320.4 L1256.84 1322.37 L1256.66 1324.16 L1256.51 1325.72 L1256.39 1327.02 L1256.3 1328 L1233.5 1328 L1233.41 1327.02 L1233.29 1325.72 L1233.14 1324.16 L1232.96 1322.37 L1232.75 1320.4 L1232.5 1318.3 L1232.2 1315.99 L1231.83 1313.41 L1231.44 1310.65 L1231.03 1307.8 L1230.65 1304.96 L1230.3 1302.2 L1229.98 1299.52 L1229.66 1296.83 L1229.36 1294.15 L1229.09 1291.47 L1228.87 1288.78 L1228.7 1286.1 L1228.59 1283.42 L1228.52 1280.73 L1228.5 1278.05 L1228.52 1275.37 L1228.59 1272.68 L1228.7 1270 L1228.87 1267.32 L1229.11 1264.63 L1229.4 1261.95 L1229.71 1259.27 L1230.01 1256.58 L1230.3 1253.9 L1230.59 1251.22 L1230.89 1248.53 L1231.2 1245.85 L1231.49 1243.17 L1231.73 1240.48 L1231.9 1237.8 L1232 1235.3 L1232.06 1233.03 L1232.06 1230.75 L1232.03 1228.25 L1231.98 1225.31 L1231.9 1221.7 L1231.77 1217.28 L1231.57 1212.19 L1231.34 1206.66 L1231.12 1200.9 L1230.96 1195.14 L1230.9 1189.6 L1230.94 1184.24 L1231.04 1178.87 L1231.2 1173.51 L1231.4 1168.14 L1231.64 1162.77 L1231.9 1157.4 L1232.19 1152.03 L1232.53 1146.67 L1232.9 1141.3 L1233.29 1135.93 L1233.7 1130.57 L1234.1 1125.2 L1234.51 1119.83 L1234.94 1114.46 L1235.38 1109.09 L1235.82 1103.73 L1236.26 1098.36 L1236.7 1093 L1237.14 1087.65 L1237.58 1082.3 L1238.03 1076.95 L1238.46 1071.6 L1238.89 1066.25 L1239.3 1060.9 L1239.7 1055.54 L1240.09 1050.17 L1240.46 1044.81 L1240.83 1039.44 L1241.17 1034.07 L1241.5 1028.7 L1241.81 1023.33 L1242.1 1017.97 L1242.38 1012.6 L1242.63 1007.23 L1242.88 1001.87 L1243.1 996.5 L1243.31 991.37 L1243.5 986.54 L1243.68 981.7 L1243.84 976.57 L1243.98 970.87 L1244.1 964.3 L1244.2 956.06 L1244.28 946.21 L1244.34 935.79 L1244.38 925.81 L1244.42 917.31 L1244.45 911.3 Z" fill="#afc2f3" stroke="#4a72e6" stroke-width="2" stroke-linejoin="round"/>
<rect x="1240.5" y="1158.8" width="8.8" height="133.5" fill="#6486e6" fill-opacity="1"/>
<path d="M1247.69 1262.58h0M1241.53 1208.74h0M1241.85 1070.92h0M1248.79 1150.33h0M1248.56 1301.95h0M1249.08 1255.67h0M1245.28 1191.77h0M1241.33 1229.61h0M1246.48 1305.2h0M1243.09 1253.47h0M1243.1 1045.05h0M1248.97 1219.99h0M1242.73 1151.9h0M1244.37 1225.35h0M1244.37 1041.97h0M1246.9 1116.72h0M1246.91 1220.57h0M1244.84 1280.28h0M1248.48 1303.49h0M1245.63 1249.36h0M1240.55 1186.07h0M1240.55 1277.99h0M1248.53 1244.67h0M1245.21 1308.11h0M1240.81 1161.8h0" stroke="#3f66dc" stroke-opacity="0.8" stroke-width="2.7" stroke-linecap="round" fill="none"/>
<path d="M1246.56 1212.49h0M1243.32 1115.99h0M1241.41 1282.13h0M1246.38 1291.41h0M1249.01 1235.94h0M1244.37 1281.85h0M1247.93 1185.16h0M1243.41 1106.44h0M1246.44 1326.95h0M1243.57 1306.67h0M1248.19 1260.69h0M1244.37 1212.1h0M1249.01 1299.34h0M1244.23 1063h0M1247.37 1188.02h0M1245.17 1239.65h0M1242.08 1272.81h0M1245.95 1124.48h0M1248.75 1302.57h0M1245.54 1216.61h0M1247.18 1283.05h0M1246.79 1149.36h0M1247.23 1326.48h0M1242.19 1035.95h0M1244.03 1185.93h0" stroke="#3f66dc" stroke-opacity="0.8" stroke-width="2.7" stroke-linecap="round" fill="none"/>
<path d="M1246.31 1182.33h0M1247.77 1137.55h0M1240.42 1240.48h0M1247.52 1261.69h0M1243.51 1126.89h0M1245.48 1102.83h0M1246.21 1168.65h0M1242.67 1201.56h0M1245.73 1294.81h0M1247.69 1151.89h0M1247.32 1246.51h0M1242.9 1160.69h0M1242.91 1127.61h0M1242.77 1265.78h0M1240.77 1204.75h0M1242.07 1316.26h0M1244.76 1221.33h0M1249.36 1145.48h0M1244.33 1140.72h0M1246.63 1274.49h0M1248.12 1327.87h0M1246.68 1323.2h0M1248.66 1095.24h0M1249.49 1188.02h0M1242.08 1287.95h0" stroke="#3f66dc" stroke-opacity="0.8" stroke-width="2.7" stroke-linecap="round" fill="none"/>
<path d="M1245.42 1082.44h0M1244.85 1197.87h0M1242.28 1044.08h0M1244.73 1236.43h0M1245.35 1142.82h0M1248.98 1158.51h0M1249.19 1240.71h0M1245.42 1087.34h0M1249.44 1260.23h0M1246.35 1146.18h0M1241.18 1138.07h0M1241 1215.39h0M1245.16 1257.26h0M1247.55 1234.95h0M1245.89 1143.94h0M1249.45 1188.66h0M1246.35 1070.14h0M1248.24 1220.33h0M1241.31 1192.31h0M1241.55 1164.69h0M1243.96 1184.5h0M1246.47 1161.21h0M1243.34 1085.48h0M1241.87 1207.33h0M1243.97 1292.57h0" stroke="#3f66dc" stroke-opacity="0.8" stroke-width="2.7" stroke-linecap="round" fill="none"/>
<path d="M1242.09 1134.16h0M1243.51 1093.17h0M1240.46 1202.77h0M1245.15 1146.32h0M1242.67 1267.13h0M1247 1290.23h0M1245.06 1155.4h0M1247.59 1126.56h0M1248.22 1260.5h0M1240.5 1221.87h0M1243.75 1320.93h0M1247.68 1239.05h0M1241.34 1183.43h0M1242.38 1112.72h0" stroke="#3f66dc" stroke-opacity="0.8" stroke-width="2.7" stroke-linecap="round" fill="none"/>
<line x1="1244.9" y1="985.8" x2="1244.9" y2="1158.8" stroke="#3a3a3a" stroke-width="1.4"/>
<line x1="1244.9" y1="1292.3" x2="1244.9" y2="1328.2" stroke="#3a3a3a" stroke-width="1.4"/>
<rect x="1240.5" y="1158.8" width="8.8" height="133.5" fill="none" stroke="#3a3a3a" stroke-width="1.5"/>
<line x1="1240.5" y1="1207.6" x2="1249.3" y2="1207.6" stroke="#2d2d2d" stroke-width="2.4"/>
<path d="M1244.9 1200.9 L1250.8 1206.8 L1244.9 1212.7 L1239 1206.8 Z" fill="none" stroke="#111" stroke-width="1.6" stroke-linejoin="miter"/>
<text x="1246.7" y="903.1" font-size="34" text-anchor="middle" fill="#000">A</text>
<text x="1248.9" y="1381" font-size="31.8" text-anchor="middle" fill="#3a68c8">(114)</text>
<rect x="785.8" y="839.8" width="508.5" height="557.4" fill="none" stroke="#1e1e1e" stroke-width="2"/>
<rect x="785.8" y="770.8" width="508.3" height="69" fill="#d9d9d9" stroke="#3c3c3c" stroke-width="1.6"/>
<line x1="785.8" y1="839.8" x2="1294.1" y2="839.8" stroke="#333333" stroke-width="2.1"/>
<text x="1041.65" y="822" font-size="40" text-anchor="middle" fill="#000" xml:space="preserve"><tspan>Fe</tspan><tspan font-size="25" dy="9">o</tspan><tspan dy="-9"> (mg g</tspan><tspan font-size="28" dy="-10.2">−</tspan><tspan font-size="26" dy="-2.4">1</tspan><tspan dy="12.6">)</tspan></text>
<line x1="779" y1="1348.2" x2="785.8" y2="1348.2" stroke="#4a4a4a" stroke-width="1.6"/>
<text x="765" y="1362.6" font-size="40" text-anchor="end" fill="#000">0</text>
<line x1="779" y1="1240.15" x2="785.8" y2="1240.15" stroke="#4a4a4a" stroke-width="1.6"/>
<text x="765" y="1254.55" font-size="40" text-anchor="end" fill="#000">10</text>
<line x1="779" y1="1132.1" x2="785.8" y2="1132.1" stroke="#4a4a4a" stroke-width="1.6"/>
<text x="765" y="1146.5" font-size="40" text-anchor="end" fill="#000">20</text>
<line x1="779" y1="1024.05" x2="785.8" y2="1024.05" stroke="#4a4a4a" stroke-width="1.6"/>
<text x="765" y="1038.45" font-size="40" text-anchor="end" fill="#000">30</text>
<line x1="779" y1="916" x2="785.8" y2="916" stroke="#4a4a4a" stroke-width="1.6"/>
<text x="765" y="930.4" font-size="40" text-anchor="end" fill="#000">40</text>
<text x="726" y="824.6" font-size="46" font-weight="bold" fill="#000">e</text>
<rect x="1488.7" y="839.8" width="510.1" height="557.6" fill="#ffffff"/>
<rect x="1822.7" y="839.8" width="176.1" height="557.6" fill="#f3f7fb"/>
<line x1="1822.7" y1="839.8" x2="1822.7" y2="1397.4" stroke="#8a8a8a" stroke-width="1.5"/>
<path d="M1565.6 1053.6 L1565.47 1056.25 L1565.26 1059.98 L1565.03 1064.37 L1564.83 1068.97 L1564.7 1073.36 L1564.7 1077.1 L1564.87 1080.17 L1565.19 1082.91 L1565.58 1085.43 L1565.98 1087.85 L1566.34 1090.27 L1566.6 1092.8 L1566.77 1095.43 L1566.9 1098.06 L1566.99 1100.7 L1567.02 1103.34 L1567 1105.97 L1566.9 1108.6 L1566.69 1111.22 L1566.37 1113.84 L1565.99 1116.46 L1565.6 1119.07 L1565.26 1121.68 L1565 1124.3 L1564.84 1126.73 L1564.74 1128.95 L1564.67 1131.17 L1564.64 1133.6 L1564.62 1136.47 L1564.6 1140 L1564.58 1144.51 L1564.57 1149.89 L1564.57 1155.7 L1564.59 1161.51 L1564.63 1166.89 L1564.7 1171.4 L1564.79 1174.93 L1564.89 1177.8 L1565.02 1180.23 L1565.17 1182.45 L1565.37 1184.67 L1565.6 1187.1 L1565.86 1189.72 L1566.14 1192.33 L1566.46 1194.94 L1566.83 1197.56 L1567.27 1200.18 L1567.8 1202.8 L1568.43 1205.43 L1569.14 1208.06 L1569.93 1210.7 L1570.77 1213.34 L1571.63 1215.97 L1572.5 1218.6 L1573.4 1221.22 L1574.36 1223.84 L1575.35 1226.46 L1576.34 1229.07 L1577.3 1231.68 L1578.2 1234.3 L1579.06 1236.92 L1579.9 1239.53 L1580.71 1242.15 L1581.49 1244.77 L1582.22 1247.38 L1582.9 1250 L1583.53 1252.62 L1584.11 1255.23 L1584.64 1257.85 L1585.14 1260.47 L1585.59 1263.08 L1586 1265.7 L1586.42 1268.32 L1586.84 1270.93 L1587.23 1273.55 L1587.52 1276.17 L1587.66 1278.78 L1587.6 1281.4 L1587.31 1284.02 L1586.82 1286.63 L1586.19 1289.25 L1585.44 1291.87 L1584.63 1294.48 L1583.8 1297.1 L1582.9 1299.72 L1581.89 1302.33 L1580.82 1304.94 L1579.72 1307.56 L1578.63 1310.18 L1577.6 1312.8 L1576.6 1315.47 L1575.59 1318.18 L1574.6 1320.9 L1573.64 1323.57 L1572.73 1326.16 L1571.9 1328.6 L1571.13 1330.95 L1570.41 1333.24 L1569.74 1335.44 L1569.13 1337.51 L1568.58 1339.41 L1568.1 1341.1 L1567.7 1342.58 L1567.37 1343.89 L1567.11 1345.03 L1566.9 1346 L1566.74 1346.79 L1566.6 1347.4 L1561.2 1347.4 L1561.06 1346.79 L1560.9 1346 L1560.69 1345.03 L1560.43 1343.89 L1560.1 1342.58 L1559.7 1341.1 L1559.22 1339.41 L1558.67 1337.51 L1558.06 1335.44 L1557.39 1333.24 L1556.67 1330.95 L1555.9 1328.6 L1555.07 1326.16 L1554.16 1323.57 L1553.2 1320.9 L1552.21 1318.18 L1551.2 1315.47 L1550.2 1312.8 L1549.17 1310.18 L1548.08 1307.56 L1546.98 1304.94 L1545.91 1302.33 L1544.9 1299.72 L1544 1297.1 L1543.17 1294.48 L1542.36 1291.87 L1541.61 1289.25 L1540.98 1286.63 L1540.49 1284.02 L1540.2 1281.4 L1540.14 1278.78 L1540.28 1276.17 L1540.57 1273.55 L1540.96 1270.93 L1541.38 1268.32 L1541.8 1265.7 L1542.21 1263.08 L1542.66 1260.47 L1543.16 1257.85 L1543.69 1255.23 L1544.27 1252.62 L1544.9 1250 L1545.58 1247.38 L1546.31 1244.77 L1547.09 1242.15 L1547.9 1239.53 L1548.74 1236.92 L1549.6 1234.3 L1550.5 1231.68 L1551.46 1229.07 L1552.45 1226.46 L1553.44 1223.84 L1554.4 1221.22 L1555.3 1218.6 L1556.17 1215.97 L1557.03 1213.34 L1557.87 1210.7 L1558.66 1208.06 L1559.37 1205.43 L1560 1202.8 L1560.53 1200.18 L1560.97 1197.56 L1561.34 1194.94 L1561.66 1192.33 L1561.94 1189.72 L1562.2 1187.1 L1562.43 1184.67 L1562.63 1182.45 L1562.78 1180.23 L1562.91 1177.8 L1563.01 1174.93 L1563.1 1171.4 L1563.17 1166.89 L1563.21 1161.51 L1563.23 1155.7 L1563.23 1149.89 L1563.22 1144.51 L1563.2 1140 L1563.18 1136.47 L1563.16 1133.6 L1563.13 1131.17 L1563.06 1128.95 L1562.96 1126.73 L1562.8 1124.3 L1562.54 1121.68 L1562.2 1119.07 L1561.81 1116.46 L1561.43 1113.84 L1561.11 1111.22 L1560.9 1108.6 L1560.8 1105.97 L1560.78 1103.34 L1560.81 1100.7 L1560.9 1098.06 L1561.03 1095.43 L1561.2 1092.8 L1561.46 1090.27 L1561.82 1087.85 L1562.23 1085.43 L1562.61 1082.91 L1562.93 1080.17 L1563.1 1077.1 L1563.1 1073.36 L1562.97 1068.97 L1562.77 1064.37 L1562.54 1059.98 L1562.33 1056.25 L1562.2 1053.6 Z" fill="#aed9ae" stroke="#34a034" stroke-width="2" stroke-linejoin="round"/>
<rect x="1557.1" y="1248.3" width="13.6" height="48.3" fill="#5aad5a" fill-opacity="1"/>
<path d="M1559.53 1256.61h0M1566.05 1299.59h0M1564.37 1242.7h0M1568.29 1291.61h0M1566.44 1289.69h0M1562.68 1262.11h0M1559.57 1200.48h0M1567.28 1319.33h0M1566.49 1251.4h0M1564.92 1245.26h0M1560.36 1241.89h0M1566.55 1295.76h0M1562.72 1260.25h0M1566.9 1274.26h0M1565.54 1296.14h0M1559.92 1214.31h0M1562.12 1236.97h0M1565.2 1337.9h0M1563.35 1317.83h0M1559.86 1290.46h0M1563.97 1277.95h0M1565.23 1319.62h0M1565.49 1245.55h0M1568.23 1216.83h0M1568.44 1106.14h0" stroke="#2b952b" stroke-opacity="0.8" stroke-width="2.7" stroke-linecap="round" fill="none"/>
<path d="M1563.91 1301.39h0M1561.11 1304.25h0M1562.64 1305.38h0M1561.16 1263.91h0M1559.6 1264.54h0M1566.04 1303.95h0M1566.02 1277.46h0M1568.26 1272.35h0M1565.4 1255.26h0M1559.53 1298.79h0M1564.5 1233.04h0M1564.46 1104.86h0M1567.56 1300.63h0M1567.09 1282.2h0M1565.8 1320.53h0M1564.85 1286.09h0M1565.41 1222.3h0M1567.15 1289.86h0M1561.1 1264.83h0M1562 1319.38h0M1562.64 1280.92h0M1559.63 1293.02h0M1564.31 1341.61h0M1559.7 1330.17h0M1566.48 1278.94h0" stroke="#2b952b" stroke-opacity="0.8" stroke-width="2.7" stroke-linecap="round" fill="none"/>
<path d="M1562.6 1292.5h0M1563.7 1303.2h0M1565.55 1276.05h0M1565.46 1314.13h0M1563.99 1272.61h0M1565.93 1239.61h0M1566.47 1235.7h0M1565.58 1280.34h0M1565.13 1300.21h0M1565.11 1335.78h0M1560.21 1323.53h0M1561.97 1292.41h0M1567.82 1239.26h0M1559.5 1239.15h0M1560.41 1244.18h0M1564.44 1244.29h0M1565.01 1251.66h0M1564.97 1255.79h0M1559.59 1249.1h0M1566.32 1337.36h0M1566.01 1275.74h0M1560.44 1300.92h0M1566.52 1248.01h0M1564.06 1297.72h0M1561.23 1229.94h0" stroke="#2b952b" stroke-opacity="0.8" stroke-width="2.7" stroke-linecap="round" fill="none"/>
<path d="M1567.59 1309.82h0M1561 1290.91h0M1566.71 1255.97h0M1563.53 1261.92h0M1562.03 1307.09h0M1561.15 1231.99h0M1568.15 1246.41h0M1563.46 1297.11h0M1568.49 1231.96h0M1562.83 1256.69h0M1559.99 1293.46h0M1568.43 1249.53h0M1566.52 1239.88h0M1561.2 1107.15h0M1566.39 1108.88h0M1559.5 1322.86h0M1563.42 1298.32h0M1561.99 1254.34h0M1560.79 1219.64h0M1559.76 1238.87h0M1560.34 1291.24h0M1567.78 1300.94h0M1563.12 1330.38h0M1563.54 1290.91h0M1562.1 1338.75h0" stroke="#2b952b" stroke-opacity="0.8" stroke-width="2.7" stroke-linecap="round" fill="none"/>
<path d="M1568.07 1245.27h0M1560.63 1112.03h0M1565.19 1260.38h0M1560.07 1329.32h0M1563.23 1293.72h0M1561.01 1268.89h0M1561.73 1266.4h0M1567.13 1299.4h0M1562.12 1269.13h0M1566.84 1288.42h0M1560.1 1256.67h0M1562.11 1302.85h0M1560.15 1233.11h0M1561.6 1244.84h0M1564.62 1230.89h0M1563.28 1055.44h0M1567.65 1261.08h0M1565.78 1277.84h0M1563.85 1274.61h0M1565.26 1266.91h0M1560.23 1311.99h0M1564.13 1289.21h0M1561.08 1278.19h0M1565.64 1168.46h0M1568.08 1256.83h0" stroke="#2b952b" stroke-opacity="0.8" stroke-width="2.7" stroke-linecap="round" fill="none"/>
<path d="M1568.28 1276.67h0M1567.91 1274.13h0M1563.65 1268.86h0M1567.38 1111.9h0M1567.6 1310.14h0M1566.8 1282.08h0M1567.3 1321.3h0M1567.09 1288.71h0M1564.1 1243.1h0M1566.05 1246.32h0M1563.89 1314.4h0M1566.94 1285.02h0M1565.92 1279.82h0M1565.73 1275.84h0M1564.4 1253.93h0M1562.72 1295.36h0M1566.08 1258.84h0M1564 1285.84h0M1566.69 1228.11h0M1568.04 1298.96h0" stroke="#2b952b" stroke-opacity="0.8" stroke-width="2.7" stroke-linecap="round" fill="none"/>
<path d="M1562.43 1053.7h0M1561.6 1087.7h0M1562.27 1103.7h0M1562.65 1111.7h0M1562.27 1119.7h0" stroke="#333" stroke-opacity="0.85" stroke-width="2.6" stroke-linecap="round" fill="none"/>
<line x1="1563.9" y1="1191.6" x2="1563.9" y2="1248.3" stroke="#3a3a3a" stroke-width="1.4"/>
<line x1="1563.9" y1="1296.6" x2="1563.9" y2="1347.4" stroke="#3a3a3a" stroke-width="1.4"/>
<rect x="1557.1" y="1248.3" width="13.6" height="48.3" fill="none" stroke="#3a3a3a" stroke-width="1.5"/>
<line x1="1557.1" y1="1278.7" x2="1570.7" y2="1278.7" stroke="#2d2d2d" stroke-width="2.4"/>
<path d="M1563.9 1259.6 L1569.8 1265.5 L1563.9 1271.4 L1558 1265.5 Z" fill="none" stroke="#111" stroke-width="1.6" stroke-linejoin="miter"/>
<text x="1585.2" y="1165.6" font-size="34" text-anchor="middle" fill="#000">E</text>
<text x="1563.8" y="1381" font-size="31.8" text-anchor="middle" fill="#2e9c2e">(145)</text>
<path d="M1665.6 927.9 L1665.61 936.05 L1665.62 947.57 L1665.64 961.09 L1665.66 975.25 L1665.68 988.68 L1665.7 1000 L1665.71 1009.31 L1665.71 1017.72 L1665.71 1025.39 L1665.73 1032.5 L1665.79 1039.22 L1665.9 1045.7 L1666.07 1051.76 L1666.3 1057.22 L1666.56 1062.29 L1666.84 1067.16 L1667.13 1072.03 L1667.4 1077.1 L1667.66 1082.35 L1667.93 1087.6 L1668.19 1092.85 L1668.46 1098.1 L1668.73 1103.35 L1669 1108.6 L1669.27 1114.02 L1669.53 1119.66 L1669.8 1125.29 L1670.07 1130.7 L1670.33 1135.68 L1670.6 1140 L1670.86 1143.53 L1671.11 1146.4 L1671.36 1148.83 L1671.62 1151.05 L1671.9 1153.27 L1672.2 1155.7 L1672.52 1158.32 L1672.86 1160.93 L1673.21 1163.55 L1673.58 1166.17 L1673.97 1168.78 L1674.4 1171.4 L1674.85 1174.02 L1675.33 1176.63 L1675.83 1179.25 L1676.36 1181.87 L1676.92 1184.48 L1677.5 1187.1 L1678.14 1189.72 L1678.83 1192.33 L1679.55 1194.94 L1680.27 1197.56 L1680.96 1200.18 L1681.6 1202.8 L1682.18 1205.43 L1682.74 1208.06 L1683.27 1210.7 L1683.77 1213.34 L1684.25 1215.97 L1684.7 1218.6 L1685.13 1221.22 L1685.54 1223.84 L1685.93 1226.46 L1686.29 1229.07 L1686.61 1231.68 L1686.9 1234.3 L1687.14 1236.92 L1687.34 1239.53 L1687.5 1242.15 L1687.64 1244.77 L1687.77 1247.38 L1687.9 1250 L1688.03 1252.62 L1688.15 1255.23 L1688.26 1257.85 L1688.36 1260.47 L1688.44 1263.08 L1688.5 1265.7 L1688.54 1268.32 L1688.57 1270.93 L1688.58 1273.55 L1688.57 1276.17 L1688.54 1278.78 L1688.5 1281.4 L1688.45 1284.02 L1688.38 1286.63 L1688.3 1289.25 L1688.2 1291.87 L1688.06 1294.48 L1687.9 1297.1 L1687.72 1299.72 L1687.52 1302.33 L1687.3 1304.94 L1687.03 1307.56 L1686.71 1310.18 L1686.3 1312.8 L1685.81 1315.47 L1685.26 1318.18 L1684.65 1320.9 L1683.98 1323.57 L1683.26 1326.16 L1682.5 1328.6 L1681.61 1330.99 L1680.57 1333.37 L1679.48 1335.66 L1678.43 1337.77 L1677.54 1339.61 L1676.9 1341.1 L1676.55 1342.17 L1676.43 1342.89 L1676.45 1343.33 L1676.55 1343.6 L1676.66 1343.8 L1676.7 1344 L1653.5 1344 L1653.54 1343.8 L1653.65 1343.6 L1653.75 1343.33 L1653.77 1342.89 L1653.65 1342.17 L1653.3 1341.1 L1652.66 1339.61 L1651.77 1337.77 L1650.72 1335.66 L1649.63 1333.37 L1648.59 1330.99 L1647.7 1328.6 L1646.94 1326.16 L1646.22 1323.57 L1645.55 1320.9 L1644.94 1318.18 L1644.39 1315.47 L1643.9 1312.8 L1643.49 1310.18 L1643.17 1307.56 L1642.9 1304.94 L1642.68 1302.33 L1642.48 1299.72 L1642.3 1297.1 L1642.14 1294.48 L1642 1291.87 L1641.9 1289.25 L1641.82 1286.63 L1641.75 1284.02 L1641.7 1281.4 L1641.66 1278.78 L1641.63 1276.17 L1641.62 1273.55 L1641.63 1270.93 L1641.66 1268.32 L1641.7 1265.7 L1641.76 1263.08 L1641.84 1260.47 L1641.94 1257.85 L1642.05 1255.23 L1642.17 1252.62 L1642.3 1250 L1642.43 1247.38 L1642.56 1244.77 L1642.7 1242.15 L1642.86 1239.53 L1643.06 1236.92 L1643.3 1234.3 L1643.59 1231.68 L1643.91 1229.07 L1644.27 1226.46 L1644.66 1223.84 L1645.07 1221.22 L1645.5 1218.6 L1645.95 1215.97 L1646.43 1213.34 L1646.93 1210.7 L1647.46 1208.06 L1648.02 1205.43 L1648.6 1202.8 L1649.24 1200.18 L1649.93 1197.56 L1650.65 1194.94 L1651.37 1192.33 L1652.06 1189.72 L1652.7 1187.1 L1653.28 1184.48 L1653.84 1181.87 L1654.37 1179.25 L1654.87 1176.63 L1655.35 1174.02 L1655.8 1171.4 L1656.23 1168.78 L1656.62 1166.17 L1656.99 1163.55 L1657.34 1160.93 L1657.68 1158.32 L1658 1155.7 L1658.3 1153.27 L1658.58 1151.05 L1658.84 1148.83 L1659.09 1146.4 L1659.34 1143.53 L1659.6 1140 L1659.87 1135.68 L1660.13 1130.7 L1660.4 1125.29 L1660.67 1119.66 L1660.93 1114.02 L1661.2 1108.6 L1661.47 1103.35 L1661.74 1098.1 L1662.01 1092.85 L1662.27 1087.6 L1662.54 1082.35 L1662.8 1077.1 L1663.07 1072.03 L1663.36 1067.16 L1663.64 1062.29 L1663.9 1057.22 L1664.13 1051.76 L1664.3 1045.7 L1664.41 1039.22 L1664.47 1032.5 L1664.49 1025.39 L1664.49 1017.72 L1664.49 1009.31 L1664.5 1000 L1664.52 988.68 L1664.54 975.25 L1664.56 961.09 L1664.58 947.57 L1664.59 936.05 L1664.6 927.9 Z" fill="#ebbda1" stroke="#cc5a14" stroke-width="2" stroke-linejoin="round"/>
<rect x="1658.3" y="1214.8" width="13.6" height="90.6" fill="#cf7638" fill-opacity="1"/>
<path d="M1668.89 1125.35h0M1662.83 1164.66h0M1666.58 1212.32h0M1665.62 1239.5h0M1667.49 1306.28h0M1662.92 1263.3h0M1666.86 1217.14h0M1663.81 1225.72h0M1668.39 1216.86h0M1664.76 1238.26h0M1669.12 1337.02h0M1662.17 1313.55h0M1664.74 1259.6h0M1669.55 1173.95h0M1664.24 1169h0M1666.55 1218.56h0M1669.11 1212.33h0M1668.24 1218.24h0M1665.86 1214.9h0M1669.38 1312.18h0M1661.35 1189.38h0M1668 1325.02h0M1662.15 1163.11h0M1668.44 1272.2h0M1665.17 1211.33h0" stroke="#c4550f" stroke-opacity="0.8" stroke-width="2.7" stroke-linecap="round" fill="none"/>
<path d="M1665.81 1280.88h0M1662.66 1307.02h0M1669.38 1217.46h0M1668.24 1252.41h0M1665.97 1245.69h0M1666.53 1341.95h0M1668.85 1245.23h0M1667.29 1202.95h0M1666.95 1247.49h0M1666.92 1229.14h0M1663.66 1242.97h0M1668.71 1285.2h0M1664.46 1294.03h0M1664.15 1221.66h0M1668.75 1275.08h0M1664.08 1134.74h0M1662.25 1174.78h0M1663 1171.34h0M1662.17 1208.54h0M1664.34 1271.38h0M1668.46 1242.18h0M1667.39 1258.64h0M1661.56 1302.68h0M1664.88 1239.74h0M1661.9 1320.91h0" stroke="#c4550f" stroke-opacity="0.8" stroke-width="2.7" stroke-linecap="round" fill="none"/>
<path d="M1662.09 1146.47h0M1664.94 1321.14h0M1664.14 1192.32h0M1661.71 1252.76h0M1668.38 1104.43h0M1664.36 1195.83h0M1668.55 1222.15h0M1661.33 1288.15h0M1666.05 1280.6h0M1662.35 1219.26h0M1663.78 1179.62h0M1661.79 1149.32h0M1667.06 1338.12h0M1668.88 1242.12h0M1664.42 1336.57h0M1660.58 1085.96h0M1664.72 1130.89h0M1667.73 1226.91h0M1668.48 975.01h0M1667.81 1203.02h0M1665.28 1285.71h0M1661.83 1283.44h0M1662.21 1224.24h0M1666.45 1223.68h0M1664.55 1224.44h0" stroke="#c4550f" stroke-opacity="0.8" stroke-width="2.7" stroke-linecap="round" fill="none"/>
<path d="M1668.67 1269.91h0M1664.9 1325.8h0M1660.51 1293.31h0M1663.09 1231.6h0M1665.02 1125.61h0M1667.22 1234.81h0M1668.76 1240.89h0M1667.67 1189.72h0M1668.46 1337.59h0M1665.2 1278.47h0M1668.5 1171.47h0M1668.67 1325.09h0M1668.63 1329.24h0M1663.38 1229.21h0M1667.62 1269.39h0M1661.66 1253.72h0M1666.92 1317.02h0M1661 1195.48h0M1667.6 1241.73h0M1662.58 939.02h0M1668.92 1296.05h0M1666.69 1268.55h0M1668.28 1163.47h0M1663.54 1291.53h0M1663.36 1114.33h0" stroke="#c4550f" stroke-opacity="0.8" stroke-width="2.7" stroke-linecap="round" fill="none"/>
<path d="M1667.05 1319.47h0M1666.04 1275.62h0M1665.51 1071.04h0M1666.19 1278.8h0M1663.36 1296.19h0M1662.48 1285.94h0M1667.53 1197.27h0M1662.12 1259.16h0M1661.53 1175.78h0M1669.24 1174.03h0M1664.92 1247.64h0M1666.36 1129.23h0M1663.51 1304.72h0M1664 1316.87h0M1661.97 1244.39h0M1667.28 1315.92h0M1668.9 1342.28h0M1664.12 1290.95h0M1662.3 1247.13h0M1669.5 1208.99h0M1662.4 1193.47h0M1667.52 1314.96h0M1661.67 1291.63h0M1666.63 1289.61h0M1667.09 1209.63h0" stroke="#c4550f" stroke-opacity="0.8" stroke-width="2.7" stroke-linecap="round" fill="none"/>
<path d="M1668.43 1137.79h0M1662.29 1321.74h0M1662.19 1245.95h0M1662.23 1289.37h0M1662.26 1070.9h0M1660.84 1199.82h0M1666.39 1224.1h0M1661.18 1151.35h0M1666.47 1325.32h0M1665.38 1218.29h0M1666.77 1228.88h0M1661.76 1169.33h0M1666.88 1342.56h0M1667.64 1314.66h0M1667.97 1174.97h0M1666.61 1326.42h0M1667.35 1257.16h0M1666.16 1259.08h0M1666.78 1304.73h0M1663.56 1189.55h0M1661.74 1273.5h0M1667.53 1257.37h0M1669.38 1242.51h0M1663.28 1293.18h0M1668.89 1246.72h0" stroke="#c4550f" stroke-opacity="0.8" stroke-width="2.7" stroke-linecap="round" fill="none"/>
<path d="M1664.88 1267.13h0M1660.8 1323.58h0M1666.64 1339.37h0M1664.71 1127.97h0M1669.27 1265.88h0M1661.88 1168.15h0M1666.31 1272.47h0M1662.59 1341.49h0M1665.18 1184.27h0M1668.15 1299.08h0M1665.25 1329.42h0M1661.5 1240.25h0M1664.73 1288.38h0M1664.36 1286.02h0M1660.69 1323.88h0M1665.18 1286.02h0M1661.12 1239.4h0M1666.63 1234.15h0M1664.24 1305.38h0M1666.95 1333.09h0M1662.17 1300.56h0M1666.6 1228.16h0M1668.45 1314.71h0M1661.65 1175.41h0M1662.76 1149.03h0" stroke="#c4550f" stroke-opacity="0.8" stroke-width="2.7" stroke-linecap="round" fill="none"/>
<path d="M1668 1335.9h0M1661.45 1227.41h0M1669.2 1284.92h0M1661.59 1201.56h0M1663.89 1263.13h0M1662.67 1200.27h0M1666.53 1220.51h0M1668.54 1243.9h0M1664.31 1256.72h0M1667.34 1284.18h0M1668.51 1197.13h0M1663.55 1294.28h0M1662.56 1165.92h0M1668.68 1279.44h0M1667.8 1323.6h0M1667.86 1085.45h0M1667.69 1208.07h0M1661.95 1273.58h0M1665.27 1231.71h0M1666.11 1161.82h0M1663.24 1075.84h0M1661.2 1286.3h0M1660.7 1312.8h0M1663.06 1236.13h0M1661.8 1336.18h0" stroke="#c4550f" stroke-opacity="0.8" stroke-width="2.7" stroke-linecap="round" fill="none"/>
<path d="M1664.02 1088.11h0M1664.44 1179.96h0M1663.67 1284.45h0M1663.06 1207.11h0M1668.08 1294.29h0M1667.35 1292.23h0M1660.75 1309.49h0M1666 1326.88h0M1662.28 1202.84h0M1663.82 1323.5h0M1662.37 1234.15h0M1664.14 1194.06h0M1665.76 1268.55h0M1667.14 1085.67h0M1668.33 1296.62h0M1669.13 1278.95h0M1662.5 1327.59h0M1666.99 1286.89h0M1661.07 1323.36h0M1666.84 1305.1h0M1666.97 1230h0M1662.77 1201.42h0M1664.07 1252.49h0M1662.16 1209.69h0M1662.66 1218.01h0" stroke="#c4550f" stroke-opacity="0.8" stroke-width="2.7" stroke-linecap="round" fill="none"/>
<path d="M1665.13 1204.29h0M1661.85 1329.6h0M1661.78 1294.88h0M1665.88 1297.99h0M1664.75 1241.32h0M1668.47 1296.4h0M1660.73 1245.16h0M1665.41 1258.43h0M1666.51 1312.16h0M1669.63 1223.81h0M1661.47 1288.64h0M1666.56 1154.34h0M1661.84 1195.66h0M1661.34 1320.77h0M1667.04 1153.55h0M1660.78 1325.85h0M1663.82 1280.38h0M1662.82 1182.97h0M1662.21 1257.72h0M1667.04 1251.05h0M1661.36 1261.25h0M1662.88 1269.01h0M1663.25 1135.24h0M1661.66 1230.7h0M1665.19 1257.21h0" stroke="#c4550f" stroke-opacity="0.8" stroke-width="2.7" stroke-linecap="round" fill="none"/>
<path d="M1662.6 1300.65h0M1660.91 1252.19h0M1660.82 1317.83h0M1665.93 1250.22h0M1669.06 1210.74h0M1666.13 1291.77h0M1663.25 1284.55h0M1661.41 1293.49h0M1665.09 1163.47h0M1662.68 1304.82h0M1667.16 1280.77h0M1661.55 1267.82h0M1668.89 1340.35h0M1667.96 1184.6h0M1666.74 1185.67h0M1660.5 1261.06h0M1660.94 1165.46h0M1665.39 1251.4h0M1668.64 1169.86h0M1665.14 1297.63h0M1667.57 1212.12h0M1667.34 1285.11h0M1667.36 1233.35h0M1662.6 1192.84h0M1665.83 1225.86h0" stroke="#c4550f" stroke-opacity="0.8" stroke-width="2.7" stroke-linecap="round" fill="none"/>
<path d="M1664.57 1304.09h0M1669.51 1215.63h0M1668.63 1211.01h0M1666.57 1321.79h0M1665.47 1298.17h0M1664.65 1255.99h0M1665.7 1290.44h0M1662.29 1220.6h0M1668.69 1217.78h0M1663.1 1201.34h0M1662.55 1259.25h0M1665.68 1256.72h0M1660.8 1293.99h0M1666.46 1270.09h0M1666.21 1272.49h0M1662.08 1337.48h0M1666.04 1327.99h0M1664.28 1231.52h0M1662.84 1130.35h0M1663.24 1292.4h0M1668.67 1279.58h0M1664.55 1181.72h0M1663.77 1227.64h0M1668.95 1311.89h0M1665.63 1225.11h0" stroke="#c4550f" stroke-opacity="0.8" stroke-width="2.7" stroke-linecap="round" fill="none"/>
<path d="M1663.53 1290.82h0M1664.03 1236.52h0M1665.98 1341.99h0M1668.23 1320.12h0M1661.96 1269.81h0M1668.93 1178.45h0M1664.94 1326.86h0M1665.02 1257.19h0M1663.63 1284.08h0M1663.93 1336.44h0M1666.43 1181.78h0M1666.52 1281.73h0M1665.25 1083.46h0M1663.6 1283.41h0M1666.63 1260.72h0M1663.18 1240.97h0M1661.33 1237.04h0M1666.43 1174.08h0M1662.72 1289.66h0M1664.93 1164.48h0M1663.76 1209.23h0M1660.69 1143.89h0M1667.79 1227.6h0M1667.25 1276.44h0M1664.78 1341.93h0" stroke="#c4550f" stroke-opacity="0.8" stroke-width="2.7" stroke-linecap="round" fill="none"/>
<path d="M1660.81 1329.31h0M1664.59 1165.83h0M1664.93 1248.06h0M1665.44 1188.47h0M1662.21 1316.3h0M1661.81 1192.87h0M1667.56 1276.33h0M1667.24 1266.53h0M1666.02 1216.22h0M1665.82 1264.05h0M1667.98 1297.09h0M1662.37 1153.02h0M1665.57 1253.51h0M1660.63 1324.56h0M1664.25 1311.18h0M1666.81 1268.36h0M1663.37 1333.08h0M1668.34 1296.05h0M1666.22 1170.76h0M1666.87 1232.63h0M1664.96 1260.64h0M1661.22 1236.1h0M1662.07 1316.75h0M1666 1280.04h0M1664.91 1236.35h0" stroke="#c4550f" stroke-opacity="0.8" stroke-width="2.7" stroke-linecap="round" fill="none"/>
<path d="M1665.14 1219.98h0M1661.94 1132.3h0M1661.91 1214.59h0M1666.26 1165.68h0M1669.13 1271.18h0M1667.85 1230.38h0M1662.17 1286.9h0M1666.63 1240.13h0M1668.49 1124.64h0M1665.68 1090.95h0M1668.56 1116.28h0M1667.08 1133.32h0M1664.68 1187.87h0M1660.95 1054.94h0M1666.55 1164.26h0M1664.24 1095.23h0M1666.31 1080.09h0M1669.17 1180.21h0M1668.78 1158.64h0M1663.18 1072.22h0M1662.78 1103.71h0M1663.34 1115.47h0M1664.1 1177.95h0M1662.74 1072.89h0M1666.88 1154.67h0" stroke="#c4550f" stroke-opacity="0.8" stroke-width="2.7" stroke-linecap="round" fill="none"/>
<path d="M1664.78 1170.03h0M1662.28 1083.56h0M1665.44 1156.39h0M1664.14 1192.26h0M1664.56 1171.98h0M1665.64 1168.05h0M1665.32 1145.35h0M1662.06 1120.11h0M1663.7 1123.77h0M1664.5 1082.73h0M1668.82 1107.91h0M1660.79 1155.96h0M1668.71 1165.67h0M1668.33 1041.03h0M1660.97 1158.55h0M1663.43 1193.1h0M1668.38 1078.51h0M1661.6 1147.83h0" stroke="#c4550f" stroke-opacity="0.8" stroke-width="2.7" stroke-linecap="round" fill="none"/>
<path d="M1663.55 927.5h0M1667.19 990h0M1666.4 994h0M1665.19 1027.8h0M1663.15 1047.7h0M1665.35 1059.7h0" stroke="#333" stroke-opacity="0.85" stroke-width="2.6" stroke-linecap="round" fill="none"/>
<line x1="1665.1" y1="1081.7" x2="1665.1" y2="1214.8" stroke="#3a3a3a" stroke-width="1.4"/>
<line x1="1665.1" y1="1305.4" x2="1665.1" y2="1344.2" stroke="#3a3a3a" stroke-width="1.4"/>
<rect x="1658.3" y="1214.8" width="13.6" height="90.6" fill="none" stroke="#3a3a3a" stroke-width="1.5"/>
<line x1="1658.3" y1="1264.3" x2="1671.9" y2="1264.3" stroke="#2d2d2d" stroke-width="2.4"/>
<path d="M1665.1 1244.4 L1671 1250.3 L1665.1 1256.2 L1659.2 1250.3 Z" fill="none" stroke="#111" stroke-width="1.6" stroke-linejoin="miter"/>
<text x="1689.5" y="1101.7" font-size="34" text-anchor="middle" fill="#000">D</text>
<text x="1664.5" y="1381" font-size="31.8" text-anchor="middle" fill="#c8581a">(358)</text>
<path d="M1766.5 916.5 L1766.51 920.36 L1766.52 925.87 L1766.53 932.31 L1766.56 938.96 L1766.61 945.1 L1766.7 950 L1766.86 953.63 L1767.08 956.56 L1767.33 958.97 L1767.56 961.06 L1767.73 963 L1767.8 965 L1767.73 966.9 L1767.56 968.52 L1767.32 970 L1767.08 971.48 L1766.89 973.1 L1766.8 975 L1766.83 977.04 L1766.94 979.07 L1767.1 981.25 L1767.28 983.7 L1767.46 986.57 L1767.6 990 L1767.7 994.13 L1767.78 998.89 L1767.86 1004.06 L1767.94 1009.44 L1768.05 1014.83 L1768.2 1020 L1768.38 1025.17 L1768.58 1030.56 L1768.8 1035.94 L1769.06 1041.11 L1769.35 1045.87 L1769.7 1050 L1770.08 1053.37 L1770.48 1056.11 L1770.92 1058.44 L1771.42 1060.56 L1772.01 1062.67 L1772.7 1065 L1773.53 1067.5 L1774.48 1070 L1775.51 1072.5 L1776.59 1075 L1777.67 1077.5 L1778.7 1080 L1779.73 1082.5 L1780.81 1085 L1781.89 1087.5 L1782.92 1090 L1783.87 1092.5 L1784.7 1095 L1785.39 1097.5 L1785.98 1100 L1786.48 1102.5 L1786.92 1105 L1787.32 1107.5 L1787.7 1110 L1788.07 1112.5 L1788.42 1115 L1788.73 1117.5 L1788.98 1120 L1789.14 1122.5 L1789.2 1125 L1789.16 1127.5 L1789.03 1130 L1788.83 1132.5 L1788.53 1135 L1788.16 1137.5 L1787.7 1140 L1787.12 1142.5 L1786.42 1145 L1785.64 1147.5 L1784.81 1150 L1783.98 1152.5 L1783.2 1155 L1782.44 1157.5 L1781.68 1160 L1780.91 1162.5 L1780.16 1165 L1779.42 1167.5 L1778.7 1170 L1778 1172.5 L1777.32 1175 L1776.66 1177.5 L1776.01 1180 L1775.39 1182.5 L1774.8 1185 L1774.25 1187.5 L1773.73 1190 L1773.24 1192.5 L1772.77 1195 L1772.29 1197.5 L1771.8 1200 L1771.29 1202.5 L1770.76 1205 L1770.24 1207.5 L1769.73 1210 L1769.24 1212.5 L1768.8 1215 L1768.39 1216.69 L1768 1217.42 L1767.63 1218.15 L1767.31 1219.84 L1767.03 1223.47 L1766.8 1230 L1766.64 1241.05 L1766.55 1256.18 L1766.5 1273.24 L1766.48 1290.09 L1766.47 1304.59 L1766.45 1314.6 L1765.55 1314.6 L1765.53 1304.59 L1765.52 1290.09 L1765.5 1273.24 L1765.45 1256.18 L1765.36 1241.05 L1765.2 1230 L1764.97 1223.47 L1764.69 1219.84 L1764.37 1218.15 L1764 1217.42 L1763.61 1216.69 L1763.2 1215 L1762.76 1212.5 L1762.27 1210 L1761.76 1207.5 L1761.24 1205 L1760.71 1202.5 L1760.2 1200 L1759.71 1197.5 L1759.23 1195 L1758.76 1192.5 L1758.27 1190 L1757.75 1187.5 L1757.2 1185 L1756.61 1182.5 L1755.99 1180 L1755.34 1177.5 L1754.68 1175 L1754 1172.5 L1753.3 1170 L1752.58 1167.5 L1751.84 1165 L1751.09 1162.5 L1750.32 1160 L1749.56 1157.5 L1748.8 1155 L1748.02 1152.5 L1747.19 1150 L1746.36 1147.5 L1745.58 1145 L1744.88 1142.5 L1744.3 1140 L1743.84 1137.5 L1743.47 1135 L1743.17 1132.5 L1742.97 1130 L1742.84 1127.5 L1742.8 1125 L1742.86 1122.5 L1743.02 1120 L1743.27 1117.5 L1743.58 1115 L1743.93 1112.5 L1744.3 1110 L1744.68 1107.5 L1745.08 1105 L1745.52 1102.5 L1746.02 1100 L1746.61 1097.5 L1747.3 1095 L1748.13 1092.5 L1749.08 1090 L1750.11 1087.5 L1751.19 1085 L1752.27 1082.5 L1753.3 1080 L1754.33 1077.5 L1755.41 1075 L1756.49 1072.5 L1757.52 1070 L1758.47 1067.5 L1759.3 1065 L1759.99 1062.67 L1760.58 1060.56 L1761.08 1058.44 L1761.52 1056.11 L1761.92 1053.37 L1762.3 1050 L1762.65 1045.87 L1762.94 1041.11 L1763.2 1035.94 L1763.42 1030.56 L1763.62 1025.17 L1763.8 1020 L1763.95 1014.83 L1764.06 1009.44 L1764.14 1004.06 L1764.22 998.89 L1764.3 994.13 L1764.4 990 L1764.54 986.57 L1764.72 983.7 L1764.9 981.25 L1765.06 979.07 L1765.17 977.04 L1765.2 975 L1765.11 973.1 L1764.92 971.48 L1764.68 970 L1764.44 968.52 L1764.27 966.9 L1764.2 965 L1764.27 963 L1764.44 961.06 L1764.67 958.97 L1764.92 956.56 L1765.14 953.63 L1765.3 950 L1765.39 945.1 L1765.44 938.96 L1765.47 932.31 L1765.48 925.87 L1765.49 920.36 L1765.5 916.5 Z" fill="#d7ebfe" stroke="#9ccefc" stroke-width="2" stroke-linejoin="round"/>
<rect x="1759.2" y="1098.9" width="13.6" height="55.5" fill="#a7d3fb" fill-opacity="1"/>
<path d="M1770.5 1117.57h0M1763.48 1089.32h0M1767.39 1122.15h0M1763.94 1194.73h0M1761.57 1036.94h0M1768.7 1156.19h0M1765.4 1083.99h0M1765.47 1111.68h0M1768.61 1092.41h0M1765.14 1054.06h0M1765.03 1050.37h0M1767.15 1164.98h0M1768.95 1116.39h0M1761.48 1187.28h0M1764.83 1069.99h0M1762 1056.39h0M1766.47 1141.68h0M1763.9 1141.83h0M1762.97 1130.74h0M1762.1 1133.26h0M1767.4 1082.24h0M1763.2 1114.69h0M1765.67 1152.71h0M1763.03 1121.18h0M1767 1155.77h0" stroke="#8cc2f4" stroke-opacity="0.8" stroke-width="2.7" stroke-linecap="round" fill="none"/>
<path d="M1766.36 1159.14h0M1770.2 1146.99h0M1768.53 1080.56h0M1762.26 1103.94h0M1766.81 1123.09h0M1770.53 1085.79h0M1766.4 1114.26h0M1767.69 1170.91h0M1768.99 1074.47h0M1763.02 1119.99h0M1764.68 1110.24h0M1766.02 1153.37h0M1762.93 1101.38h0M1764.47 1107.41h0M1768.46 1041.67h0M1769.71 1155.41h0M1767.56 1085.23h0M1765.26 1113.13h0M1769.03 1099.1h0M1767.3 1120.56h0M1767.6 1118.07h0M1762.74 1161.2h0M1763.62 1134.02h0M1766.08 1091.8h0M1762.44 1148.66h0" stroke="#8cc2f4" stroke-opacity="0.8" stroke-width="2.7" stroke-linecap="round" fill="none"/>
<path d="M1766.79 1128.27h0M1765.88 1112.17h0M1761.81 1125.47h0M1762.53 1109.91h0M1767.09 1115.2h0M1763.59 1175.81h0M1762.14 1101.62h0M1762.45 1183.23h0M1769.46 1152.37h0M1767.27 1092.12h0M1770.59 1093.16h0M1764.41 1148.74h0M1768.62 1133.82h0M1767.22 1145.02h0M1762 1097.34h0M1761.56 1162.37h0M1766.84 1057.51h0M1768.05 1111.84h0M1764.61 1154.63h0M1768.55 1106.7h0M1768.47 1128.5h0M1763.03 1124.49h0M1767.57 1147.9h0M1768.23 1165.32h0M1769.88 1119.22h0" stroke="#8cc2f4" stroke-opacity="0.8" stroke-width="2.7" stroke-linecap="round" fill="none"/>
<path d="M1767.96 1110.72h0M1761.75 1144.37h0M1765.26 1187.61h0M1764.42 1100.78h0M1767.21 1099.03h0M1761.91 1145.86h0M1765.99 1080.65h0M1762.83 1138.99h0M1761.67 1171.99h0M1768.97 1121.96h0M1761.52 1145.43h0M1768.77 1076.55h0M1764.39 1150.23h0M1763.09 1057.97h0M1762.8 1096h0M1769.98 1166.57h0M1764.68 1140.74h0M1762.73 1207.18h0M1763.74 1073.75h0M1769.46 1080.55h0M1766.93 1091.96h0M1769.7 1135.41h0M1764.09 1177.36h0M1764.73 1110.43h0M1764.91 1143.41h0" stroke="#8cc2f4" stroke-opacity="0.8" stroke-width="2.7" stroke-linecap="round" fill="none"/>
<path d="M1762.61 1156.33h0M1764.7 1106h0M1768.82 1081.93h0M1767.97 1170.3h0M1769.51 1085.84h0M1762.51 1204.33h0M1765.57 1148.5h0M1768.36 1140.84h0M1763.71 1126.19h0M1768.98 1098.31h0M1762.48 1184.05h0M1761.67 1162.06h0M1762.05 1119.75h0M1761.47 1129.95h0M1765.06 1098.08h0M1767.91 1190.23h0M1768.26 926.73h0M1766.94 1268.77h0M1766.95 1140.01h0M1769.65 1093.58h0" stroke="#8cc2f4" stroke-opacity="0.8" stroke-width="2.7" stroke-linecap="round" fill="none"/>
<path d="M1768.26 915.9h0M1766.7 971.8h0M1767.39 993.8h0M1764.86 1003.8h0M1766.03 1009.8h0M1766.52 1278.3h0M1766.78 1314.6h0" stroke="#333" stroke-opacity="0.85" stroke-width="2.6" stroke-linecap="round" fill="none"/>
<line x1="1766" y1="1025.8" x2="1766" y2="1098.9" stroke="#3a3a3a" stroke-width="1.4"/>
<line x1="1766" y1="1154.4" x2="1766" y2="1211.6" stroke="#3a3a3a" stroke-width="1.4"/>
<rect x="1759.2" y="1098.9" width="13.6" height="55.5" fill="none" stroke="#3a3a3a" stroke-width="1.5"/>
<line x1="1759.2" y1="1123.7" x2="1772.8" y2="1123.7" stroke="#2d2d2d" stroke-width="2.4"/>
<path d="M1766 1117 L1771.9 1122.9 L1766 1128.8 L1760.1 1122.9 Z" fill="none" stroke="#111" stroke-width="1.6" stroke-linejoin="miter"/>
<text x="1784.9" y="1031.8" font-size="34" text-anchor="middle" fill="#000">C</text>
<text x="1771.9" y="1381" font-size="31.8" text-anchor="middle" fill="#9ccbf6">(120)</text>
<path d="M1885.3 988.5 L1885.29 990.31 L1885.26 992.83 L1885.22 995.81 L1885.23 999 L1885.31 1002.15 L1885.5 1005 L1885.81 1007.59 L1886.23 1010.11 L1886.72 1012.59 L1887.26 1015.06 L1887.79 1017.52 L1888.3 1020 L1888.8 1022.5 L1889.31 1025 L1889.83 1027.5 L1890.34 1030 L1890.83 1032.5 L1891.3 1035 L1891.74 1037.5 L1892.16 1040 L1892.56 1042.5 L1892.94 1045 L1893.32 1047.5 L1893.7 1050 L1894.07 1052.5 L1894.44 1055 L1894.81 1057.5 L1895.16 1060 L1895.49 1062.5 L1895.8 1065 L1896.09 1067.5 L1896.37 1070 L1896.62 1072.5 L1896.87 1075 L1897.09 1077.5 L1897.3 1080 L1897.5 1082.5 L1897.69 1085 L1897.86 1087.5 L1898.01 1090 L1898.13 1092.5 L1898.2 1095 L1898.24 1097.5 L1898.26 1100 L1898.24 1102.5 L1898.18 1105 L1898.07 1107.5 L1897.9 1110 L1897.66 1112.5 L1897.37 1115 L1897.02 1117.5 L1896.63 1120 L1896.22 1122.5 L1895.8 1125 L1895.35 1127.5 L1894.87 1130 L1894.36 1132.5 L1893.83 1135 L1893.31 1137.5 L1892.8 1140 L1892.29 1142.5 L1891.78 1145 L1891.26 1147.5 L1890.76 1150 L1890.27 1152.5 L1889.8 1155 L1889.36 1157.5 L1888.94 1160 L1888.54 1162.5 L1888.16 1165 L1887.78 1167.5 L1887.4 1170 L1887.02 1172.5 L1886.65 1175 L1886.29 1177.5 L1885.94 1180 L1885.61 1182.5 L1885.3 1185 L1885.01 1187.33 L1884.74 1189.44 L1884.49 1191.56 L1884.26 1193.89 L1884.06 1196.63 L1883.9 1200 L1883.78 1203.98 L1883.69 1208.42 L1883.64 1213.27 L1883.6 1218.5 L1883.58 1224.09 L1883.55 1230 L1883.53 1236.88 L1883.52 1244.87 L1883.53 1253.22 L1883.54 1261.16 L1883.55 1267.91 L1883.55 1272.7 L1882.65 1272.7 L1882.65 1267.91 L1882.66 1261.16 L1882.67 1253.22 L1882.68 1244.87 L1882.67 1236.88 L1882.65 1230 L1882.62 1224.09 L1882.6 1218.5 L1882.56 1213.27 L1882.51 1208.42 L1882.42 1203.98 L1882.3 1200 L1882.14 1196.63 L1881.94 1193.89 L1881.71 1191.56 L1881.46 1189.44 L1881.19 1187.33 L1880.9 1185 L1880.59 1182.5 L1880.26 1180 L1879.91 1177.5 L1879.55 1175 L1879.18 1172.5 L1878.8 1170 L1878.42 1167.5 L1878.04 1165 L1877.66 1162.5 L1877.26 1160 L1876.84 1157.5 L1876.4 1155 L1875.93 1152.5 L1875.44 1150 L1874.94 1147.5 L1874.42 1145 L1873.91 1142.5 L1873.4 1140 L1872.89 1137.5 L1872.37 1135 L1871.84 1132.5 L1871.33 1130 L1870.85 1127.5 L1870.4 1125 L1869.98 1122.5 L1869.57 1120 L1869.18 1117.5 L1868.83 1115 L1868.54 1112.5 L1868.3 1110 L1868.13 1107.5 L1868.02 1105 L1867.96 1102.5 L1867.94 1100 L1867.96 1097.5 L1868 1095 L1868.07 1092.5 L1868.19 1090 L1868.34 1087.5 L1868.51 1085 L1868.7 1082.5 L1868.9 1080 L1869.11 1077.5 L1869.33 1075 L1869.57 1072.5 L1869.83 1070 L1870.11 1067.5 L1870.4 1065 L1870.71 1062.5 L1871.04 1060 L1871.39 1057.5 L1871.76 1055 L1872.13 1052.5 L1872.5 1050 L1872.88 1047.5 L1873.26 1045 L1873.64 1042.5 L1874.04 1040 L1874.46 1037.5 L1874.9 1035 L1875.37 1032.5 L1875.86 1030 L1876.37 1027.5 L1876.89 1025 L1877.4 1022.5 L1877.9 1020 L1878.41 1017.52 L1878.94 1015.06 L1879.47 1012.59 L1879.97 1010.11 L1880.39 1007.59 L1880.7 1005 L1880.89 1002.15 L1880.97 999 L1880.97 995.81 L1880.94 992.83 L1880.91 990.31 L1880.9 988.5 Z" fill="#f4cd98" stroke="#f5991f" stroke-width="2" stroke-linejoin="round"/>
<rect x="1878.7" y="1062.1" width="8.8" height="64.8" fill="#f5a032" fill-opacity="1"/>
<path d="M1880.05 1125h0M1879.04 1061.26h0M1887.09 1101.3h0M1886.31 1120.2h0M1882.54 1083.52h0M1884.99 1112.03h0M1884.17 1123.11h0M1885.41 1029.41h0M1882.72 1028.92h0M1884.18 1120.61h0M1884.87 1050.72h0M1883.37 1086.35h0M1879.94 1109.84h0M1885.83 1145.24h0M1887.18 1074.82h0M1886.38 1112.76h0M1880.82 1093.2h0M1880.2 1043.67h0M1878.64 1093.26h0M1887.35 1045.45h0M1885.6 1046.19h0M1886.8 1130.26h0M1887.12 1076.18h0M1882.52 1056.91h0M1885.05 1125.91h0" stroke="#ee8d12" stroke-opacity="0.8" stroke-width="2.7" stroke-linecap="round" fill="none"/>
<path d="M1880.86 1097.57h0M1879.81 1018.71h0M1883.43 1094.02h0M1883.3 1145.82h0M1885.11 1060.08h0M1882.68 1012.92h0M1884.64 1048.62h0M1883.87 1099.31h0M1884.54 1029.24h0M1880.48 1123.33h0M1886.57 1090.44h0M1880.45 1126.95h0M1886.53 1167.95h0M1885.29 1117.01h0M1885.54 1152.83h0M1884.49 1123.53h0M1881.82 1143.53h0M1885.78 1023.89h0M1880.78 1101.07h0M1884.79 1036.92h0M1885.85 1129.67h0M1885.29 1087.67h0M1882.84 1031.59h0M1886.04 1078.57h0M1882.58 1072.15h0" stroke="#ee8d12" stroke-opacity="0.8" stroke-width="2.7" stroke-linecap="round" fill="none"/>
<path d="M1882.85 1063.73h0M1880.14 1066.91h0M1881.54 1098.04h0M1879.42 1046.7h0M1880.01 1119.38h0M1882.4 1095.12h0M1879.22 1146.6h0M1881.54 1116.7h0M1886.52 1107.03h0M1883.3 1087.59h0M1884.08 1118.49h0M1880.08 1127.07h0M1878.92 1070.83h0M1886.76 1000.34h0M1886.79 1048.15h0M1878.96 1105.29h0M1885.96 1079.21h0M1878.73 1130.52h0M1885.94 1133.42h0M1880.88 1178.05h0M1884.17 1026.12h0M1885.92 1094.89h0M1883.47 1127.6h0M1885.64 1051.74h0M1881.75 1168.46h0" stroke="#ee8d12" stroke-opacity="0.8" stroke-width="2.7" stroke-linecap="round" fill="none"/>
<path d="M1884.64 1127.64h0M1879.45 1068h0M1881.41 1147.4h0M1886.53 1080.13h0M1883 1150.75h0M1887.41 993.28h0M1886.26 1069h0M1881.95 1140.83h0M1879.2 1079.24h0M1883.53 1137.93h0M1880.34 1050.99h0M1884.01 1271.53h0M1880.74 1104.79h0M1879.09 1116.72h0M1878.76 1134.43h0M1885.15 1148.61h0M1884.74 1078.37h0M1884.8 1098.65h0M1882.73 1070.22h0M1884.15 1098.9h0M1880.04 1052.02h0M1882.73 1105.97h0M1886.23 1151.38h0M1880.67 1056.58h0M1885.59 1120.38h0" stroke="#ee8d12" stroke-opacity="0.8" stroke-width="2.7" stroke-linecap="round" fill="none"/>
<path d="M1887.16 1074.99h0M1887.44 1089.29h0M1887.67 1099.61h0M1886.54 1060.44h0M1887.38 1071.49h0M1880.25 1180.56h0M1884.98 1082.4h0M1882.38 1092.42h0M1881.88 1109.2h0M1881.27 1064.71h0M1887.16 1047.34h0M1883.6 1166.06h0M1880.32 1073.9h0M1886.95 1124.87h0M1885.09 1044.57h0M1882.16 1029.51h0M1880.42 1083.22h0M1881.3 1079.98h0M1882.58 1078.81h0M1879.18 1096.03h0M1882.47 1097.54h0M1879.36 1084.82h0M1884.85 1086.52h0M1881.73 1008.47h0M1884.11 1090.23h0" stroke="#ee8d12" stroke-opacity="0.8" stroke-width="2.7" stroke-linecap="round" fill="none"/>
<path d="M1882.4 1063.08h0M1882.72 1091.94h0M1881.13 1077.1h0" stroke="#ee8d12" stroke-opacity="0.8" stroke-width="2.7" stroke-linecap="round" fill="none"/>
<path d="M1885.46 1272.5h0" stroke="#333" stroke-opacity="0.85" stroke-width="2.6" stroke-linecap="round" fill="none"/>
<line x1="1883.1" y1="987.8" x2="1883.1" y2="1062.1" stroke="#3a3a3a" stroke-width="1.4"/>
<line x1="1883.1" y1="1126.9" x2="1883.1" y2="1177.6" stroke="#3a3a3a" stroke-width="1.4"/>
<rect x="1878.7" y="1062.1" width="8.8" height="64.8" fill="none" stroke="#3a3a3a" stroke-width="1.5"/>
<line x1="1878.7" y1="1096.5" x2="1887.5" y2="1096.5" stroke="#2d2d2d" stroke-width="2.4"/>
<path d="M1883.1 1090.6 L1889 1096.5 L1883.1 1102.4 L1877.2 1096.5 Z" fill="none" stroke="#111" stroke-width="1.6" stroke-linejoin="miter"/>
<text x="1883" y="974.6" font-size="34" text-anchor="middle" fill="#000">B</text>
<text x="1881.8" y="1381" font-size="31.8" text-anchor="middle" fill="#ec7424">(128)</text>
<path d="M1952.2 910.5 L1952.16 912.67 L1952.09 915.72 L1952.01 919.31 L1951.94 923.11 L1951.9 926.78 L1951.9 930 L1951.94 932.76 L1952.02 935.33 L1952.13 937.78 L1952.24 940.17 L1952.37 942.55 L1952.5 945 L1952.61 947.5 L1952.71 950 L1952.82 952.5 L1952.96 955 L1953.14 957.5 L1953.4 960 L1953.73 962.5 L1954.12 965 L1954.56 967.5 L1955.04 970 L1955.56 972.5 L1956.1 975 L1956.68 977.5 L1957.31 980 L1957.97 982.5 L1958.66 985 L1959.34 987.5 L1960 990 L1960.66 992.5 L1961.34 995 L1962.03 997.5 L1962.69 1000 L1963.32 1002.5 L1963.9 1005 L1964.49 1007.5 L1965.12 1010 L1965.72 1012.5 L1966.21 1015 L1966.53 1017.5 L1966.6 1020 L1966.39 1022.5 L1965.96 1025 L1965.34 1027.5 L1964.61 1030 L1963.81 1032.5 L1963 1035 L1962.11 1037.53 L1961.1 1040.11 L1960.02 1042.69 L1958.93 1045.22 L1957.91 1047.67 L1957 1050 L1956.18 1052.31 L1955.4 1054.67 L1954.68 1056.94 L1954.03 1059 L1953.5 1060.73 L1953.1 1062 L1949.3 1062 L1948.9 1060.73 L1948.37 1059 L1947.72 1056.94 L1947 1054.67 L1946.22 1052.31 L1945.4 1050 L1944.49 1047.67 L1943.47 1045.22 L1942.38 1042.69 L1941.3 1040.11 L1940.29 1037.53 L1939.4 1035 L1938.59 1032.5 L1937.79 1030 L1937.06 1027.5 L1936.44 1025 L1936.01 1022.5 L1935.8 1020 L1935.87 1017.5 L1936.19 1015 L1936.68 1012.5 L1937.28 1010 L1937.91 1007.5 L1938.5 1005 L1939.08 1002.5 L1939.71 1000 L1940.38 997.5 L1941.06 995 L1941.74 992.5 L1942.4 990 L1943.06 987.5 L1943.74 985 L1944.43 982.5 L1945.09 980 L1945.72 977.5 L1946.3 975 L1946.84 972.5 L1947.36 970 L1947.84 967.5 L1948.28 965 L1948.67 962.5 L1949 960 L1949.26 957.5 L1949.44 955 L1949.58 952.5 L1949.69 950 L1949.79 947.5 L1949.9 945 L1950.03 942.55 L1950.16 940.17 L1950.27 937.78 L1950.38 935.33 L1950.46 932.76 L1950.5 930 L1950.5 926.78 L1950.46 923.11 L1950.39 919.31 L1950.31 915.72 L1950.24 912.67 L1950.2 910.5 Z" fill="#afc2f3" stroke="#4a72e6" stroke-width="2" stroke-linejoin="round"/>
<rect x="1947.4" y="996.6" width="7.6" height="33.2" fill="#6486e6" fill-opacity="1"/>
<path d="M1951.14 1035.81h0M1949.62 1035.81h0M1954.89 1002.96h0M1953.75 1022.53h0M1953.1 1030.01h0M1954.59 1012.17h0M1953.39 1006.85h0M1951.34 995.67h0M1954.34 1040.93h0M1948.07 980.65h0M1955.75 1009.38h0M1952.64 972.15h0M1954.16 1033.72h0M1951.93 1048h0M1955.15 977.98h0M1949.41 1020.31h0M1949.25 1029.3h0M1955.8 1021.12h0M1950.67 1036.56h0M1951.65 1020.21h0M1952.9 1038.8h0M1955.78 993.91h0M1953.16 1027.03h0M1953.88 1031.15h0M1953.84 1003.87h0" stroke="#3f66dc" stroke-opacity="0.8" stroke-width="2.7" stroke-linecap="round" fill="none"/>
<path d="M1955.79 1035.81h0M1951.6 996.25h0M1946.64 1027.84h0M1948.73 1024.42h0M1954.88 993.82h0M1955.41 990.11h0M1952.81 1023.76h0M1947.75 1023.95h0M1950.49 1024.29h0M1952.71 1050.09h0M1948.85 996.88h0M1950.21 1020.88h0M1948.19 1018.76h0M1947.43 1041.67h0M1949.37 992.51h0M1950.58 1046.18h0M1947.92 1024.58h0M1948.47 998.97h0M1948.28 938.88h0M1953.51 1029.18h0M1950.09 1017.12h0M1948.42 1031h0M1952.7 960.02h0M1949.06 1021.64h0M1955.16 1001.8h0" stroke="#3f66dc" stroke-opacity="0.8" stroke-width="2.7" stroke-linecap="round" fill="none"/>
<path d="M1948.18 1017.43h0M1951.15 1054.74h0M1947.14 984.05h0M1949.97 1018.77h0M1948.84 1025.12h0M1951.57 995.41h0M1954.15 1015.61h0M1950.24 1040.83h0M1947.73 1000.27h0M1953.4 986.17h0M1952.63 1051.97h0M1955.44 972.72h0M1951.94 1019.03h0M1953.32 1042.35h0M1954.87 1011.98h0M1948.9 1006.36h0M1949.54 1053.32h0M1949.16 997.37h0M1949.22 958.49h0M1949.2 989.17h0M1951.63 1001.91h0M1946.61 970.34h0M1951.74 983.96h0M1946.9 1053.78h0M1950.5 1040.26h0" stroke="#3f66dc" stroke-opacity="0.8" stroke-width="2.7" stroke-linecap="round" fill="none"/>
<path d="M1951.37 1024.32h0M1947.81 1050.35h0M1949.08 1019.69h0M1953.97 983.51h0M1949.87 973.78h0M1948.9 996.17h0M1953.58 1005.23h0M1954 1012.92h0M1946.94 1046.3h0M1952.73 990.81h0M1953.27 1016.22h0M1947.69 1010.28h0M1950.29 1006.44h0M1947.4 995.78h0M1950.17 1046.54h0M1954.93 1041.18h0M1948.23 1007.64h0M1952.56 1021.63h0M1949.67 1013.29h0M1950.16 986.64h0M1952.04 952.24h0M1952.49 1009.85h0M1951.8 1028.55h0M1951.56 1010.5h0M1952.47 993.66h0" stroke="#3f66dc" stroke-opacity="0.8" stroke-width="2.7" stroke-linecap="round" fill="none"/>
<path d="M1949.91 1039.63h0M1955.74 1004.99h0M1947.06 1059.06h0M1952.86 1005.3h0M1949.83 1039.48h0M1948.52 981.52h0M1949.04 1024.22h0M1947.46 967.69h0M1954.12 1038.84h0M1954.22 1003.25h0M1952.16 1037.2h0M1952.04 1053.91h0M1952.45 1025.09h0M1955.25 1019.38h0" stroke="#3f66dc" stroke-opacity="0.8" stroke-width="2.7" stroke-linecap="round" fill="none"/>
<line x1="1951.2" y1="911.1" x2="1951.2" y2="996.6" stroke="#3a3a3a" stroke-width="1.4"/>
<line x1="1951.2" y1="1029.8" x2="1951.2" y2="1062.5" stroke="#3a3a3a" stroke-width="1.4"/>
<rect x="1947.4" y="996.6" width="7.6" height="33.2" fill="none" stroke="#3a3a3a" stroke-width="1.5"/>
<line x1="1947.4" y1="1015.8" x2="1955" y2="1015.8" stroke="#2d2d2d" stroke-width="2.4"/>
<path d="M1951.2 1005.1 L1957.1 1011 L1951.2 1016.9 L1945.3 1011 Z" fill="none" stroke="#111" stroke-width="1.6" stroke-linejoin="miter"/>
<text x="1951.9" y="901.9" font-size="34" text-anchor="middle" fill="#000">A</text>
<text x="1957.7" y="1381" font-size="31.8" text-anchor="middle" fill="#3a68c8">(114)</text>
<rect x="1488.7" y="839.8" width="510.1" height="557.6" fill="none" stroke="#1e1e1e" stroke-width="2"/>
<rect x="1487.5" y="770.8" width="510.5" height="69" fill="#d9d9d9" stroke="#3c3c3c" stroke-width="1.6"/>
<line x1="1487.5" y1="839.8" x2="1998" y2="839.8" stroke="#333333" stroke-width="2.1"/>
<text x="1743.25" y="822" font-size="40" text-anchor="middle" fill="#000" xml:space="preserve"><tspan>Fe</tspan><tspan font-size="25" dy="9">o</tspan><tspan dy="-9">:Fe</tspan><tspan font-size="25" dy="9">d</tspan></text>
<line x1="1482" y1="1349.6" x2="1488.7" y2="1349.6" stroke="#4a4a4a" stroke-width="1.6"/>
<text x="1465.6" y="1364" font-size="40" text-anchor="end" fill="#000">0.0</text>
<line x1="1482" y1="1259.8" x2="1488.7" y2="1259.8" stroke="#4a4a4a" stroke-width="1.6"/>
<line x1="1482" y1="1170" x2="1488.7" y2="1170" stroke="#4a4a4a" stroke-width="1.6"/>
<text x="1465.6" y="1184.4" font-size="40" text-anchor="end" fill="#000">0.5</text>
<line x1="1482" y1="1080.3" x2="1488.7" y2="1080.3" stroke="#4a4a4a" stroke-width="1.6"/>
<line x1="1482" y1="990.5" x2="1488.7" y2="990.5" stroke="#4a4a4a" stroke-width="1.6"/>
<text x="1465.6" y="1004.9" font-size="40" text-anchor="end" fill="#000">1.0</text>
<line x1="1482" y1="900.7" x2="1488.7" y2="900.7" stroke="#4a4a4a" stroke-width="1.6"/>
<text x="1428.3" y="824.4" font-size="46" font-weight="bold" fill="#000">f</text>
</svg></body></html>
